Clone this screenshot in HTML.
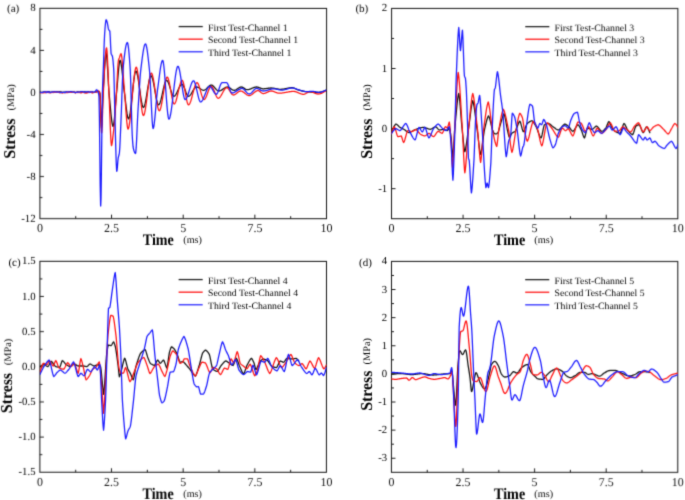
<!DOCTYPE html>
<html lang="en"><head><meta charset="utf-8"><title>Stress-time curves</title>
<style>html,body{margin:0;padding:0;background:#fff}body{width:685px;height:500px;overflow:hidden;font-family:"Liberation Serif", serif}svg text{font-family:"Liberation Serif", serif;text-rendering:geometricPrecision}</style>
</head><body>
<svg width="685" height="500" viewBox="0 0 685 500" style="display:block;font-family:'Liberation Serif', serif">
<rect width="685" height="500" fill="#fff"/>
<filter id="soft" x="0" y="0" width="685" height="500" filterUnits="userSpaceOnUse" color-interpolation-filters="sRGB"><feConvolveMatrix order="3" kernelMatrix="0.0192 0.1001 0.0192 0.1001 0.5228 0.1001 0.0192 0.1001 0.0192" edgeMode="duplicate" preserveAlpha="false"/></filter>
<g transform="rotate(0.02 342 250)" filter="url(#soft)">
<g id="panel-a">
<rect x="39.9" y="8.4" width="286.60" height="210.30" fill="none" stroke="#1c1c1c" stroke-width="1.05"/>
<path d="M39.9,50.46h4 M39.9,92.52h4 M39.9,134.58h4 M39.9,176.64h4 M39.9,29.43h2.5 M39.9,71.49h2.5 M39.9,113.55h2.5 M39.9,155.61h2.5 M39.9,197.67h2.5 M111.55,218.7v-4 M183.20,218.7v-4 M254.85,218.7v-4 M75.72,218.7v-2.5 M147.38,218.7v-2.5 M219.03,218.7v-2.5 M290.68,218.7v-2.5" stroke="#1c1c1c" stroke-width="1" fill="none"/>
<clipPath id="clipa"><rect x="39.9" y="8.4" width="286.6" height="210.29999999999998"/></clipPath>
<g clip-path="url(#clipa)" fill="none" stroke-width="1.28" stroke-linejoin="round" stroke-linecap="round">
<path d="M40.20,91.96 L40.60,92.16 L41.00,92.31 L41.40,92.38 L41.50,92.38 L41.80,92.36 L42.20,92.31 L42.60,92.25 L42.80,92.23 L43.00,92.23 L43.40,92.21 L43.80,92.20 L44.10,92.19 L44.20,92.19 L44.60,92.14 L45.00,92.10 L45.40,92.08 L45.40,92.08 L45.80,92.08 L46.20,92.09 L46.60,92.10 L46.70,92.10 L47.00,92.09 L47.40,92.05 L47.80,92.01 L48.00,91.99 L48.20,91.97 L48.60,91.93 L49.00,91.88 L49.30,91.87 L49.40,91.88 L49.80,92.04 L50.20,92.26 L50.60,92.38 L50.60,92.38 L51.00,92.32 L51.40,92.21 L51.80,92.13 L51.90,92.13 L52.20,92.14 L52.60,92.16 L53.00,92.18 L53.20,92.18 L53.40,92.17 L53.80,92.12 L54.20,92.06 L54.50,92.04 L54.60,92.05 L55.00,92.13 L55.40,92.24 L55.80,92.30 L55.80,92.30 L56.20,92.20 L56.60,92.01 L57.00,91.87 L57.10,91.87 L57.40,91.89 L57.80,91.98 L58.20,92.06 L58.40,92.07 L58.60,92.06 L59.00,91.98 L59.40,91.90 L59.70,91.87 L59.80,91.87 L60.20,91.88 L60.60,91.90 L61.00,91.92 L61.00,91.92 L61.40,92.05 L61.80,92.27 L62.20,92.42 L62.30,92.43 L62.60,92.41 L63.00,92.35 L63.40,92.27 L63.60,92.24 L63.80,92.22 L64.20,92.16 L64.60,92.12 L64.90,92.11 L65.00,92.11 L65.40,92.12 L65.80,92.14 L66.20,92.16 L66.20,92.16 L66.60,92.22 L67.00,92.31 L67.40,92.37 L67.50,92.37 L67.80,92.33 L68.20,92.20 L68.60,92.08 L68.80,92.06 L69.00,92.06 L69.40,92.11 L69.80,92.17 L70.10,92.20 L70.20,92.21 L70.60,92.23 L71.00,92.25 L71.40,92.26 L71.40,92.26 L71.80,92.22 L72.20,92.13 L72.60,92.07 L72.70,92.06 L73.00,92.07 L73.40,92.10 L73.80,92.14 L74.00,92.16 L74.20,92.18 L74.60,92.23 L75.00,92.28 L75.30,92.31 L75.40,92.32 L75.80,92.35 L76.20,92.38 L76.60,92.40 L76.60,92.40 L77.00,92.29 L77.40,92.09 L77.80,91.95 L77.90,91.94 L78.20,92.00 L78.60,92.20 L79.00,92.38 L79.20,92.41 L79.40,92.37 L79.80,92.16 L80.20,91.93 L80.50,91.85 L80.60,91.86 L81.00,92.00 L81.40,92.19 L81.80,92.30 L81.80,92.30 L82.20,92.32 L82.60,92.33 L83.00,92.34 L83.10,92.34 L83.40,92.28 L83.80,92.11 L84.20,91.96 L84.40,91.93 L84.60,91.94 L85.00,91.98 L85.40,92.05 L85.70,92.10 L85.80,92.12 L86.20,92.21 L86.60,92.30 L87.00,92.34 L87.00,92.34 L87.40,92.23 L87.80,92.02 L88.20,91.87 L88.30,91.86 L88.60,91.90 L89.00,92.04 L89.40,92.19 L89.60,92.23 L89.80,92.25 L90.20,92.29 L90.60,92.32 L90.90,92.33 L91.00,92.32 L91.40,92.27 L91.80,92.20 L92.20,92.16 L92.20,92.16 L92.60,92.19 L93.00,92.24 L93.40,92.28 L93.50,92.29 L93.80,92.28 L94.20,92.25 L94.60,92.21 L95.00,92.15 L95.40,92.09 L95.80,92.03 L96.00,92.00 L96.20,91.97 L96.60,91.89 L97.00,91.80 L97.40,91.70 L97.80,91.61 L98.20,91.55 L98.60,91.51 L98.80,91.50 L99.00,91.58 L99.40,92.19 L99.80,93.29 L100.00,94.00 L100.20,96.44 L100.60,108.12 L101.00,121.57 L101.40,128.00 L101.40,128.00 L101.80,124.09 L102.20,114.84 L102.60,103.91 L103.00,95.00 L103.00,95.00 L103.40,88.03 L103.80,80.74 L104.20,73.54 L104.60,66.84 L105.00,61.05 L105.40,56.59 L105.80,53.86 L106.10,53.20 L106.20,53.30 L106.60,55.42 L107.00,59.83 L107.40,65.86 L107.80,72.83 L108.20,80.08 L108.60,86.93 L109.00,92.72 L109.20,95.00 L109.40,97.08 L109.80,101.39 L110.20,105.79 L110.60,110.13 L111.00,114.26 L111.40,118.03 L111.80,121.28 L112.20,123.87 L112.60,125.65 L113.00,126.46 L113.10,126.50 L113.40,126.00 L113.80,123.97 L114.20,120.65 L114.60,116.38 L115.00,111.48 L115.40,106.27 L115.80,101.07 L116.20,96.21 L116.60,92.00 L116.60,92.00 L117.00,87.90 L117.40,83.31 L117.80,78.52 L118.20,73.78 L118.60,69.38 L119.00,65.57 L119.40,62.63 L119.80,60.84 L120.10,60.40 L120.20,60.44 L120.60,61.27 L121.00,63.08 L121.40,65.69 L121.80,68.91 L122.20,72.57 L122.60,76.49 L123.00,80.50 L123.40,84.42 L123.80,88.08 L124.20,91.29 L124.30,92.00 L124.60,94.18 L125.00,97.36 L125.40,100.72 L125.80,104.13 L126.20,107.48 L126.60,110.62 L127.00,113.44 L127.40,115.80 L127.80,117.58 L128.20,118.65 L128.50,118.90 L128.60,118.87 L129.00,118.28 L129.40,116.95 L129.80,115.00 L130.20,112.50 L130.60,109.56 L131.00,106.25 L131.40,102.66 L131.80,98.90 L132.20,95.05 L132.60,91.20 L133.00,87.44 L133.40,83.85 L133.80,80.54 L134.20,77.60 L134.60,75.10 L135.00,73.15 L135.40,71.82 L135.80,71.23 L135.90,71.20 L136.20,71.37 L136.60,72.09 L137.00,73.31 L137.40,74.98 L137.80,77.01 L138.20,79.35 L138.60,81.93 L139.00,84.68 L139.40,87.54 L139.80,90.44 L140.20,93.31 L140.60,96.10 L141.00,98.73 L141.40,101.13 L141.80,103.25 L142.20,105.01 L142.60,106.35 L143.00,107.20 L143.40,107.50 L143.40,107.50 L143.80,107.25 L144.20,106.52 L144.60,105.38 L145.00,103.88 L145.40,102.07 L145.80,100.01 L146.20,97.76 L146.60,95.37 L147.00,92.90 L147.40,90.40 L147.80,87.93 L148.20,85.54 L148.60,83.29 L149.00,81.23 L149.40,79.42 L149.80,77.92 L150.20,76.78 L150.60,76.05 L151.00,75.80 L151.00,75.80 L151.40,76.03 L151.80,76.70 L152.20,77.75 L152.60,79.13 L153.00,80.79 L153.40,82.67 L153.80,84.74 L154.20,86.93 L154.60,89.20 L155.00,91.50 L155.40,93.77 L155.80,95.96 L156.20,98.03 L156.60,99.91 L157.00,101.57 L157.40,102.95 L157.80,104.00 L158.20,104.67 L158.60,104.90 L158.60,104.90 L159.00,104.72 L159.40,104.20 L159.80,103.38 L160.20,102.29 L160.60,100.98 L161.00,99.49 L161.40,97.85 L161.80,96.10 L162.20,94.27 L162.60,92.42 L163.00,90.57 L163.40,88.76 L163.80,87.03 L164.20,85.42 L164.60,83.97 L165.00,82.71 L165.40,81.69 L165.80,80.94 L166.20,80.50 L166.50,80.40 L166.60,80.41 L167.00,80.61 L167.40,81.05 L167.80,81.70 L168.20,82.53 L168.60,83.51 L169.00,84.62 L169.40,85.81 L169.80,87.07 L170.20,88.35 L170.60,89.63 L171.00,90.89 L171.40,92.08 L171.80,93.19 L172.20,94.17 L172.60,95.00 L173.00,95.65 L173.40,96.09 L173.80,96.29 L173.90,96.30 L174.20,96.25 L174.60,96.04 L175.00,95.69 L175.40,95.20 L175.80,94.61 L176.20,93.91 L176.60,93.15 L177.00,92.32 L177.40,91.46 L177.80,90.57 L178.20,89.68 L178.60,88.80 L179.00,87.96 L179.40,87.16 L179.80,86.43 L180.20,85.78 L180.60,85.24 L181.00,84.82 L181.40,84.53 L181.80,84.41 L181.90,84.40 L182.20,84.47 L182.60,84.77 L183.00,85.28 L183.40,85.96 L183.80,86.79 L184.20,87.73 L184.60,88.75 L185.00,89.81 L185.40,90.89 L185.80,91.95 L186.20,92.97 L186.60,93.91 L187.00,94.74 L187.40,95.42 L187.80,95.93 L188.20,96.23 L188.50,96.30 L188.60,96.30 L189.00,96.19 L189.40,95.97 L189.80,95.63 L190.20,95.19 L190.60,94.68 L191.00,94.10 L191.40,93.46 L191.80,92.79 L192.20,92.09 L192.60,91.39 L193.00,90.69 L193.40,90.00 L193.80,89.36 L194.20,88.76 L194.60,88.23 L195.00,87.77 L195.40,87.41 L195.80,87.15 L196.20,87.02 L196.40,87.00 L196.60,87.01 L197.00,87.06 L197.40,87.17 L197.80,87.33 L198.20,87.52 L198.60,87.74 L199.00,87.98 L199.40,88.24 L199.80,88.51 L200.20,88.79 L200.60,89.06 L201.00,89.32 L201.40,89.56 L201.80,89.78 L202.20,89.97 L202.60,90.13 L203.00,90.24 L203.40,90.29 L203.60,90.30 L203.80,90.29 L204.20,90.21 L204.60,90.05 L205.00,89.84 L205.40,89.56 L205.80,89.25 L206.20,88.89 L206.60,88.51 L207.00,88.11 L207.40,87.70 L207.80,87.29 L208.20,86.89 L208.60,86.51 L209.00,86.15 L209.40,85.84 L209.80,85.56 L210.20,85.35 L210.60,85.19 L211.00,85.11 L211.20,85.10 L211.40,85.11 L211.80,85.20 L212.20,85.38 L212.60,85.63 L213.00,85.94 L213.40,86.30 L213.80,86.70 L214.20,87.13 L214.60,87.59 L215.00,88.05 L215.40,88.51 L215.80,88.97 L216.20,89.40 L216.60,89.80 L217.00,90.16 L217.40,90.47 L217.80,90.72 L218.20,90.90 L218.60,90.99 L218.80,91.00 L219.00,90.99 L219.40,90.94 L219.80,90.85 L220.20,90.72 L220.60,90.55 L221.00,90.35 L221.40,90.12 L221.80,89.88 L222.20,89.62 L222.60,89.35 L223.00,89.07 L223.40,88.79 L223.80,88.52 L224.20,88.25 L224.60,88.00 L225.00,87.76 L225.40,87.55 L225.80,87.36 L226.20,87.21 L226.60,87.10 L227.00,87.03 L227.40,87.00 L227.40,87.00 L227.80,87.03 L228.20,87.13 L228.60,87.29 L229.00,87.49 L229.40,87.73 L229.80,87.99 L230.20,88.28 L230.60,88.58 L231.00,88.87 L231.40,89.17 L231.80,89.44 L232.20,89.70 L232.60,89.92 L233.00,90.10 L233.40,90.22 L233.80,90.29 L234.00,90.30 L234.20,90.29 L234.60,90.24 L235.00,90.13 L235.40,89.97 L235.80,89.78 L236.20,89.56 L236.60,89.32 L237.00,89.06 L237.40,88.79 L237.80,88.51 L238.20,88.24 L238.60,87.98 L239.00,87.74 L239.40,87.52 L239.80,87.33 L240.20,87.17 L240.60,87.06 L241.00,87.01 L241.20,87.00 L241.40,87.01 L241.80,87.08 L242.20,87.20 L242.60,87.37 L243.00,87.58 L243.40,87.82 L243.80,88.08 L244.20,88.35 L244.60,88.62 L245.00,88.88 L245.40,89.12 L245.80,89.33 L246.20,89.50 L246.60,89.62 L247.00,89.69 L247.20,89.70 L247.40,89.70 L247.80,89.67 L248.20,89.61 L248.60,89.53 L249.00,89.44 L249.40,89.32 L249.80,89.18 L250.20,89.04 L250.60,88.88 L251.00,88.72 L251.40,88.55 L251.80,88.37 L252.20,88.20 L252.60,88.03 L253.00,87.86 L253.40,87.70 L253.80,87.55 L254.20,87.41 L254.60,87.29 L255.00,87.19 L255.40,87.10 L255.80,87.04 L256.20,87.01 L256.50,87.00 L256.60,87.00 L257.00,87.03 L257.40,87.09 L257.80,87.18 L258.20,87.29 L258.60,87.42 L259.00,87.56 L259.40,87.72 L259.80,87.88 L260.20,88.04 L260.60,88.20 L261.00,88.35 L261.40,88.48 L261.80,88.60 L262.20,88.69 L262.60,88.76 L263.00,88.80 L263.20,88.80 L263.40,88.80 L263.80,88.79 L264.20,88.76 L264.60,88.73 L265.00,88.69 L265.40,88.65 L265.80,88.60 L266.20,88.54 L266.60,88.48 L267.00,88.42 L267.40,88.36 L267.80,88.30 L268.20,88.24 L268.60,88.19 L269.00,88.14 L269.40,88.10 L269.80,88.06 L270.20,88.03 L270.60,88.01 L271.00,88.00 L271.10,88.00 L271.40,88.00 L271.80,88.02 L272.20,88.05 L272.60,88.09 L273.00,88.14 L273.40,88.20 L273.80,88.27 L274.20,88.34 L274.60,88.42 L275.00,88.50 L275.40,88.59 L275.80,88.67 L276.20,88.76 L276.60,88.84 L277.00,88.92 L277.40,88.99 L277.80,89.06 L278.20,89.13 L278.60,89.18 L279.00,89.23 L279.40,89.27 L279.80,89.29 L280.20,89.30 L280.30,89.30 L280.60,89.30 L281.00,89.28 L281.40,89.26 L281.80,89.23 L282.20,89.19 L282.60,89.14 L283.00,89.09 L283.40,89.03 L283.80,88.97 L284.20,88.90 L284.60,88.82 L285.00,88.75 L285.40,88.67 L285.80,88.59 L286.20,88.51 L286.60,88.43 L287.00,88.35 L287.40,88.27 L287.80,88.19 L288.20,88.12 L288.60,88.05 L289.00,87.98 L289.40,87.92 L289.80,87.87 L290.20,87.82 L290.60,87.78 L291.00,87.75 L291.40,87.72 L291.80,87.71 L292.20,87.70 L292.20,87.70 L292.60,87.72 L293.00,87.79 L293.40,87.90 L293.80,88.04 L294.20,88.21 L294.60,88.39 L295.00,88.59 L295.40,88.79 L295.80,88.99 L296.20,89.19 L296.60,89.37 L297.00,89.53 L297.40,89.67 L297.50,89.70 L297.80,89.78 L298.20,89.90 L298.60,90.01 L299.00,90.12 L299.40,90.23 L299.80,90.34 L300.20,90.45 L300.60,90.56 L301.00,90.66 L301.40,90.76 L301.80,90.86 L302.20,90.95 L302.60,91.04 L303.00,91.13 L303.40,91.21 L303.80,91.29 L304.20,91.37 L304.60,91.43 L305.00,91.50 L305.40,91.56 L305.80,91.61 L306.20,91.65 L306.60,91.69 L306.70,91.70 L307.00,91.73 L307.40,91.76 L307.80,91.79 L308.20,91.82 L308.60,91.85 L309.00,91.88 L309.40,91.91 L309.80,91.94 L310.20,91.97 L310.60,92.00 L311.00,92.03 L311.40,92.05 L311.80,92.08 L312.20,92.10 L312.60,92.12 L313.00,92.14 L313.40,92.16 L313.80,92.18 L314.20,92.20 L314.60,92.22 L315.00,92.23 L315.40,92.25 L315.80,92.26 L316.20,92.27 L316.60,92.28 L317.00,92.29 L317.40,92.29 L317.80,92.30 L318.20,92.30 L318.60,92.30 L318.60,92.30 L319.00,92.29 L319.40,92.26 L319.80,92.22 L320.20,92.16 L320.60,92.09 L321.00,92.00 L321.40,91.91 L321.80,91.80 L322.20,91.68 L322.60,91.55 L323.00,91.41 L323.40,91.27 L323.80,91.12 L324.20,90.97 L324.60,90.82 L325.00,90.66 L325.40,90.50 L325.80,90.34 L325.90,90.30" stroke="#151515"/>
<path d="M40.20,92.96 L40.60,92.73 L41.00,92.58 L41.40,92.51 L41.50,92.51 L41.80,92.57 L42.20,92.74 L42.60,92.89 L42.80,92.92 L43.00,92.90 L43.40,92.81 L43.80,92.70 L44.10,92.67 L44.20,92.67 L44.60,92.71 L45.00,92.76 L45.40,92.79 L45.40,92.79 L45.80,92.61 L46.20,92.27 L46.60,92.02 L46.70,92.01 L47.00,92.08 L47.40,92.31 L47.80,92.51 L48.00,92.55 L48.20,92.55 L48.60,92.53 L49.00,92.51 L49.30,92.51 L49.40,92.52 L49.80,92.65 L50.20,92.85 L50.60,92.95 L50.60,92.95 L51.00,92.81 L51.40,92.54 L51.80,92.34 L51.90,92.33 L52.20,92.37 L52.60,92.49 L53.00,92.60 L53.20,92.62 L53.40,92.58 L53.80,92.33 L54.20,92.06 L54.50,91.97 L54.60,91.98 L55.00,92.10 L55.40,92.28 L55.80,92.37 L55.80,92.37 L56.20,92.36 L56.60,92.33 L57.00,92.30 L57.10,92.29 L57.40,92.24 L57.80,92.16 L58.20,92.09 L58.40,92.08 L58.60,92.13 L59.00,92.43 L59.40,92.77 L59.70,92.88 L59.80,92.87 L60.20,92.71 L60.60,92.47 L61.00,92.36 L61.00,92.36 L61.40,92.52 L61.80,92.84 L62.20,93.06 L62.30,93.07 L62.60,93.01 L63.00,92.81 L63.40,92.64 L63.60,92.61 L63.80,92.61 L64.20,92.61 L64.60,92.62 L64.90,92.63 L65.00,92.63 L65.40,92.64 L65.80,92.65 L66.20,92.67 L66.20,92.67 L66.60,92.68 L67.00,92.70 L67.40,92.71 L67.50,92.71 L67.80,92.63 L68.20,92.36 L68.60,92.12 L68.80,92.08 L69.00,92.10 L69.40,92.23 L69.80,92.38 L70.10,92.43 L70.20,92.42 L70.60,92.35 L71.00,92.24 L71.40,92.19 L71.40,92.19 L71.80,92.23 L72.20,92.32 L72.60,92.38 L72.70,92.38 L73.00,92.33 L73.40,92.18 L73.80,92.04 L74.00,92.02 L74.20,92.08 L74.60,92.48 L75.00,92.92 L75.30,93.06 L75.40,93.05 L75.80,92.76 L76.20,92.36 L76.60,92.16 L76.60,92.16 L77.00,92.28 L77.40,92.53 L77.80,92.70 L77.90,92.71 L78.20,92.65 L78.60,92.46 L79.00,92.29 L79.20,92.26 L79.40,92.30 L79.80,92.57 L80.20,92.86 L80.50,92.95 L80.60,92.95 L81.00,92.90 L81.40,92.81 L81.80,92.69 L81.80,92.69 L82.20,92.50 L82.60,92.23 L83.00,92.07 L83.10,92.06 L83.40,92.17 L83.80,92.51 L84.20,92.84 L84.40,92.91 L84.60,92.94 L85.00,93.00 L85.40,93.03 L85.70,93.03 L85.80,93.03 L86.20,93.03 L86.60,93.01 L87.00,92.98 L87.00,92.98 L87.40,92.91 L87.80,92.77 L88.20,92.62 L88.30,92.58 L88.60,92.45 L89.00,92.25 L89.40,92.10 L89.60,92.07 L89.80,92.08 L90.20,92.09 L90.60,92.11 L90.90,92.13 L91.00,92.15 L91.40,92.44 L91.80,92.82 L92.20,93.01 L92.20,93.01 L92.60,92.93 L93.00,92.75 L93.40,92.59 L93.50,92.56 L93.80,92.51 L94.20,92.45 L94.60,92.40 L95.00,92.36 L95.40,92.31 L95.80,92.24 L96.00,92.20 L96.20,92.14 L96.60,91.96 L97.00,91.72 L97.40,91.47 L97.80,91.23 L98.20,91.07 L98.60,91.00 L98.60,91.00 L99.00,91.26 L99.40,91.96 L99.80,93.00 L99.80,93.00 L100.20,98.76 L100.60,110.40 L101.00,123.02 L101.40,131.69 L101.60,133.00 L101.80,131.77 L102.20,123.56 L102.60,111.33 L103.00,99.44 L103.20,95.00 L103.40,91.26 L103.80,83.52 L104.20,75.73 L104.60,68.24 L105.00,61.42 L105.40,55.62 L105.80,51.21 L106.20,48.54 L106.50,47.90 L106.60,48.05 L107.00,51.24 L107.40,57.77 L107.80,66.53 L108.20,76.40 L108.60,86.26 L109.00,95.00 L109.00,95.00 L109.40,103.98 L109.80,114.45 L110.20,125.12 L110.60,134.69 L111.00,141.90 L111.40,145.44 L111.50,145.60 L111.80,144.99 L112.20,142.66 L112.60,139.35 L113.00,135.82 L113.10,135.00 L113.40,132.47 L113.80,128.72 L114.20,124.55 L114.60,120.00 L114.60,120.00 L115.00,114.89 L115.40,109.16 L115.80,103.03 L116.20,96.72 L116.50,92.00 L116.60,90.37 L117.00,82.79 L117.40,74.59 L117.80,67.15 L118.20,61.88 L118.40,60.50 L118.60,59.74 L119.00,58.71 L119.30,58.00 L119.40,57.73 L119.80,56.47 L120.20,55.19 L120.60,54.20 L121.00,53.80 L121.00,53.80 L121.40,54.75 L121.80,57.36 L122.20,61.28 L122.60,66.18 L123.00,71.70 L123.40,77.49 L123.80,83.21 L124.20,88.51 L124.50,92.00 L124.60,93.10 L125.00,98.01 L125.40,103.44 L125.80,109.08 L126.20,114.59 L126.60,119.65 L127.00,123.94 L127.40,127.12 L127.80,128.87 L128.00,129.10 L128.20,128.99 L128.60,128.15 L129.00,126.56 L129.40,124.30 L129.80,121.46 L130.20,118.12 L130.60,114.38 L131.00,110.31 L131.40,106.00 L131.80,101.54 L132.20,97.02 L132.60,92.52 L133.00,88.12 L133.40,83.92 L133.80,80.00 L134.20,76.45 L134.60,73.35 L135.00,70.79 L135.40,68.85 L135.80,67.63 L136.20,67.20 L136.20,67.20 L136.60,67.63 L137.00,68.86 L137.40,70.79 L137.80,73.31 L138.20,76.33 L138.60,79.75 L139.00,83.47 L139.40,87.38 L139.80,91.40 L140.20,95.42 L140.60,99.33 L141.00,103.05 L141.40,106.47 L141.80,109.49 L142.20,112.01 L142.60,113.94 L143.00,115.17 L143.40,115.60 L143.40,115.60 L143.80,115.28 L144.20,114.38 L144.60,112.96 L145.00,111.09 L145.40,108.82 L145.80,106.24 L146.20,103.40 L146.60,100.37 L147.00,97.21 L147.40,94.00 L147.80,90.79 L148.20,87.66 L148.60,84.67 L149.00,81.89 L149.40,79.38 L149.80,77.21 L150.20,75.44 L150.60,74.14 L151.00,73.38 L151.30,73.20 L151.40,73.22 L151.80,73.62 L152.20,74.52 L152.60,75.86 L153.00,77.57 L153.40,79.61 L153.80,81.92 L154.20,84.44 L154.60,87.12 L155.00,89.89 L155.40,92.70 L155.80,95.51 L156.20,98.24 L156.60,100.84 L157.00,103.26 L157.40,105.44 L157.80,107.33 L158.20,108.86 L158.60,109.99 L159.00,110.65 L159.30,110.80 L159.40,110.78 L159.80,110.41 L160.20,109.59 L160.60,108.37 L161.00,106.80 L161.40,104.94 L161.80,102.84 L162.20,100.54 L162.60,98.11 L163.00,95.59 L163.40,93.04 L163.80,90.51 L164.20,88.06 L164.60,85.72 L165.00,83.57 L165.40,81.64 L165.80,79.99 L166.20,78.68 L166.60,77.75 L167.00,77.26 L167.20,77.20 L167.40,77.26 L167.80,77.76 L168.20,78.68 L168.60,79.99 L169.00,81.60 L169.40,83.48 L169.80,85.55 L170.20,87.75 L170.60,90.03 L171.00,92.32 L171.40,94.57 L171.80,96.71 L172.20,98.69 L172.60,100.44 L173.00,101.91 L173.40,103.03 L173.80,103.75 L174.20,104.00 L174.20,104.00 L174.60,103.82 L175.00,103.32 L175.40,102.53 L175.80,101.49 L176.20,100.23 L176.60,98.79 L177.00,97.21 L177.40,95.52 L177.80,93.76 L178.20,91.98 L178.60,90.19 L179.00,88.45 L179.40,86.79 L179.80,85.24 L180.20,83.84 L180.60,82.63 L181.00,81.65 L181.40,80.92 L181.80,80.50 L182.10,80.40 L182.20,80.42 L182.60,80.83 L183.00,81.72 L183.40,83.02 L183.80,84.67 L184.20,86.58 L184.60,88.69 L185.00,90.93 L185.40,93.22 L185.80,95.50 L186.20,97.68 L186.60,99.70 L187.00,101.49 L187.40,102.98 L187.80,104.08 L188.20,104.74 L188.50,104.90 L188.60,104.89 L189.00,104.68 L189.40,104.21 L189.80,103.50 L190.20,102.59 L190.60,101.50 L191.00,100.27 L191.40,98.91 L191.80,97.46 L192.20,95.94 L192.60,94.39 L193.00,92.82 L193.40,91.27 L193.80,89.77 L194.20,88.34 L194.60,87.01 L195.00,85.81 L195.40,84.76 L195.80,83.90 L196.20,83.25 L196.60,82.84 L197.00,82.70 L197.00,82.70 L197.40,82.86 L197.80,83.31 L198.20,84.02 L198.60,84.95 L199.00,86.05 L199.40,87.30 L199.80,88.65 L200.20,90.07 L200.60,91.51 L201.00,92.95 L201.40,94.34 L201.80,95.64 L202.20,96.82 L202.60,97.84 L203.00,98.66 L203.40,99.25 L203.80,99.56 L204.00,99.60 L204.20,99.57 L204.60,99.34 L205.00,98.91 L205.40,98.30 L205.80,97.54 L206.20,96.66 L206.60,95.68 L207.00,94.63 L207.40,93.55 L207.80,92.45 L208.20,91.37 L208.60,90.32 L209.00,89.34 L209.40,88.46 L209.80,87.70 L210.20,87.09 L210.60,86.66 L211.00,86.43 L211.20,86.40 L211.40,86.43 L211.80,86.65 L212.20,87.06 L212.60,87.64 L213.00,88.36 L213.40,89.19 L213.80,90.11 L214.20,91.08 L214.60,92.10 L215.00,93.11 L215.40,94.11 L215.80,95.06 L216.20,95.94 L216.60,96.72 L217.00,97.37 L217.40,97.87 L217.80,98.19 L218.20,98.30 L218.20,98.30 L218.60,98.23 L219.00,98.04 L219.40,97.73 L219.80,97.31 L220.20,96.82 L220.60,96.24 L221.00,95.61 L221.40,94.92 L221.80,94.21 L222.20,93.47 L222.60,92.72 L223.00,91.98 L223.40,91.25 L223.80,90.56 L224.20,89.91 L224.60,89.32 L225.00,88.80 L225.40,88.37 L225.80,88.03 L226.20,87.81 L226.60,87.70 L226.70,87.70 L227.00,87.74 L227.40,87.93 L227.80,88.24 L228.20,88.66 L228.60,89.17 L229.00,89.74 L229.40,90.37 L229.80,91.02 L230.20,91.68 L230.60,92.33 L231.00,92.96 L231.40,93.53 L231.80,94.04 L232.20,94.46 L232.60,94.77 L233.00,94.96 L233.30,95.00 L233.40,95.00 L233.80,94.95 L234.20,94.83 L234.60,94.66 L235.00,94.45 L235.40,94.20 L235.80,93.91 L236.20,93.61 L236.60,93.29 L237.00,92.96 L237.40,92.63 L237.80,92.31 L238.20,92.01 L238.60,91.74 L239.00,91.49 L239.40,91.29 L239.80,91.13 L240.20,91.03 L240.60,91.00 L240.60,91.00 L241.00,91.03 L241.40,91.11 L241.80,91.24 L242.20,91.42 L242.60,91.63 L243.00,91.87 L243.40,92.15 L243.80,92.44 L244.20,92.74 L244.60,93.06 L245.00,93.38 L245.40,93.70 L245.80,94.01 L246.20,94.31 L246.60,94.59 L247.00,94.85 L247.40,95.08 L247.80,95.27 L248.20,95.43 L248.60,95.54 L249.00,95.59 L249.20,95.60 L249.40,95.59 L249.80,95.53 L250.20,95.42 L250.60,95.25 L251.00,95.05 L251.40,94.80 L251.80,94.53 L252.20,94.23 L252.60,93.91 L253.00,93.57 L253.40,93.23 L253.80,92.88 L254.20,92.54 L254.60,92.21 L255.00,91.90 L255.40,91.60 L255.80,91.33 L256.20,91.10 L256.60,90.90 L257.00,90.75 L257.40,90.65 L257.80,90.60 L257.90,90.60 L258.20,90.63 L258.60,90.74 L259.00,90.93 L259.40,91.18 L259.80,91.48 L260.20,91.80 L260.60,92.14 L261.00,92.48 L261.40,92.80 L261.80,93.08 L262.20,93.32 L262.60,93.49 L263.00,93.59 L263.20,93.60 L263.40,93.60 L263.80,93.56 L264.20,93.49 L264.60,93.38 L265.00,93.26 L265.40,93.11 L265.80,92.94 L266.20,92.76 L266.60,92.57 L267.00,92.37 L267.40,92.18 L267.80,91.98 L268.20,91.79 L268.60,91.62 L269.00,91.45 L269.40,91.31 L269.80,91.19 L270.20,91.09 L270.60,91.03 L271.00,91.00 L271.10,91.00 L271.40,91.01 L271.80,91.05 L272.20,91.12 L272.60,91.21 L273.00,91.32 L273.40,91.45 L273.80,91.60 L274.20,91.75 L274.60,91.91 L275.00,92.08 L275.40,92.25 L275.80,92.41 L276.20,92.57 L276.60,92.71 L277.00,92.85 L277.40,92.97 L277.80,93.06 L278.20,93.14 L278.60,93.18 L279.00,93.20 L279.00,93.20 L279.40,93.20 L279.80,93.18 L280.20,93.17 L280.60,93.14 L281.00,93.11 L281.40,93.07 L281.80,93.02 L282.20,92.98 L282.60,92.92 L283.00,92.86 L283.40,92.80 L283.80,92.74 L284.20,92.67 L284.60,92.60 L285.00,92.53 L285.40,92.46 L285.80,92.38 L286.20,92.31 L286.60,92.23 L287.00,92.16 L287.40,92.09 L287.80,92.02 L288.20,91.95 L288.60,91.88 L289.00,91.81 L289.40,91.75 L289.80,91.69 L290.20,91.64 L290.60,91.59 L291.00,91.54 L291.40,91.50 L291.80,91.47 L292.20,91.44 L292.60,91.42 L293.00,91.41 L293.40,91.40 L293.50,91.40 L293.80,91.41 L294.20,91.44 L294.60,91.50 L295.00,91.58 L295.40,91.68 L295.80,91.80 L296.20,91.93 L296.60,92.07 L297.00,92.23 L297.40,92.40 L297.80,92.57 L298.20,92.74 L298.60,92.92 L299.00,93.09 L299.40,93.26 L299.80,93.43 L300.20,93.59 L300.60,93.74 L301.00,93.87 L301.40,93.99 L301.80,94.10 L302.20,94.18 L302.60,94.25 L303.00,94.29 L303.40,94.30 L303.40,94.30 L303.80,94.27 L304.20,94.19 L304.60,94.07 L305.00,93.92 L305.40,93.73 L305.80,93.52 L306.20,93.29 L306.60,93.06 L307.00,92.82 L307.40,92.59 L307.80,92.37 L308.20,92.17 L308.60,92.00 L309.00,91.86 L309.40,91.76 L309.80,91.71 L310.00,91.70 L310.20,91.70 L310.60,91.74 L311.00,91.80 L311.40,91.89 L311.80,92.00 L312.20,92.13 L312.60,92.27 L313.00,92.43 L313.40,92.59 L313.80,92.76 L314.20,92.94 L314.60,93.11 L315.00,93.27 L315.40,93.43 L315.80,93.57 L316.20,93.70 L316.60,93.81 L317.00,93.90 L317.40,93.96 L317.80,94.00 L318.00,94.00 L318.20,94.00 L318.60,93.98 L319.00,93.94 L319.40,93.88 L319.80,93.80 L320.20,93.70 L320.60,93.59 L321.00,93.46 L321.40,93.31 L321.80,93.14 L322.20,92.96 L322.60,92.76 L323.00,92.55 L323.40,92.33 L323.80,92.08 L324.20,91.83 L324.60,91.56 L325.00,91.28 L325.40,90.98 L325.80,90.68 L325.90,90.60" stroke="#ff1414"/>
<path d="M40.20,92.29 L40.60,92.43 L41.00,92.54 L41.40,92.58 L41.50,92.59 L41.80,92.58 L42.20,92.54 L42.60,92.49 L42.80,92.45 L43.00,92.39 L43.40,92.16 L43.80,91.92 L44.10,91.85 L44.20,91.85 L44.60,91.86 L45.00,91.89 L45.40,91.93 L45.40,91.93 L45.80,92.09 L46.20,92.37 L46.60,92.55 L46.70,92.56 L47.00,92.43 L47.40,92.03 L47.80,91.67 L48.00,91.61 L48.20,91.66 L48.60,92.00 L49.00,92.38 L49.30,92.50 L49.40,92.50 L49.80,92.50 L50.20,92.49 L50.60,92.48 L50.60,92.48 L51.00,92.40 L51.40,92.26 L51.80,92.14 L51.90,92.11 L52.20,92.06 L52.60,91.99 L53.00,91.95 L53.20,91.93 L53.40,91.93 L53.80,91.92 L54.20,91.91 L54.50,91.91 L54.60,91.90 L55.00,91.89 L55.40,91.88 L55.80,91.88 L55.80,91.88 L56.20,91.92 L56.60,92.01 L57.00,92.08 L57.10,92.09 L57.40,92.11 L57.80,92.13 L58.20,92.15 L58.40,92.16 L58.60,92.16 L59.00,92.18 L59.40,92.19 L59.70,92.21 L59.80,92.22 L60.20,92.38 L60.60,92.59 L61.00,92.70 L61.00,92.70 L61.40,92.66 L61.80,92.58 L62.20,92.49 L62.30,92.47 L62.60,92.42 L63.00,92.34 L63.40,92.29 L63.60,92.28 L63.80,92.31 L64.20,92.46 L64.60,92.63 L64.90,92.69 L65.00,92.67 L65.40,92.42 L65.80,92.05 L66.20,91.84 L66.20,91.84 L66.60,91.81 L67.00,91.79 L67.40,91.78 L67.50,91.78 L67.80,91.84 L68.20,92.05 L68.60,92.24 L68.80,92.27 L69.00,92.23 L69.40,92.00 L69.80,91.74 L70.10,91.65 L70.20,91.65 L70.60,91.64 L71.00,91.64 L71.40,91.64 L71.40,91.64 L71.80,91.76 L72.20,91.99 L72.60,92.16 L72.70,92.17 L73.00,92.16 L73.40,92.14 L73.80,92.12 L74.00,92.11 L74.20,92.14 L74.60,92.33 L75.00,92.54 L75.30,92.61 L75.40,92.60 L75.80,92.52 L76.20,92.39 L76.60,92.29 L76.60,92.29 L77.00,92.24 L77.40,92.20 L77.80,92.17 L77.90,92.17 L78.20,92.16 L78.60,92.16 L79.00,92.15 L79.20,92.15 L79.40,92.13 L79.80,92.05 L80.20,91.94 L80.50,91.87 L80.60,91.85 L81.00,91.75 L81.40,91.65 L81.80,91.61 L81.80,91.61 L82.20,91.64 L82.60,91.70 L83.00,91.79 L83.10,91.81 L83.40,91.93 L83.80,92.15 L84.20,92.33 L84.40,92.36 L84.60,92.33 L85.00,92.12 L85.40,91.89 L85.70,91.82 L85.80,91.82 L86.20,91.88 L86.60,91.96 L87.00,92.01 L87.00,92.01 L87.40,91.92 L87.80,91.74 L88.20,91.61 L88.30,91.60 L88.60,91.73 L89.00,92.11 L89.40,92.46 L89.60,92.51 L89.80,92.47 L90.20,92.18 L90.60,91.87 L90.90,91.77 L91.00,91.77 L91.40,91.80 L91.80,91.85 L92.20,91.89 L92.20,91.89 L92.60,91.93 L93.00,91.98 L93.40,92.02 L93.80,92.06 L94.20,92.09 L94.60,92.10 L94.60,92.10 L95.00,91.87 L95.40,91.33 L95.80,90.67 L96.20,90.13 L96.60,89.90 L96.60,89.90 L97.00,90.13 L97.40,90.72 L97.80,91.54 L98.00,92.00 L98.20,92.52 L98.60,94.11 L98.90,96.00 L99.00,97.66 L99.40,118.72 L99.80,152.70 L100.20,186.01 L100.60,205.06 L100.70,206.00 L101.00,198.30 L101.40,170.58 L101.80,134.60 L102.20,103.09 L102.40,93.00 L102.60,86.31 L103.00,75.81 L103.40,66.00 L103.40,66.00 L103.80,54.20 L104.20,42.44 L104.60,34.00 L104.60,34.00 L105.00,28.45 L105.40,23.71 L105.80,20.59 L106.10,19.80 L106.20,19.84 L106.60,20.58 L107.00,21.95 L107.40,23.50 L107.40,23.50 L107.80,25.66 L108.20,28.16 L108.50,29.40 L108.60,29.62 L109.00,30.19 L109.40,30.61 L109.80,31.40 L109.80,31.40 L110.20,36.70 L110.60,46.07 L111.00,53.14 L111.10,53.80 L111.40,54.59 L111.80,55.17 L112.20,55.91 L112.30,56.20 L112.60,57.60 L113.00,60.76 L113.40,65.32 L113.70,69.60 L113.80,71.53 L114.20,85.24 L114.60,103.59 L115.00,120.00 L115.00,120.00 L115.40,134.49 L115.80,149.57 L116.20,162.42 L116.60,170.20 L116.80,171.30 L117.00,170.70 L117.40,166.89 L117.80,161.79 L118.20,158.00 L118.20,158.00 L118.60,156.33 L119.00,155.01 L119.30,153.50 L119.40,152.71 L119.80,147.19 L120.20,138.93 L120.60,129.38 L121.00,120.00 L121.00,120.00 L121.40,109.81 L121.80,97.99 L122.20,86.23 L122.60,76.21 L123.00,69.60 L123.00,69.60 L123.40,65.37 L123.80,61.40 L124.20,57.70 L124.60,54.32 L125.00,51.30 L125.40,48.67 L125.80,46.47 L126.20,44.73 L126.60,43.48 L127.00,42.76 L127.30,42.60 L127.40,42.64 L127.80,43.66 L128.20,45.90 L128.60,49.19 L129.00,53.37 L129.40,58.27 L129.80,63.74 L130.20,69.60 L130.20,69.60 L130.60,79.16 L131.00,93.70 L131.40,109.99 L131.80,124.83 L132.20,135.00 L132.20,135.00 L132.60,141.34 L133.00,146.20 L133.30,148.30 L133.40,148.72 L133.80,150.26 L134.20,151.54 L134.60,152.53 L135.00,153.19 L135.40,153.49 L135.50,153.50 L135.80,152.27 L136.20,147.41 L136.60,139.93 L137.00,131.00 L137.40,121.79 L137.80,113.47 L138.00,110.00 L138.20,106.80 L138.60,100.22 L139.00,93.61 L139.40,87.19 L139.80,81.20 L140.20,75.87 L140.60,71.42 L140.80,69.60 L141.00,67.93 L141.40,64.61 L141.80,61.37 L142.20,58.25 L142.60,55.30 L143.00,52.58 L143.40,50.14 L143.80,48.03 L144.20,46.30 L144.60,45.00 L145.00,44.18 L145.40,43.90 L145.40,43.90 L145.80,44.29 L146.20,45.39 L146.60,47.13 L147.00,49.41 L147.40,52.15 L147.80,55.25 L148.20,58.64 L148.60,62.21 L149.00,65.90 L149.40,69.60 L149.40,69.60 L149.80,74.45 L150.20,81.19 L150.60,89.21 L151.00,97.86 L151.40,106.51 L151.80,114.52 L152.20,121.27 L152.60,126.10 L153.00,128.40 L153.10,128.50 L153.40,128.12 L153.80,126.54 L154.20,123.93 L154.60,120.49 L155.00,116.43 L155.40,111.96 L155.80,107.29 L156.20,102.62 L156.60,98.17 L157.00,94.13 L157.40,90.73 L157.50,90.00 L157.80,87.84 L158.20,84.83 L158.60,81.72 L159.00,78.58 L159.40,75.49 L159.80,72.51 L160.20,69.70 L160.60,67.14 L161.00,64.90 L161.40,63.03 L161.80,61.61 L162.20,60.71 L162.60,60.40 L162.60,60.40 L163.00,61.08 L163.40,63.00 L163.80,65.99 L164.20,69.85 L164.60,74.42 L165.00,79.50 L165.40,84.92 L165.80,90.50 L166.20,96.06 L166.60,101.41 L167.00,106.38 L167.40,110.79 L167.80,114.45 L168.20,117.18 L168.60,118.81 L168.90,119.20 L169.00,119.18 L169.40,118.73 L169.80,117.72 L170.20,116.21 L170.60,114.25 L171.00,111.90 L171.40,109.22 L171.80,106.26 L172.20,103.08 L172.60,99.73 L173.00,96.27 L173.40,92.75 L173.80,89.23 L174.20,85.77 L174.60,82.42 L175.00,79.24 L175.40,76.28 L175.80,73.60 L176.20,71.25 L176.60,69.29 L177.00,67.78 L177.40,66.77 L177.80,66.32 L177.90,66.30 L178.20,66.46 L178.60,67.16 L179.00,68.34 L179.40,69.94 L179.80,71.89 L180.20,74.13 L180.60,76.60 L181.00,79.22 L181.40,81.92 L181.80,84.66 L182.20,87.35 L182.60,89.94 L183.00,92.35 L183.40,94.52 L183.80,96.40 L184.20,97.90 L184.60,98.96 L185.00,99.53 L185.20,99.60 L185.40,99.57 L185.80,99.32 L186.20,98.85 L186.60,98.18 L187.00,97.33 L187.40,96.34 L187.80,95.22 L188.20,94.01 L188.60,92.72 L189.00,91.39 L189.40,90.03 L189.80,88.68 L190.20,87.35 L190.60,86.08 L191.00,84.89 L191.40,83.80 L191.80,82.84 L192.20,82.04 L192.60,81.42 L193.00,81.00 L193.40,80.81 L193.50,80.80 L193.80,80.91 L194.20,81.38 L194.60,82.17 L195.00,83.24 L195.40,84.54 L195.80,86.03 L196.20,87.67 L196.60,89.40 L197.00,91.18 L197.40,92.96 L197.80,94.71 L198.20,96.37 L198.60,97.90 L199.00,99.26 L199.40,100.39 L199.80,101.25 L200.20,101.81 L200.60,102.00 L200.60,102.00 L201.00,101.91 L201.40,101.65 L201.80,101.24 L202.20,100.70 L202.60,100.03 L203.00,99.26 L203.40,98.41 L203.80,97.49 L204.20,96.51 L204.60,95.49 L205.00,94.46 L205.40,93.42 L205.80,92.39 L206.20,91.40 L206.60,90.44 L207.00,89.55 L207.40,88.74 L207.80,88.02 L208.20,87.42 L208.60,86.93 L209.00,86.60 L209.40,86.42 L209.60,86.40 L209.80,86.42 L210.20,86.58 L210.60,86.89 L211.00,87.32 L211.40,87.84 L211.80,88.45 L212.20,89.11 L212.60,89.81 L213.00,90.53 L213.40,91.24 L213.80,91.93 L214.20,92.56 L214.60,93.13 L215.00,93.61 L215.40,93.98 L215.80,94.22 L216.20,94.30 L216.20,94.30 L216.60,94.15 L217.00,93.72 L217.40,93.06 L217.80,92.20 L218.20,91.20 L218.60,90.10 L219.00,88.94 L219.40,87.76 L219.80,86.61 L220.20,85.53 L220.60,84.57 L221.00,83.76 L221.40,83.15 L221.80,82.79 L222.10,82.70 L222.20,82.70 L222.60,82.70 L223.00,82.70 L223.40,82.70 L223.80,82.70 L224.20,82.70 L224.60,82.70 L225.00,82.70 L225.40,82.70 L225.80,82.70 L226.20,82.70 L226.50,82.70 L226.60,82.71 L227.00,82.94 L227.40,83.44 L227.80,84.15 L228.20,85.04 L228.60,86.06 L229.00,87.15 L229.40,88.27 L229.80,89.37 L230.20,90.41 L230.60,91.34 L231.00,92.10 L231.40,92.66 L231.80,92.96 L232.00,93.00 L232.20,92.99 L232.60,92.94 L233.00,92.85 L233.40,92.72 L233.80,92.55 L234.20,92.36 L234.60,92.14 L235.00,91.90 L235.40,91.64 L235.80,91.38 L236.20,91.11 L236.60,90.85 L237.00,90.59 L237.40,90.34 L237.80,90.10 L238.20,89.89 L238.60,89.70 L238.60,89.70 L239.00,89.51 L239.40,89.31 L239.80,89.10 L240.20,88.89 L240.60,88.71 L241.00,88.56 L241.40,88.45 L241.80,88.40 L241.90,88.40 L242.20,88.43 L242.60,88.54 L243.00,88.74 L243.40,89.01 L243.80,89.34 L244.20,89.72 L244.60,90.13 L245.00,90.57 L245.40,91.03 L245.80,91.49 L246.20,91.94 L246.60,92.37 L247.00,92.78 L247.40,93.15 L247.80,93.46 L248.20,93.71 L248.60,93.89 L249.00,93.99 L249.20,94.00 L249.40,93.99 L249.80,93.90 L250.20,93.72 L250.60,93.47 L251.00,93.17 L251.40,92.81 L251.80,92.41 L252.20,91.99 L252.60,91.54 L253.00,91.09 L253.40,90.64 L253.80,90.20 L254.20,89.79 L254.60,89.41 L255.00,89.07 L255.40,88.79 L255.80,88.58 L256.20,88.45 L256.60,88.40 L256.60,88.40 L257.00,88.43 L257.40,88.51 L257.80,88.63 L258.20,88.78 L258.60,88.97 L259.00,89.18 L259.40,89.41 L259.80,89.64 L260.20,89.88 L260.60,90.11 L261.00,90.33 L261.40,90.53 L261.80,90.70 L262.20,90.84 L262.60,90.94 L263.00,90.99 L263.20,91.00 L263.40,91.00 L263.80,90.98 L264.20,90.94 L264.60,90.89 L265.00,90.83 L265.40,90.75 L265.80,90.66 L266.20,90.56 L266.60,90.46 L267.00,90.34 L267.40,90.23 L267.80,90.10 L268.20,89.98 L268.60,89.85 L269.00,89.73 L269.40,89.60 L269.80,89.49 L270.20,89.37 L270.60,89.26 L271.00,89.16 L271.40,89.07 L271.80,88.99 L272.20,88.92 L272.60,88.87 L273.00,88.83 L273.40,88.81 L273.70,88.80 L273.80,88.80 L274.20,88.81 L274.60,88.85 L275.00,88.89 L275.40,88.95 L275.80,89.02 L276.20,89.10 L276.60,89.19 L277.00,89.28 L277.40,89.38 L277.80,89.47 L278.20,89.57 L278.60,89.67 L279.00,89.76 L279.40,89.84 L279.80,89.91 L280.20,89.98 L280.60,90.03 L281.00,90.07 L281.40,90.09 L281.70,90.10 L281.80,90.10 L282.20,90.09 L282.60,90.06 L283.00,90.01 L283.40,89.95 L283.80,89.88 L284.20,89.80 L284.60,89.71 L285.00,89.61 L285.40,89.50 L285.80,89.39 L286.20,89.27 L286.60,89.15 L287.00,89.04 L287.40,88.92 L287.80,88.80 L288.20,88.68 L288.60,88.57 L289.00,88.47 L289.40,88.37 L289.80,88.28 L290.20,88.20 L290.60,88.13 L291.00,88.08 L291.40,88.03 L291.80,88.01 L292.20,88.00 L292.20,88.00 L292.60,88.01 L293.00,88.05 L293.40,88.11 L293.80,88.18 L294.20,88.28 L294.60,88.38 L295.00,88.51 L295.40,88.64 L295.80,88.78 L296.20,88.93 L296.60,89.08 L297.00,89.24 L297.40,89.39 L297.80,89.55 L298.20,89.70 L298.60,89.84 L299.00,89.98 L299.40,90.11 L299.80,90.22 L300.10,90.30 L300.20,90.32 L300.60,90.43 L301.00,90.53 L301.40,90.65 L301.80,90.76 L302.20,90.87 L302.60,90.99 L303.00,91.10 L303.40,91.20 L303.80,91.30 L304.20,91.39 L304.60,91.48 L305.00,91.55 L305.40,91.61 L305.80,91.65 L306.20,91.69 L306.60,91.70 L306.70,91.70 L307.00,91.70 L307.40,91.68 L307.80,91.66 L308.20,91.62 L308.60,91.58 L309.00,91.54 L309.40,91.49 L309.80,91.45 L310.20,91.41 L310.60,91.37 L311.00,91.34 L311.40,91.31 L311.80,91.30 L312.00,91.30 L312.20,91.30 L312.60,91.32 L313.00,91.36 L313.40,91.42 L313.80,91.48 L314.20,91.56 L314.60,91.64 L315.00,91.73 L315.40,91.82 L315.80,91.91 L316.20,92.00 L316.60,92.08 L317.00,92.15 L317.40,92.21 L317.80,92.26 L318.20,92.29 L318.60,92.30 L318.60,92.30 L319.00,92.29 L319.40,92.27 L319.80,92.23 L320.20,92.18 L320.60,92.11 L321.00,92.03 L321.40,91.93 L321.80,91.83 L322.20,91.71 L322.60,91.58 L323.00,91.43 L323.40,91.28 L323.80,91.12 L324.20,90.94 L324.60,90.76 L325.00,90.57 L325.40,90.36 L325.80,90.15 L325.90,90.10" stroke="#1a1aff"/>
</g>
<g font-size="10.8" fill="#000" text-anchor="end">
<text x="35.6" y="11.4">8</text>
<text x="35.6" y="53.5">4</text>
<text x="35.6" y="95.5">0</text>
<text x="35.6" y="137.6">-4</text>
<text x="35.6" y="179.6">-8</text>
<text x="35.6" y="221.7">-12</text>
</g>
<g font-size="12" fill="#111" text-anchor="middle">
<text x="39.9" y="231.9">0</text>
<text x="111.6" y="231.9">2.5</text>
<text x="183.2" y="231.9">5</text>
<text x="254.9" y="231.9">7.5</text>
<text x="326.5" y="231.9">10</text>
</g>
<text x="7.0" y="12.4" font-size="11" fill="#000">(a)</text>
<text transform="translate(15.4,158.8) rotate(-90)" font-size="16.5" font-weight="bold" fill="#000" textLength="40.2" lengthAdjust="spacingAndGlyphs">Stress</text>
<text transform="translate(13.8,110.6) rotate(-90)" font-size="10" fill="#000" textLength="26.4" lengthAdjust="spacingAndGlyphs">(MPa)</text>
<text x="142.8" y="244.9" font-size="16.2" font-weight="bold" fill="#000" textLength="31.0" lengthAdjust="spacingAndGlyphs">Time</text>
<text x="183.3" y="243.1" font-size="10" fill="#000" textLength="18.7" lengthAdjust="spacingAndGlyphs">(ms)</text>
<path d="M178.6,26.6h24.1" stroke="#222" stroke-width="1.3"/>
<text x="208.0" y="30.7" font-size="9.7" fill="#000" textLength="79.6" lengthAdjust="spacingAndGlyphs">First Test-Channel 1</text>
<path d="M178.6,39.2h24.1" stroke="#ff1414" stroke-width="1.3"/>
<text x="208.0" y="43.3" font-size="9.7" fill="#000" textLength="90.0" lengthAdjust="spacingAndGlyphs">Second Test-Channel 1</text>
<path d="M178.6,51.8h24.1" stroke="#2a2aff" stroke-width="1.3"/>
<text x="208.0" y="55.9" font-size="9.7" fill="#000" textLength="83.3" lengthAdjust="spacingAndGlyphs">Third Test-Channel 1</text>
</g>
<g id="panel-b">
<rect x="391.5" y="8.4" width="286.30" height="210.30" fill="none" stroke="#1c1c1c" stroke-width="1.05"/>
<path d="M391.5,68.49h4 M391.5,128.57h4 M391.5,188.66h4 M391.5,38.44h2.5 M391.5,98.53h2.5 M391.5,158.61h2.5 M463.07,218.7v-4 M534.65,218.7v-4 M606.22,218.7v-4 M427.29,218.7v-2.5 M498.86,218.7v-2.5 M570.44,218.7v-2.5 M642.01,218.7v-2.5" stroke="#1c1c1c" stroke-width="1" fill="none"/>
<clipPath id="clipb"><rect x="391.5" y="8.4" width="286.29999999999995" height="210.29999999999998"/></clipPath>
<g clip-path="url(#clipb)" fill="none" stroke-width="1.28" stroke-linejoin="round" stroke-linecap="round">
<path d="M391.30,133.30 L391.70,132.12 L392.10,130.99 L392.50,129.92 L392.90,128.91 L393.30,127.98 L393.70,127.12 L394.10,126.34 L394.50,125.65 L394.90,125.05 L395.30,124.55 L395.70,124.16 L395.90,124.00 L396.10,124.07 L396.50,124.27 L396.90,124.55 L397.30,124.88 L397.70,125.25 L398.10,125.64 L398.50,126.05 L398.90,126.45 L399.30,126.82 L399.70,127.15 L399.90,127.30 L400.10,127.42 L400.50,127.64 L400.90,127.85 L401.30,128.05 L401.70,128.25 L402.10,128.44 L402.50,128.64 L402.90,128.83 L403.30,129.04 L403.70,129.25 L403.80,129.30 L404.10,129.48 L404.50,129.75 L404.90,130.03 L405.30,130.33 L405.70,130.63 L406.10,130.93 L406.50,131.23 L406.90,131.51 L407.30,131.78 L407.70,132.02 L408.10,132.24 L408.50,132.41 L408.90,132.55 L409.10,132.60 L409.30,132.56 L409.70,132.45 L410.10,132.31 L410.50,132.14 L410.90,131.95 L411.30,131.74 L411.70,131.51 L412.10,131.28 L412.50,131.04 L412.90,130.80 L413.30,130.57 L413.70,130.35 L414.10,130.14 L414.40,130.00 L414.50,129.96 L414.90,129.79 L415.30,129.63 L415.70,129.46 L416.10,129.30 L416.50,129.14 L416.90,128.98 L417.30,128.82 L417.70,128.67 L418.10,128.52 L418.50,128.38 L418.90,128.25 L419.30,128.12 L419.70,128.00 L419.70,128.00 L420.10,127.91 L420.50,127.82 L420.90,127.73 L421.30,127.65 L421.70,127.56 L422.10,127.49 L422.50,127.42 L422.90,127.37 L423.30,127.32 L423.60,127.30 L423.70,127.31 L424.10,127.37 L424.50,127.46 L424.90,127.57 L425.30,127.69 L425.70,127.83 L426.10,127.98 L426.50,128.14 L426.90,128.30 L427.30,128.46 L427.70,128.62 L428.10,128.77 L428.50,128.91 L428.90,129.03 L429.30,129.14 L429.70,129.23 L430.10,129.29 L430.20,129.30 L430.50,129.23 L430.90,129.10 L431.30,128.92 L431.70,128.71 L432.10,128.48 L432.50,128.23 L432.90,127.97 L433.30,127.71 L433.70,127.46 L434.10,127.23 L434.50,127.03 L434.90,126.86 L435.30,126.74 L435.50,126.70 L435.70,126.77 L436.10,127.00 L436.50,127.32 L436.90,127.71 L437.30,128.13 L437.70,128.57 L438.10,128.99 L438.50,129.38 L438.90,129.70 L439.30,129.93 L439.50,130.00 L439.70,129.98 L440.10,129.93 L440.50,129.86 L440.90,129.78 L441.30,129.69 L441.70,129.59 L442.10,129.50 L442.50,129.42 L442.90,129.35 L443.30,129.31 L443.40,129.30 L443.70,129.35 L444.10,129.45 L444.50,129.58 L444.90,129.74 L445.30,129.91 L445.70,130.08 L446.10,130.24 L446.50,130.39 L446.90,130.51 L447.30,130.59 L447.40,130.60 L447.70,130.34 L448.10,129.75 L448.50,129.03 L448.90,128.38 L449.30,128.00 L449.30,128.00 L449.70,129.16 L450.10,131.01 L450.50,133.35 L450.90,135.98 L451.20,138.00 L451.30,139.01 L451.70,144.35 L452.10,150.49 L452.50,155.71 L452.80,158.00 L452.90,157.37 L453.30,153.03 L453.70,146.64 L454.10,139.37 L454.50,132.37 L454.80,128.00 L454.90,126.94 L455.30,122.60 L455.70,118.20 L456.10,113.83 L456.50,109.60 L456.90,105.61 L457.30,101.96 L457.70,98.76 L458.10,96.11 L458.50,94.12 L458.70,93.40 L458.90,94.30 L459.30,97.02 L459.70,100.73 L460.10,105.17 L460.50,110.07 L460.90,115.16 L461.30,120.19 L461.70,124.87 L462.00,128.00 L462.10,128.92 L462.50,132.83 L462.90,136.93 L463.30,140.99 L463.70,144.77 L464.10,148.02 L464.50,150.49 L464.80,151.70 L464.90,151.46 L465.30,150.12 L465.70,148.23 L466.10,145.91 L466.50,143.26 L466.90,140.38 L467.30,137.37 L467.70,134.35 L468.10,131.40 L468.50,128.65 L468.60,128.00 L468.90,125.95 L469.30,122.96 L469.70,119.80 L470.10,116.56 L470.50,113.33 L470.90,110.24 L471.30,107.37 L471.70,104.83 L472.10,102.72 L472.50,101.15 L472.70,100.60 L472.90,101.13 L473.30,102.59 L473.70,104.53 L474.10,106.87 L474.50,109.52 L474.90,112.42 L475.30,115.49 L475.70,118.65 L476.10,121.83 L476.50,124.94 L476.90,127.91 L477.20,130.00 L477.30,130.71 L477.70,133.79 L478.10,137.15 L478.50,140.62 L478.90,144.04 L479.30,147.25 L479.70,150.09 L480.10,152.40 L480.50,154.02 L480.60,154.30 L480.90,153.41 L481.30,151.63 L481.70,149.30 L482.10,146.55 L482.50,143.54 L482.90,140.41 L483.30,137.29 L483.70,134.34 L484.10,131.70 L484.40,130.00 L484.50,129.58 L484.90,127.89 L485.30,126.16 L485.70,124.45 L486.10,122.79 L486.50,121.21 L486.90,119.74 L487.30,118.44 L487.70,117.32 L488.10,116.43 L488.50,115.80 L488.50,115.80 L488.90,116.48 L489.30,117.49 L489.70,118.77 L490.10,120.25 L490.50,121.87 L490.90,123.57 L491.30,125.26 L491.70,126.90 L492.10,128.40 L492.50,129.71 L492.60,130.00 L492.90,130.71 L493.30,131.66 L493.70,132.53 L494.10,133.24 L494.40,133.60 L494.50,133.63 L494.90,133.72 L495.30,133.80 L495.70,133.86 L496.10,133.90 L496.10,133.90 L496.50,133.71 L496.90,133.42 L497.30,133.05 L497.70,132.61 L498.10,132.12 L498.20,132.00 L498.50,131.23 L498.90,129.92 L499.30,128.40 L499.70,126.83 L500.10,125.34 L500.20,125.00 L500.50,124.03 L500.90,122.65 L501.30,121.22 L501.70,119.79 L502.10,118.40 L502.50,117.10 L502.90,115.94 L503.30,114.95 L503.70,114.19 L504.00,113.80 L504.10,113.99 L504.50,115.08 L504.90,116.65 L505.30,118.58 L505.70,120.75 L506.10,123.04 L506.50,125.36 L506.90,127.56 L507.30,129.55 L507.40,130.00 L507.70,131.29 L508.10,133.12 L508.50,134.88 L508.90,136.32 L509.30,137.20 L509.30,137.20 L509.70,136.85 L510.10,136.28 L510.50,135.58 L510.90,134.81 L511.30,134.08 L511.70,133.45 L511.90,133.20 L512.10,133.05 L512.50,132.78 L512.90,132.55 L513.30,132.34 L513.70,132.13 L514.10,131.92 L514.50,131.69 L514.90,131.43 L515.20,131.20 L515.30,131.06 L515.70,130.36 L516.10,129.50 L516.50,128.52 L516.90,127.46 L517.30,126.36 L517.70,125.26 L518.10,124.20 L518.50,123.22 L518.90,122.36 L519.30,121.67 L519.70,121.18 L519.80,121.10 L520.10,121.56 L520.50,122.54 L520.90,123.85 L521.30,125.36 L521.70,126.95 L522.10,128.48 L522.50,129.85 L522.90,130.93 L523.30,131.60 L523.30,131.60 L523.70,131.19 L524.10,130.55 L524.50,129.74 L524.90,128.81 L525.30,127.80 L525.70,126.77 L526.10,125.77 L526.50,124.84 L526.90,124.03 L527.30,123.40 L527.30,123.40 L527.70,123.08 L528.10,122.77 L528.50,122.46 L528.90,122.17 L529.30,121.90 L529.70,121.64 L530.10,121.41 L530.50,121.20 L530.90,121.02 L531.30,120.86 L531.70,120.75 L531.90,120.70 L532.10,120.81 L532.50,121.12 L532.90,121.53 L533.30,122.03 L533.70,122.59 L534.10,123.21 L534.50,123.86 L534.90,124.53 L535.30,125.19 L535.70,125.84 L535.80,126.00 L536.10,126.60 L536.50,127.49 L536.90,128.48 L537.30,129.52 L537.70,130.61 L538.10,131.71 L538.50,132.81 L538.90,133.86 L539.30,134.85 L539.70,135.76 L540.10,136.56 L540.50,137.22 L540.90,137.72 L541.10,137.90 L541.30,137.53 L541.70,136.35 L542.10,134.70 L542.50,132.75 L542.90,130.69 L543.30,128.66 L543.70,126.85 L544.10,125.42 L544.40,124.70 L544.50,124.65 L544.90,124.45 L545.30,124.27 L545.70,124.10 L546.10,123.95 L546.50,123.82 L546.90,123.70 L547.30,123.59 L547.70,123.51 L548.10,123.44 L548.40,123.40 L548.50,123.43 L548.90,123.58 L549.30,123.78 L549.70,124.03 L550.10,124.32 L550.50,124.63 L550.90,124.97 L551.30,125.32 L551.70,125.67 L552.10,126.01 L552.50,126.33 L552.90,126.63 L553.00,126.70 L553.30,126.90 L553.70,127.18 L554.10,127.48 L554.50,127.78 L554.90,128.08 L555.30,128.38 L555.70,128.67 L556.10,128.95 L556.50,129.21 L556.90,129.44 L557.30,129.65 L557.70,129.82 L558.10,129.95 L558.30,130.00 L558.50,129.93 L558.90,129.72 L559.30,129.44 L559.70,129.10 L560.10,128.72 L560.50,128.29 L560.90,127.83 L561.30,127.36 L561.70,126.88 L562.10,126.40 L562.50,125.94 L562.90,125.49 L563.30,125.09 L563.70,124.72 L564.10,124.41 L564.50,124.17 L564.90,124.00 L564.90,124.00 L565.30,124.13 L565.70,124.31 L566.10,124.54 L566.50,124.81 L566.90,125.12 L567.30,125.44 L567.70,125.78 L568.10,126.12 L568.50,126.45 L568.80,126.70 L568.90,126.80 L569.30,127.24 L569.70,127.75 L570.10,128.30 L570.50,128.86 L570.90,129.42 L571.30,129.95 L571.70,130.43 L572.10,130.83 L572.50,131.14 L572.80,131.30 L572.90,131.25 L573.30,130.97 L573.70,130.56 L574.10,130.05 L574.50,129.47 L574.90,128.83 L575.30,128.17 L575.70,127.50 L576.10,126.84 L576.50,126.23 L576.90,125.68 L577.30,125.22 L577.70,124.87 L578.00,124.70 L578.10,124.76 L578.50,125.11 L578.90,125.61 L579.30,126.21 L579.70,126.91 L580.10,127.67 L580.50,128.45 L580.90,129.24 L581.30,130.00 L581.30,130.00 L581.70,130.98 L582.10,132.13 L582.50,133.36 L582.90,134.60 L583.30,135.76 L583.70,136.77 L584.10,137.53 L584.40,137.90 L584.50,137.76 L584.90,136.79 L585.30,135.35 L585.70,133.63 L586.10,131.83 L586.50,130.15 L586.90,128.81 L587.30,128.00 L587.30,128.00 L587.70,128.06 L588.10,128.15 L588.50,128.26 L588.90,128.39 L589.30,128.54 L589.70,128.69 L590.10,128.84 L590.50,128.97 L590.90,129.10 L591.30,129.20 L591.70,129.28 L591.90,129.30 L592.10,129.24 L592.50,129.05 L592.90,128.79 L593.30,128.47 L593.70,128.12 L594.10,127.75 L594.50,127.37 L594.90,127.00 L595.30,126.66 L595.70,126.37 L596.10,126.15 L596.50,126.00 L596.50,126.00 L596.90,126.20 L597.30,126.49 L597.70,126.87 L598.10,127.31 L598.50,127.80 L598.90,128.32 L599.30,128.85 L599.70,129.37 L600.10,129.87 L600.50,130.32 L600.90,130.72 L601.30,131.04 L601.70,131.26 L601.80,131.30 L602.10,131.20 L602.50,131.00 L602.90,130.76 L603.30,130.47 L603.70,130.13 L604.10,129.77 L604.50,129.37 L604.90,128.96 L605.30,128.54 L605.70,128.11 L605.80,128.00 L606.10,127.47 L606.50,126.59 L606.90,125.58 L607.30,124.53 L607.70,123.50 L608.10,122.59 L608.50,121.86 L608.90,121.40 L608.90,121.40 L609.30,121.82 L609.70,122.47 L610.10,123.29 L610.50,124.22 L610.90,125.20 L611.30,126.17 L611.70,127.07 L612.10,127.84 L612.20,128.00 L612.50,128.36 L612.90,128.84 L613.30,129.30 L613.70,129.74 L614.10,130.16 L614.50,130.56 L614.90,130.94 L615.30,131.29 L615.70,131.61 L616.10,131.90 L616.10,131.90 L616.50,132.08 L616.90,132.27 L617.30,132.44 L617.70,132.61 L618.10,132.77 L618.50,132.91 L618.90,133.04 L619.30,133.15 L619.70,133.24 L620.10,133.30 L620.10,133.30 L620.50,132.76 L620.90,131.89 L621.30,130.78 L621.70,129.52 L622.10,128.18 L622.50,126.86 L622.90,125.62 L623.30,124.57 L623.70,123.77 L624.00,123.40 L624.10,123.47 L624.50,123.87 L624.90,124.45 L625.30,125.16 L625.70,125.97 L626.10,126.84 L626.50,127.72 L626.90,128.60 L627.30,129.41 L627.70,130.14 L628.00,130.60 L628.10,130.71 L628.50,131.14 L628.90,131.58 L629.30,132.02 L629.70,132.44 L630.10,132.85 L630.50,133.23 L630.90,133.58 L631.30,133.90 L631.70,134.18 L632.10,134.40 L632.50,134.57 L632.60,134.60 L632.90,134.21 L633.30,133.37 L633.70,132.26 L634.10,130.98 L634.50,129.65 L634.90,128.36 L635.30,127.21 L635.70,126.32 L635.90,126.00 L636.10,125.88 L636.50,125.66 L636.90,125.46 L637.30,125.27 L637.70,125.11 L638.10,124.96 L638.50,124.84 L638.90,124.75 L639.20,124.70 L639.30,124.78 L639.70,125.27 L640.10,125.99 L640.50,126.87 L640.90,127.87 L641.30,128.91 L641.70,129.94 L642.10,130.89 L642.50,131.70 L642.90,132.31 L643.20,132.60 L643.30,132.53 L643.70,132.05 L644.10,131.34 L644.50,130.47 L644.90,129.53 L645.30,128.60 L645.70,127.77 L646.10,127.11 L646.50,126.70 L646.50,126.70 L646.90,127.01 L647.30,127.43 L647.70,127.96 L648.10,128.60 L648.50,129.36 L648.90,130.23 L649.30,131.21 L649.70,132.31 L649.80,132.60" stroke="#151515"/>
<path d="M391.30,133.90 L391.70,132.41 L392.10,131.08 L392.50,129.91 L392.90,128.91 L393.30,128.07 L393.70,127.39 L394.10,126.89 L394.30,126.70 L394.50,126.95 L394.90,127.75 L395.30,128.88 L395.70,130.21 L396.10,131.65 L396.50,133.09 L396.90,134.42 L397.30,135.55 L397.70,136.35 L397.90,136.60 L398.10,136.58 L398.50,136.53 L398.90,136.45 L399.30,136.36 L399.70,136.26 L400.10,136.17 L400.50,136.09 L400.90,136.03 L401.20,136.00 L401.30,136.12 L401.70,136.95 L402.10,138.19 L402.50,139.61 L402.90,140.97 L403.30,142.03 L403.60,142.50 L403.70,142.39 L404.10,141.70 L404.50,140.69 L404.90,139.45 L405.30,138.04 L405.70,136.55 L406.10,135.06 L406.50,133.65 L406.90,132.41 L407.30,131.40 L407.70,130.71 L407.80,130.60 L408.10,130.64 L408.50,130.72 L408.90,130.82 L409.30,130.95 L409.70,131.08 L410.10,131.22 L410.50,131.35 L410.90,131.46 L411.30,131.54 L411.70,131.60 L411.70,131.60 L412.10,131.49 L412.50,131.32 L412.90,131.11 L413.30,130.86 L413.70,130.60 L414.10,130.34 L414.50,130.09 L414.90,129.88 L415.30,129.71 L415.70,129.60 L415.70,129.60 L416.10,129.78 L416.50,130.03 L416.90,130.35 L417.30,130.73 L417.70,131.15 L418.10,131.60 L418.50,132.07 L418.90,132.54 L419.30,133.00 L419.70,133.45 L420.10,133.86 L420.50,134.23 L420.90,134.53 L421.00,134.60 L421.30,134.73 L421.70,134.90 L422.10,135.07 L422.50,135.23 L422.90,135.38 L423.30,135.52 L423.70,135.65 L424.10,135.76 L424.50,135.84 L424.90,135.90 L424.90,135.90 L425.30,135.76 L425.70,135.54 L426.10,135.26 L426.50,134.94 L426.90,134.60 L427.30,134.26 L427.70,133.94 L428.10,133.66 L428.50,133.44 L428.90,133.30 L428.90,133.30 L429.30,133.45 L429.70,133.67 L430.10,133.96 L430.50,134.30 L430.90,134.67 L431.30,135.05 L431.70,135.42 L432.10,135.77 L432.50,136.09 L432.90,136.35 L433.30,136.54 L433.50,136.60 L433.70,136.50 L434.10,136.20 L434.50,135.78 L434.90,135.27 L435.30,134.70 L435.70,134.10 L436.10,133.49 L436.50,132.91 L436.90,132.36 L437.30,131.90 L437.70,131.53 L438.10,131.30 L438.10,131.30 L438.50,131.41 L438.90,131.58 L439.30,131.79 L439.70,132.04 L440.10,132.30 L440.50,132.56 L440.90,132.81 L441.30,133.02 L441.70,133.19 L442.10,133.30 L442.10,133.30 L442.50,132.85 L442.90,132.11 L443.30,131.17 L443.70,130.13 L444.10,129.08 L444.50,128.11 L444.90,127.32 L445.30,126.78 L445.40,126.70 L445.70,126.82 L446.10,127.10 L446.50,127.44 L446.90,127.75 L447.30,127.97 L447.40,128.00 L447.70,127.41 L448.10,126.03 L448.50,124.38 L448.90,122.89 L449.30,122.00 L449.30,122.00 L449.70,124.50 L450.10,128.59 L450.50,133.56 L450.90,138.75 L451.00,140.00 L451.30,145.22 L451.70,153.59 L452.10,161.64 L452.50,167.23 L452.60,168.00 L452.90,164.94 L453.30,158.20 L453.70,149.59 L454.10,140.39 L454.50,131.87 L454.60,130.00 L454.90,124.71 L455.30,117.19 L455.70,109.42 L456.10,101.66 L456.50,94.20 L456.90,87.32 L457.30,81.29 L457.70,76.39 L458.10,72.92 L458.20,72.30 L458.50,74.10 L458.90,77.48 L459.30,81.85 L459.70,87.03 L460.10,92.85 L460.50,99.14 L460.90,105.73 L461.30,112.47 L461.70,119.17 L462.10,125.66 L462.40,130.30 L462.50,132.00 L462.90,139.69 L463.30,148.21 L463.70,156.68 L464.10,164.26 L464.50,170.09 L464.80,172.80 L464.90,172.34 L465.30,169.67 L465.70,165.86 L466.10,161.17 L466.50,155.86 L466.90,150.20 L467.30,144.45 L467.70,138.87 L468.10,133.72 L468.40,130.30 L468.50,129.34 L468.90,125.37 L469.30,121.23 L469.70,117.04 L470.10,112.88 L470.50,108.85 L470.90,105.05 L471.30,101.58 L471.70,98.53 L472.10,96.01 L472.50,94.09 L472.70,93.40 L472.90,94.00 L473.30,95.60 L473.70,97.68 L474.10,100.18 L474.50,103.04 L474.90,106.19 L475.30,109.58 L475.70,113.13 L476.10,116.78 L476.50,120.47 L476.90,124.13 L477.30,127.71 L477.60,130.30 L477.70,131.28 L478.10,135.73 L478.50,140.72 L478.90,145.91 L479.30,150.97 L479.70,155.55 L480.10,159.30 L480.50,161.88 L480.60,162.30 L480.90,160.66 L481.30,157.21 L481.70,152.69 L482.10,147.52 L482.50,142.11 L482.90,136.88 L483.30,132.26 L483.50,130.30 L483.70,128.83 L484.10,125.83 L484.50,122.81 L484.90,119.82 L485.30,116.88 L485.70,114.07 L486.10,111.41 L486.50,108.95 L486.90,106.75 L487.30,104.85 L487.70,103.29 L488.10,102.13 L488.20,101.90 L488.50,102.79 L488.90,104.53 L489.30,106.79 L489.70,109.47 L490.10,112.44 L490.50,115.61 L490.90,118.85 L491.30,122.05 L491.70,125.10 L492.10,127.89 L492.50,130.30 L492.50,130.30 L492.90,132.13 L493.30,134.02 L493.70,135.91 L494.10,137.78 L494.50,139.57 L494.90,141.25 L495.30,142.79 L495.70,144.13 L496.10,145.25 L496.50,146.09 L496.70,146.40 L496.90,145.61 L497.30,142.95 L497.70,139.34 L498.10,135.41 L498.50,131.79 L498.70,130.30 L498.90,129.18 L499.30,126.91 L499.70,124.62 L500.10,122.34 L500.50,120.13 L500.90,118.00 L501.30,116.00 L501.70,114.16 L502.10,112.53 L502.50,111.13 L502.90,110.01 L503.30,109.20 L503.30,109.20 L503.70,109.89 L504.10,110.82 L504.50,111.97 L504.90,113.31 L505.30,114.82 L505.70,116.47 L506.10,118.23 L506.50,120.09 L506.90,122.01 L507.30,123.97 L507.70,125.94 L508.10,127.90 L508.50,129.83 L508.60,130.30 L508.90,132.15 L509.30,135.03 L509.70,138.19 L510.10,141.45 L510.50,144.63 L510.90,147.52 L511.30,149.95 L511.70,151.72 L511.90,152.30 L512.10,151.84 L512.50,150.52 L512.90,148.74 L513.30,146.59 L513.70,144.17 L514.10,141.57 L514.50,138.90 L514.90,136.24 L515.30,133.70 L515.70,131.36 L515.90,130.30 L516.10,129.34 L516.50,127.31 L516.90,125.20 L517.30,123.06 L517.70,120.97 L518.10,118.98 L518.50,117.16 L518.90,115.58 L519.30,114.29 L519.70,113.37 L519.80,113.20 L520.10,113.44 L520.50,113.90 L520.90,114.52 L521.30,115.26 L521.70,116.10 L522.10,117.02 L522.50,118.00 L522.50,118.00 L522.90,120.08 L523.30,122.76 L523.70,125.68 L524.10,128.49 L524.40,130.30 L524.50,130.75 L524.90,132.60 L525.30,134.46 L525.70,136.25 L526.10,137.90 L526.50,139.33 L526.90,140.46 L527.30,141.20 L527.30,141.20 L527.70,140.56 L528.10,139.61 L528.50,138.41 L528.90,136.99 L529.30,135.42 L529.70,133.72 L530.10,131.97 L530.50,130.19 L530.90,128.44 L531.30,126.78 L531.70,125.23 L532.10,123.87 L532.50,122.72 L532.90,121.85 L533.20,121.40 L533.30,121.46 L533.70,121.79 L534.10,122.24 L534.50,122.79 L534.90,123.43 L535.30,124.14 L535.70,124.90 L536.10,125.71 L536.50,126.54 L536.90,127.38 L537.20,128.00 L537.30,128.29 L537.70,129.65 L538.10,131.24 L538.50,133.01 L538.90,134.88 L539.30,136.80 L539.70,138.70 L540.10,140.52 L540.50,142.18 L540.90,143.64 L541.30,144.81 L541.70,145.65 L541.80,145.80 L542.10,145.19 L542.50,143.97 L542.90,142.36 L543.30,140.44 L543.70,138.30 L544.10,136.01 L544.50,133.66 L544.90,131.33 L545.30,129.11 L545.70,127.07 L546.10,125.29 L546.50,123.87 L546.90,122.87 L547.00,122.70 L547.30,122.84 L547.70,123.11 L548.10,123.45 L548.50,123.86 L548.90,124.32 L549.30,124.81 L549.70,125.34 L550.10,125.88 L550.50,126.43 L550.90,126.98 L551.30,127.50 L551.70,128.00 L551.70,128.00 L552.10,128.54 L552.50,129.13 L552.90,129.75 L553.30,130.40 L553.70,131.07 L554.10,131.75 L554.50,132.43 L554.90,133.10 L555.30,133.75 L555.70,134.38 L556.10,134.97 L556.50,135.52 L556.90,136.01 L557.30,136.45 L557.70,136.81 L558.10,137.09 L558.30,137.20 L558.50,136.99 L558.90,136.32 L559.30,135.40 L559.70,134.29 L560.10,133.07 L560.50,131.82 L560.90,130.62 L561.30,129.55 L561.70,128.68 L562.10,128.09 L562.20,128.00 L562.50,128.12 L562.90,128.39 L563.30,128.74 L563.70,129.14 L564.10,129.56 L564.50,129.95 L564.90,130.29 L565.30,130.53 L565.50,130.60 L565.70,130.53 L566.10,130.28 L566.50,129.94 L566.90,129.55 L567.30,129.17 L567.70,128.85 L568.10,128.63 L568.20,128.60 L568.50,128.82 L568.90,129.29 L569.30,129.90 L569.70,130.62 L570.10,131.42 L570.50,132.25 L570.90,133.08 L571.30,133.88 L571.70,134.60 L572.10,135.21 L572.50,135.68 L572.80,135.90 L572.90,135.80 L573.30,135.20 L573.70,134.34 L574.10,133.27 L574.50,132.04 L574.90,130.70 L575.30,129.30 L575.70,127.89 L576.10,126.51 L576.50,125.23 L576.90,124.07 L577.30,123.10 L577.70,122.37 L578.00,122.00 L578.10,122.02 L578.50,122.10 L578.90,122.22 L579.30,122.37 L579.70,122.54 L580.10,122.73 L580.50,122.94 L580.90,123.17 L581.30,123.40 L581.30,123.40 L581.70,123.96 L582.10,124.71 L582.50,125.60 L582.90,126.57 L583.30,127.57 L583.70,128.56 L584.10,129.47 L584.50,130.27 L584.90,130.90 L585.30,131.30 L585.30,131.30 L585.70,130.98 L586.10,130.47 L586.50,129.82 L586.90,129.09 L587.30,128.36 L587.70,127.68 L588.10,127.13 L588.50,126.76 L588.60,126.70 L588.90,126.98 L589.30,127.56 L589.70,128.33 L590.10,129.24 L590.50,130.25 L590.90,131.30 L591.30,132.35 L591.70,133.36 L592.10,134.27 L592.50,135.04 L592.90,135.62 L593.20,135.90 L593.30,135.82 L593.70,135.33 L594.10,134.61 L594.50,133.73 L594.90,132.73 L595.30,131.69 L595.70,130.66 L596.10,129.71 L596.50,128.90 L596.90,128.29 L597.20,128.00 L597.30,128.05 L597.70,128.33 L598.10,128.75 L598.50,129.27 L598.90,129.86 L599.30,130.49 L599.70,131.13 L600.10,131.74 L600.50,132.30 L600.90,132.77 L601.30,133.13 L601.60,133.30 L601.70,133.27 L602.10,133.10 L602.50,132.87 L602.90,132.60 L603.30,132.28 L603.70,131.92 L604.10,131.53 L604.50,131.12 L604.90,130.70 L605.30,130.27 L605.70,129.83 L606.10,129.41 L606.20,129.30 L606.50,128.87 L606.90,128.19 L607.30,127.44 L607.70,126.64 L608.10,125.83 L608.50,125.04 L608.90,124.30 L609.30,123.66 L609.70,123.13 L610.10,122.76 L610.20,122.70 L610.50,122.96 L610.90,123.51 L611.30,124.23 L611.70,125.08 L612.10,126.02 L612.50,127.00 L612.90,127.98 L613.30,128.92 L613.70,129.77 L614.10,130.49 L614.50,131.04 L614.80,131.30 L614.90,131.29 L615.30,131.27 L615.70,131.23 L616.10,131.19 L616.50,131.14 L616.90,131.09 L617.30,131.02 L617.70,130.95 L618.10,130.88 L618.50,130.80 L618.90,130.71 L619.30,130.62 L619.40,130.60 L619.70,130.37 L620.10,129.94 L620.50,129.40 L620.90,128.80 L621.30,128.20 L621.70,127.63 L622.10,127.15 L622.50,126.81 L622.70,126.70 L622.90,126.75 L623.30,126.91 L623.70,127.11 L624.10,127.36 L624.50,127.64 L624.90,127.94 L625.30,128.25 L625.70,128.57 L626.10,128.88 L626.50,129.17 L626.70,129.30 L626.90,129.44 L627.30,129.73 L627.70,130.05 L628.10,130.37 L628.50,130.69 L628.90,131.00 L629.30,131.28 L629.70,131.53 L630.10,131.73 L630.50,131.87 L630.60,131.90 L630.90,131.70 L631.30,131.30 L631.70,130.77 L632.10,130.16 L632.50,129.48 L632.90,128.76 L633.30,128.04 L633.70,127.34 L634.10,126.69 L634.50,126.13 L634.60,126.00 L634.90,125.70 L635.30,125.28 L635.70,124.86 L636.10,124.45 L636.50,124.06 L636.90,123.69 L637.30,123.36 L637.70,123.08 L638.10,122.86 L638.50,122.70 L638.50,122.70 L638.90,123.10 L639.30,123.71 L639.70,124.49 L640.10,125.40 L640.50,126.40 L640.90,127.43 L641.30,128.46 L641.70,129.43 L642.10,130.32 L642.50,131.06 L642.90,131.62 L643.20,131.90 L643.30,131.85 L643.70,131.51 L644.10,131.02 L644.50,130.42 L644.90,129.74 L645.30,129.04 L645.70,128.35 L646.10,127.72 L646.50,127.20 L646.90,126.82 L647.10,126.70 L647.30,126.84 L647.70,127.32 L648.10,127.99 L648.50,128.75 L648.90,129.49 L649.30,130.12 L649.70,130.54 L649.80,130.60 L650.10,130.46 L650.50,130.18 L650.90,129.81 L651.30,129.38 L651.70,128.91 L652.10,128.41 L652.50,127.92 L652.90,127.46 L653.30,127.04 L653.70,126.70 L653.70,126.70 L654.10,126.48 L654.50,126.26 L654.90,126.04 L655.30,125.82 L655.70,125.62 L656.10,125.42 L656.50,125.24 L656.90,125.08 L657.30,124.94 L657.70,124.82 L658.10,124.73 L658.30,124.70 L658.50,124.77 L658.90,124.95 L659.30,125.19 L659.70,125.48 L660.10,125.80 L660.50,126.16 L660.90,126.55 L661.30,126.95 L661.70,127.37 L662.10,127.79 L662.50,128.21 L662.90,128.63 L663.30,129.02 L663.60,129.30 L663.70,129.40 L664.10,129.81 L664.50,130.27 L664.90,130.74 L665.30,131.23 L665.70,131.71 L666.10,132.18 L666.50,132.62 L666.90,133.02 L667.30,133.37 L667.70,133.66 L668.10,133.86 L668.20,133.90 L668.50,133.68 L668.90,133.23 L669.30,132.64 L669.70,131.95 L670.10,131.20 L670.50,130.42 L670.90,129.65 L671.30,128.93 L671.50,128.60 L671.70,128.27 L672.10,127.56 L672.50,126.80 L672.90,126.04 L673.30,125.30 L673.70,124.63 L674.10,124.06 L674.50,123.62 L674.80,123.40 L674.90,123.45 L675.30,123.68 L675.70,124.00 L676.10,124.39 L676.50,124.88 L676.90,125.45 L677.30,126.12 L677.70,126.88 L677.90,127.30" stroke="#ff1414"/>
<path d="M391.30,133.90 L391.70,133.22 L392.10,132.58 L392.50,131.97 L392.90,131.39 L393.30,130.86 L393.70,130.37 L394.10,129.93 L394.50,129.54 L394.90,129.20 L395.30,128.91 L395.70,128.69 L395.90,128.60 L396.10,128.64 L396.50,128.78 L396.90,128.98 L397.30,129.21 L397.70,129.47 L398.10,129.73 L398.50,129.99 L398.90,130.22 L399.30,130.42 L399.70,130.56 L399.90,130.60 L400.10,130.50 L400.50,130.21 L400.90,129.82 L401.30,129.34 L401.70,128.79 L402.10,128.19 L402.50,127.56 L402.90,126.92 L403.30,126.28 L403.70,125.65 L404.10,125.07 L404.50,124.54 L404.90,124.08 L405.30,123.71 L405.70,123.45 L405.80,123.40 L406.10,123.69 L406.50,124.25 L406.90,124.99 L407.30,125.85 L407.70,126.82 L408.10,127.83 L408.50,128.87 L408.90,129.89 L409.30,130.84 L409.70,131.70 L409.80,131.90 L410.10,132.42 L410.50,133.15 L410.90,133.89 L411.30,134.64 L411.70,135.39 L412.10,136.13 L412.50,136.83 L412.90,137.50 L413.30,138.12 L413.70,138.67 L414.10,139.15 L414.50,139.55 L414.90,139.84 L415.00,139.90 L415.30,139.44 L415.70,138.46 L416.10,137.17 L416.50,135.65 L416.90,134.02 L417.30,132.35 L417.70,130.77 L418.10,129.35 L418.50,128.20 L418.90,127.43 L419.00,127.30 L419.30,127.52 L419.70,127.99 L420.10,128.61 L420.50,129.32 L420.90,130.06 L421.30,130.75 L421.70,131.35 L422.10,131.77 L422.30,131.90 L422.50,131.73 L422.90,131.12 L423.30,130.29 L423.70,129.37 L424.10,128.47 L424.50,127.74 L424.90,127.30 L424.90,127.30 L425.30,127.86 L425.70,128.76 L426.10,129.90 L426.50,131.21 L426.90,132.60 L427.30,133.99 L427.70,135.30 L428.10,136.44 L428.50,137.34 L428.90,137.90 L428.90,137.90 L429.30,137.52 L429.70,136.95 L430.10,136.23 L430.50,135.40 L430.90,134.48 L431.30,133.50 L431.70,132.51 L432.10,131.52 L432.50,130.57 L432.90,129.70 L433.30,128.93 L433.50,128.60 L433.70,128.35 L434.10,127.86 L434.50,127.35 L434.90,126.86 L435.30,126.37 L435.70,125.91 L436.10,125.48 L436.50,125.08 L436.90,124.72 L437.30,124.42 L437.70,124.18 L438.10,124.00 L438.10,124.00 L438.50,124.19 L438.90,124.48 L439.30,124.85 L439.70,125.28 L440.10,125.74 L440.50,126.23 L440.90,126.71 L441.30,127.18 L441.70,127.62 L442.10,128.00 L442.10,128.00 L442.50,128.31 L442.90,128.63 L443.30,128.96 L443.70,129.28 L444.10,129.59 L444.50,129.88 L444.90,130.13 L445.30,130.35 L445.70,130.51 L446.00,130.60 L446.10,130.55 L446.50,130.24 L446.90,129.76 L447.30,129.19 L447.70,128.57 L448.10,127.96 L448.50,127.41 L448.90,126.97 L449.30,126.70 L449.30,126.70 L449.70,129.02 L450.10,132.73 L450.50,137.39 L450.90,142.56 L451.30,147.80 L451.30,147.80 L451.70,155.96 L452.10,165.77 L452.50,174.68 L452.90,180.10 L452.90,180.10 L453.30,174.54 L453.70,165.47 L454.10,154.39 L454.50,142.80 L454.60,140.00 L454.90,128.93 L455.30,112.07 L455.70,95.04 L456.10,80.30 L456.10,80.30 L456.50,70.11 L456.90,59.96 L457.30,50.32 L457.70,41.67 L458.10,34.49 L458.50,29.24 L458.70,27.50 L458.90,29.03 L459.30,34.64 L459.70,41.73 L460.10,47.94 L460.40,50.60 L460.50,50.15 L460.90,46.74 L461.30,41.75 L461.70,36.44 L462.10,32.08 L462.40,30.20 L462.50,31.21 L462.90,38.62 L463.30,49.50 L463.70,61.24 L464.10,71.23 L464.40,76.00 L464.50,76.31 L464.90,77.19 L465.30,78.08 L465.40,78.40 L465.70,81.31 L466.10,86.88 L466.30,90.00 L466.50,94.58 L466.90,105.32 L467.30,117.50 L467.70,130.30 L467.70,130.30 L468.10,148.00 L468.40,158.00 L468.50,158.44 L468.90,159.57 L469.20,160.50 L469.30,161.42 L469.70,166.75 L470.10,173.79 L470.50,181.23 L470.90,187.82 L471.30,192.27 L471.40,192.90 L471.70,191.08 L472.10,187.40 L472.50,182.56 L472.90,176.85 L473.30,170.59 L473.70,164.07 L474.00,159.20 L474.10,157.04 L474.50,146.78 L474.90,135.31 L475.30,124.52 L475.60,118.00 L475.70,116.70 L476.10,111.73 L476.50,107.52 L476.90,104.60 L476.90,104.60 L477.30,103.95 L477.70,103.47 L478.00,103.00 L478.10,102.65 L478.50,100.66 L478.90,98.27 L479.30,96.20 L479.60,95.30 L479.70,95.84 L480.10,99.13 L480.50,103.93 L480.90,109.77 L481.30,116.18 L481.70,122.70 L482.10,128.87 L482.20,130.30 L482.50,134.98 L482.90,141.88 L483.30,149.25 L483.70,156.78 L484.10,164.17 L484.50,171.12 L484.90,177.33 L485.30,182.49 L485.70,186.30 L485.90,187.60 L486.10,187.11 L486.50,185.30 L486.90,183.49 L487.10,183.00 L487.30,183.40 L487.70,184.87 L488.10,186.55 L488.50,187.60 L488.50,187.60 L488.90,185.42 L489.30,182.04 L489.70,177.72 L490.10,172.73 L490.50,167.34 L490.80,163.20 L490.90,161.19 L491.30,151.43 L491.70,140.46 L492.10,130.30 L492.10,130.30 L492.50,122.02 L492.90,113.55 L493.30,105.43 L493.70,98.22 L494.10,92.45 L494.40,89.40 L494.50,89.18 L494.90,88.54 L495.20,88.00 L495.30,87.52 L495.70,84.79 L496.10,81.23 L496.50,77.47 L496.90,74.16 L497.30,71.92 L497.40,71.60 L497.70,72.66 L498.10,74.79 L498.50,77.58 L498.90,80.85 L499.30,84.42 L499.70,88.11 L500.10,91.75 L500.50,95.15 L500.70,96.70 L500.90,98.15 L501.30,100.93 L501.70,103.68 L502.10,106.51 L502.50,109.56 L502.70,111.20 L502.90,113.44 L503.30,118.67 L503.70,124.62 L504.10,130.95 L504.50,137.32 L504.90,143.37 L505.30,148.76 L505.70,153.15 L506.10,156.19 L506.20,156.70 L506.50,155.66 L506.90,153.36 L507.30,150.40 L507.70,147.18 L508.10,144.11 L508.50,141.59 L508.60,141.10 L508.90,140.23 L509.30,139.30 L509.70,138.46 L510.10,137.54 L510.50,136.36 L510.60,136.00 L510.90,132.79 L511.30,126.56 L511.70,119.86 L512.10,114.65 L512.30,113.20 L512.50,113.33 L512.90,113.73 L513.30,114.28 L513.70,114.96 L514.10,115.71 L514.50,116.50 L514.50,116.50 L514.90,117.98 L515.30,119.76 L515.70,121.77 L516.10,123.95 L516.50,126.24 L516.90,128.57 L517.20,130.30 L517.30,130.98 L517.70,134.03 L518.10,137.49 L518.50,141.15 L518.90,144.82 L519.30,148.31 L519.70,151.42 L520.10,153.95 L520.50,155.70 L520.60,156.00 L520.90,155.33 L521.30,153.84 L521.70,151.94 L522.10,149.93 L522.50,148.09 L522.80,147.00 L522.90,146.78 L523.30,146.08 L523.70,145.34 L523.80,145.10 L524.10,143.51 L524.50,140.75 L524.90,137.53 L525.30,134.19 L525.70,131.02 L525.80,130.30 L526.10,128.22 L526.50,125.27 L526.90,122.20 L527.30,119.10 L527.70,116.06 L528.10,113.16 L528.50,110.49 L528.90,108.14 L529.30,106.18 L529.70,104.72 L529.90,104.20 L530.10,104.26 L530.50,104.44 L530.90,104.68 L531.30,104.97 L531.70,105.33 L532.10,105.74 L532.50,106.20 L532.50,106.20 L532.90,108.39 L533.30,111.66 L533.70,115.35 L534.10,118.82 L534.50,121.40 L534.50,121.40 L534.90,122.52 L535.30,123.59 L535.70,124.58 L536.10,125.49 L536.50,126.29 L536.90,126.97 L537.30,127.52 L537.70,127.92 L537.80,128.00 L538.10,127.58 L538.50,126.59 L538.90,125.40 L539.30,124.27 L539.70,123.50 L539.80,123.40 L540.10,123.54 L540.50,123.86 L540.90,124.24 L541.30,124.56 L541.60,124.70 L541.70,124.59 L542.10,123.77 L542.50,122.55 L542.90,121.23 L543.30,120.08 L543.70,119.40 L543.70,119.40 L544.10,119.79 L544.50,120.39 L544.90,121.15 L545.30,122.03 L545.70,122.99 L546.10,123.97 L546.40,124.70 L546.50,125.03 L546.90,126.46 L547.30,128.08 L547.70,129.82 L548.10,131.63 L548.50,133.46 L548.90,135.25 L549.30,136.95 L549.70,138.50 L549.70,138.50 L550.10,139.82 L550.50,141.19 L550.90,142.56 L551.30,143.89 L551.70,145.12 L552.10,146.20 L552.50,147.07 L552.90,147.69 L553.00,147.80 L553.30,147.61 L553.70,147.21 L554.10,146.69 L554.50,146.07 L554.90,145.39 L555.30,144.68 L555.40,144.50 L555.70,143.61 L556.10,142.16 L556.50,140.52 L556.90,138.77 L557.30,137.03 L557.70,135.38 L558.10,133.92 L558.30,133.30 L558.50,132.87 L558.90,132.03 L559.30,131.22 L559.70,130.44 L560.10,129.71 L560.50,129.01 L560.90,128.37 L561.30,127.78 L561.70,127.26 L562.10,126.80 L562.20,126.70 L562.50,126.54 L562.90,126.32 L563.30,126.12 L563.70,125.95 L564.10,125.80 L564.50,125.68 L564.90,125.60 L564.90,125.60 L565.30,125.77 L565.70,126.03 L566.10,126.37 L566.50,126.75 L566.90,127.13 L567.30,127.49 L567.70,127.78 L568.10,127.97 L568.20,128.00 L568.50,127.54 L568.90,126.56 L569.30,125.27 L569.70,123.83 L570.10,122.35 L570.50,120.98 L570.80,120.10 L570.90,119.87 L571.30,118.94 L571.70,118.01 L572.10,117.10 L572.50,116.22 L572.90,115.40 L573.30,114.66 L573.70,114.02 L574.10,113.50 L574.10,113.50 L574.50,113.28 L574.90,113.07 L575.30,112.87 L575.70,112.69 L576.10,112.54 L576.50,112.40 L576.90,112.29 L577.30,112.21 L577.40,112.20 L577.70,112.95 L578.10,114.63 L578.50,116.75 L578.90,118.99 L579.30,120.98 L579.40,121.40 L579.70,122.44 L580.10,123.82 L580.50,125.16 L580.90,126.43 L581.30,127.60 L581.70,128.63 L582.00,129.30 L582.10,129.43 L582.50,129.97 L582.90,130.48 L583.30,130.97 L583.70,131.42 L584.10,131.81 L584.50,132.15 L584.90,132.42 L585.30,132.60 L585.30,132.60 L585.70,132.07 L586.10,131.24 L586.50,130.17 L586.90,128.95 L587.30,127.65 L587.70,126.35 L588.10,125.13 L588.50,124.06 L588.90,123.23 L589.30,122.70 L589.30,122.70 L589.70,123.20 L590.10,124.00 L590.50,124.99 L590.90,126.09 L591.30,127.18 L591.70,128.17 L591.90,128.60 L592.10,128.95 L592.50,129.70 L592.90,130.45 L593.30,131.16 L593.70,131.79 L594.10,132.28 L594.50,132.60 L594.50,132.60 L594.90,132.46 L595.30,132.24 L595.70,131.95 L596.10,131.64 L596.50,131.32 L596.90,131.03 L597.30,130.79 L597.70,130.62 L597.80,130.60 L598.10,130.71 L598.50,130.93 L598.90,131.23 L599.30,131.58 L599.70,131.95 L600.10,132.32 L600.50,132.67 L600.90,132.97 L601.30,133.19 L601.60,133.30 L601.70,133.26 L602.10,133.05 L602.50,132.74 L602.90,132.37 L603.30,131.94 L603.70,131.48 L604.10,131.00 L604.50,130.51 L604.90,130.04 L605.30,129.60 L605.60,129.30 L605.70,129.21 L606.10,128.83 L606.50,128.43 L606.90,128.01 L607.30,127.61 L607.70,127.22 L608.10,126.85 L608.50,126.53 L608.90,126.27 L609.30,126.07 L609.50,126.00 L609.70,126.14 L610.10,126.64 L610.50,127.32 L610.90,128.10 L611.30,128.86 L611.70,129.51 L612.10,129.94 L612.20,130.00 L612.50,129.88 L612.90,129.61 L613.30,129.26 L613.70,128.85 L614.10,128.41 L614.50,127.96 L614.90,127.54 L615.30,127.17 L615.70,126.88 L616.10,126.70 L616.10,126.70 L616.50,127.12 L616.90,127.79 L617.30,128.64 L617.70,129.61 L618.10,130.65 L618.50,131.69 L618.90,132.66 L619.30,133.51 L619.70,134.18 L620.10,134.60 L620.10,134.60 L620.50,134.15 L620.90,133.41 L621.30,132.47 L621.70,131.43 L622.10,130.38 L622.50,129.41 L622.90,128.62 L623.30,128.08 L623.40,128.00 L623.70,128.17 L624.10,128.50 L624.50,128.94 L624.90,129.45 L625.30,130.01 L625.70,130.58 L626.10,131.14 L626.50,131.66 L626.70,131.90 L626.90,132.11 L627.30,132.53 L627.70,132.94 L628.10,133.35 L628.50,133.75 L628.90,134.15 L629.30,134.55 L629.70,134.96 L630.10,135.37 L630.50,135.79 L630.60,135.90 L630.90,136.26 L631.30,136.77 L631.70,137.32 L632.10,137.89 L632.50,138.47 L632.90,139.07 L633.30,139.65 L633.70,140.23 L634.10,140.79 L634.50,141.31 L634.90,141.80 L635.30,142.23 L635.70,142.61 L636.10,142.92 L636.50,143.15 L636.60,143.20 L636.90,142.35 L637.30,140.37 L637.70,138.01 L638.10,135.87 L638.50,134.60 L638.50,134.60 L638.90,134.83 L639.30,135.18 L639.70,135.63 L640.10,136.16 L640.50,136.73 L640.90,137.32 L641.30,137.92 L641.70,138.48 L642.10,138.99 L642.50,139.42 L642.90,139.74 L643.20,139.90 L643.30,139.84 L643.70,139.35 L644.10,138.64 L644.50,137.91 L644.90,137.35 L645.10,137.20 L645.30,137.34 L645.70,137.86 L646.10,138.55 L646.50,139.24 L646.90,139.76 L647.10,139.90 L647.30,139.83 L647.70,139.58 L648.10,139.24 L648.50,138.85 L648.90,138.47 L649.30,138.15 L649.70,137.93 L649.80,137.90 L650.10,138.20 L650.50,138.87 L650.90,139.73 L651.30,140.67 L651.70,141.53 L652.10,142.20 L652.40,142.50 L652.50,142.48 L652.90,142.33 L653.30,142.11 L653.70,141.85 L654.10,141.59 L654.50,141.37 L654.90,141.22 L655.00,141.20 L655.30,141.36 L655.70,141.68 L656.10,142.10 L656.50,142.59 L656.90,143.13 L657.30,143.70 L657.70,144.26 L658.10,144.81 L658.50,145.30 L658.90,145.71 L659.00,145.80 L659.30,145.99 L659.70,146.24 L660.10,146.49 L660.50,146.74 L660.90,146.98 L661.30,147.21 L661.70,147.43 L662.10,147.63 L662.50,147.82 L662.90,147.99 L663.30,148.14 L663.70,148.26 L664.10,148.36 L664.30,148.40 L664.50,148.28 L664.90,147.92 L665.30,147.41 L665.70,146.82 L666.10,146.20 L666.50,145.61 L666.90,145.10 L666.90,145.10 L667.30,144.70 L667.70,144.29 L668.10,143.88 L668.50,143.46 L668.90,143.06 L669.30,142.67 L669.70,142.31 L670.10,141.98 L670.50,141.69 L670.90,141.45 L671.30,141.27 L671.50,141.20 L671.70,141.34 L672.10,141.75 L672.50,142.32 L672.90,143.00 L673.30,143.78 L673.70,144.59 L674.10,145.42 L674.50,146.22 L674.90,146.95 L675.30,147.59 L675.70,148.08 L676.10,148.40 L676.10,148.40 L676.50,147.92 L676.90,147.15 L677.30,146.17 L677.70,145.07 L677.90,144.50" stroke="#1a1aff"/>
</g>
<g font-size="10.8" fill="#000" text-anchor="end">
<text x="387.2" y="11.4">2</text>
<text x="387.2" y="71.5">1</text>
<text x="387.2" y="131.6">0</text>
<text x="387.2" y="191.7">-1</text>
</g>
<g font-size="12" fill="#111" text-anchor="middle">
<text x="391.5" y="231.9">0</text>
<text x="463.1" y="231.9">2.5</text>
<text x="534.6" y="231.9">5</text>
<text x="606.2" y="231.9">7.5</text>
<text x="677.8" y="231.9">10</text>
</g>
<text x="355.4" y="12.4" font-size="11" fill="#000">(b)</text>
<text transform="translate(371.8,158.8) rotate(-90)" font-size="16.5" font-weight="bold" fill="#000" textLength="40.2" lengthAdjust="spacingAndGlyphs">Stress</text>
<text transform="translate(370.0,110.6) rotate(-90)" font-size="10" fill="#000" textLength="26.4" lengthAdjust="spacingAndGlyphs">(MPa)</text>
<text x="493.9" y="244.9" font-size="16.2" font-weight="bold" fill="#000" textLength="31.4" lengthAdjust="spacingAndGlyphs">Time</text>
<text x="534.3" y="243.1" font-size="10" fill="#000" textLength="19.0" lengthAdjust="spacingAndGlyphs">(ms)</text>
<path d="M525.2,26.6h24.1" stroke="#222" stroke-width="1.3"/>
<text x="554.6" y="30.7" font-size="9.7" fill="#000" textLength="79.6" lengthAdjust="spacingAndGlyphs">First Test-Channel 3</text>
<path d="M525.2,39.2h24.1" stroke="#ff1414" stroke-width="1.3"/>
<text x="554.6" y="43.3" font-size="9.7" fill="#000" textLength="90.0" lengthAdjust="spacingAndGlyphs">Second Test-Channel 3</text>
<path d="M525.2,51.8h24.1" stroke="#2a2aff" stroke-width="1.3"/>
<text x="554.6" y="55.9" font-size="9.7" fill="#000" textLength="83.3" lengthAdjust="spacingAndGlyphs">Third Test-Channel 3</text>
</g>
<g id="panel-c">
<rect x="39.9" y="261.4" width="286.60" height="210.90" fill="none" stroke="#1c1c1c" stroke-width="1.05"/>
<path d="M39.9,296.55h4 M39.9,331.70h4 M39.9,366.85h4 M39.9,402.00h4 M39.9,437.15h4 M39.9,278.97h2.5 M39.9,314.12h2.5 M39.9,349.27h2.5 M39.9,384.43h2.5 M39.9,419.57h2.5 M39.9,454.73h2.5 M111.55,472.3v-4 M183.20,472.3v-4 M254.85,472.3v-4 M75.72,472.3v-2.5 M147.38,472.3v-2.5 M219.03,472.3v-2.5 M290.68,472.3v-2.5" stroke="#1c1c1c" stroke-width="1" fill="none"/>
<clipPath id="clipc"><rect x="39.9" y="261.4" width="286.6" height="210.90000000000003"/></clipPath>
<g clip-path="url(#clipc)" fill="none" stroke-width="1.28" stroke-linejoin="round" stroke-linecap="round">
<path d="M40.00,366.70 L40.40,366.40 L40.80,366.11 L41.20,365.85 L41.60,365.62 L42.00,365.40 L42.40,365.21 L42.80,365.04 L43.20,364.90 L43.60,364.78 L43.90,364.70 L44.00,364.72 L44.40,364.86 L44.80,365.04 L45.20,365.27 L45.60,365.51 L46.00,365.76 L46.40,366.01 L46.80,366.25 L47.20,366.45 L47.60,366.61 L47.90,366.70 L48.00,366.62 L48.40,366.16 L48.80,365.52 L49.20,364.76 L49.60,363.95 L50.00,363.14 L50.40,362.41 L50.80,361.81 L51.20,361.40 L51.20,361.40 L51.60,361.67 L52.00,362.03 L52.40,362.48 L52.80,362.99 L53.20,363.54 L53.60,364.11 L54.00,364.68 L54.40,365.23 L54.80,365.74 L55.20,366.19 L55.60,366.55 L55.80,366.70 L56.00,366.74 L56.40,366.83 L56.80,366.90 L57.20,366.98 L57.60,367.05 L58.00,367.11 L58.40,367.17 L58.80,367.22 L59.20,367.26 L59.60,367.29 L59.70,367.30 L60.00,366.85 L60.40,365.92 L60.80,364.77 L61.20,363.53 L61.60,362.35 L62.00,361.36 L62.40,360.70 L62.40,360.70 L62.80,360.94 L63.20,361.26 L63.60,361.66 L64.00,362.10 L64.40,362.58 L64.80,363.07 L65.20,363.56 L65.60,364.02 L66.00,364.43 L66.30,364.70 L66.40,364.76 L66.80,365.00 L67.20,365.24 L67.60,365.48 L68.00,365.72 L68.40,365.94 L68.80,366.14 L69.20,366.33 L69.60,366.49 L70.00,366.62 L70.30,366.70 L70.40,366.67 L70.80,366.48 L71.20,366.23 L71.60,365.94 L72.00,365.61 L72.40,365.26 L72.80,364.93 L73.20,364.61 L73.60,364.33 L74.00,364.11 L74.30,364.00 L74.40,364.03 L74.80,364.16 L75.20,364.36 L75.60,364.59 L76.00,364.84 L76.40,365.10 L76.80,365.35 L77.20,365.59 L77.60,365.79 L78.00,365.95 L78.20,366.00 L78.40,366.00 L78.80,366.00 L79.20,366.00 L79.60,366.00 L80.00,366.00 L80.40,366.00 L80.80,366.00 L81.20,366.00 L81.60,366.00 L82.00,366.00 L82.40,366.00 L82.80,366.00 L83.20,366.00 L83.50,366.00 L83.60,366.01 L84.00,366.07 L84.40,366.16 L84.80,366.26 L85.20,366.36 L85.60,366.47 L86.00,366.57 L86.40,366.65 L86.80,366.70 L86.80,366.70 L87.20,366.49 L87.60,366.19 L88.00,365.81 L88.40,365.40 L88.80,364.99 L89.20,364.60 L89.60,364.28 L90.00,364.04 L90.10,364.00 L90.40,364.09 L90.80,364.26 L91.20,364.47 L91.60,364.71 L92.00,364.97 L92.40,365.23 L92.80,365.47 L93.20,365.70 L93.60,365.88 L94.00,366.00 L94.00,366.00 L94.40,365.92 L94.80,365.81 L95.20,365.67 L95.60,365.51 L96.00,365.35 L96.40,365.19 L96.80,365.03 L97.20,364.89 L97.60,364.78 L98.00,364.70 L98.00,364.70 L98.40,364.87 L98.80,365.10 L99.20,365.38 L99.60,365.70 L100.00,366.07 L100.40,366.48 L100.60,366.70 L100.80,367.82 L101.20,370.89 L101.60,374.78 L102.00,379.12 L102.40,383.56 L102.80,387.74 L103.20,391.29 L103.60,393.86 L103.70,394.30 L104.00,391.93 L104.40,387.37 L104.80,381.65 L105.20,375.27 L105.60,368.72 L106.00,362.48 L106.40,357.06 L106.60,354.80 L106.80,353.43 L107.20,350.70 L107.60,348.21 L108.00,346.21 L108.30,345.20 L108.40,345.21 L108.80,345.25 L109.20,345.31 L109.60,345.37 L110.00,345.44 L110.40,345.51 L110.80,345.56 L111.20,345.60 L111.20,345.60 L111.60,345.17 L112.00,344.52 L112.40,343.75 L112.80,342.98 L113.20,342.33 L113.60,341.90 L113.60,341.90 L114.00,342.60 L114.40,343.63 L114.80,344.87 L115.20,346.22 L115.40,346.90 L115.60,347.98 L116.00,350.36 L116.40,352.97 L116.80,355.77 L117.20,358.69 L117.60,361.68 L118.00,364.66 L118.10,365.40 L118.40,368.19 L118.80,372.30 L119.20,375.72 L119.40,376.80 L119.60,376.45 L120.00,375.42 L120.40,374.08 L120.80,372.58 L121.20,371.06 L121.50,370.00 L121.60,369.64 L122.00,368.07 L122.40,366.38 L122.80,364.63 L123.20,362.92 L123.60,361.33 L124.00,359.93 L124.40,358.81 L124.70,358.20 L124.80,358.37 L125.20,359.27 L125.60,360.48 L126.00,361.91 L126.40,363.49 L126.80,365.11 L127.20,366.70 L127.60,368.16 L128.00,369.40 L128.00,369.40 L128.40,370.17 L128.80,370.87 L129.20,371.54 L129.60,372.19 L130.00,372.87 L130.30,373.40 L130.40,373.61 L130.80,374.51 L131.20,375.49 L131.60,376.50 L132.00,377.48 L132.40,378.37 L132.80,379.13 L133.20,379.70 L133.30,379.80 L133.60,378.92 L134.00,377.21 L134.40,375.08 L134.80,372.73 L135.20,370.34 L135.60,368.13 L135.90,366.70 L136.00,366.36 L136.40,365.03 L136.80,363.71 L137.20,362.42 L137.60,361.15 L138.00,359.93 L138.40,358.74 L138.80,357.61 L139.20,356.53 L139.60,355.51 L140.00,354.57 L140.40,353.70 L140.50,353.50 L140.80,353.17 L141.20,352.74 L141.60,352.31 L142.00,351.90 L142.40,351.51 L142.80,351.14 L143.20,350.79 L143.60,350.47 L144.00,350.18 L144.40,349.94 L144.80,349.73 L145.10,349.60 L145.20,349.74 L145.60,350.54 L146.00,351.63 L146.40,352.91 L146.80,354.28 L147.20,355.65 L147.60,356.93 L147.80,357.50 L148.00,357.99 L148.40,359.00 L148.80,360.01 L149.20,360.99 L149.60,361.91 L150.00,362.72 L150.40,363.40 L150.40,363.40 L150.80,363.67 L151.20,363.94 L151.60,364.19 L152.00,364.42 L152.40,364.64 L152.80,364.83 L153.20,365.01 L153.60,365.17 L154.00,365.30 L154.40,365.40 L154.40,365.40 L154.80,364.99 L155.20,364.39 L155.60,363.66 L156.00,362.85 L156.40,362.04 L156.80,361.28 L157.20,360.64 L157.60,360.18 L157.70,360.10 L158.00,360.34 L158.40,360.82 L158.80,361.43 L159.20,362.07 L159.60,362.68 L160.00,363.16 L160.30,363.40 L160.40,363.35 L160.80,363.06 L161.20,362.66 L161.60,362.19 L162.00,361.69 L162.40,361.19 L162.80,360.73 L163.20,360.35 L163.60,360.10 L163.60,360.10 L164.00,360.71 L164.40,361.60 L164.80,362.70 L165.20,363.90 L165.60,365.11 L166.00,366.24 L166.40,367.19 L166.80,367.88 L166.90,368.00 L167.20,366.92 L167.60,364.81 L168.00,362.18 L168.40,359.29 L168.80,356.41 L169.20,353.81 L169.50,352.20 L169.60,351.88 L170.00,350.59 L170.40,349.34 L170.80,348.24 L171.20,347.36 L171.50,346.90 L171.60,346.94 L172.00,347.12 L172.40,347.37 L172.80,347.67 L173.20,348.00 L173.60,348.35 L174.00,348.72 L174.20,348.90 L174.40,349.19 L174.80,349.83 L175.20,350.52 L175.60,351.26 L176.00,352.03 L176.40,352.84 L176.80,353.66 L177.20,354.49 L177.40,354.90 L177.60,355.42 L178.00,356.58 L178.40,357.85 L178.80,359.12 L179.20,360.31 L179.60,361.32 L180.00,362.07 L180.10,362.20 L180.40,362.16 L180.80,362.08 L181.20,361.98 L181.60,361.87 L182.00,361.77 L182.40,361.68 L182.80,361.61 L182.90,361.60 L183.20,361.76 L183.60,362.06 L184.00,362.42 L184.40,362.84 L184.80,363.29 L185.20,363.76 L185.60,364.23 L186.00,364.69 L186.20,364.90 L186.40,365.13 L186.80,365.59 L187.20,366.05 L187.60,366.52 L188.00,367.00 L188.40,367.48 L188.80,367.96 L189.20,368.44 L189.50,368.80 L189.60,368.92 L190.00,369.44 L190.40,369.98 L190.80,370.55 L191.20,371.13 L191.60,371.71 L192.00,372.29 L192.40,372.87 L192.80,373.43 L193.20,373.96 L193.60,374.46 L194.00,374.92 L194.40,375.33 L194.80,375.69 L195.20,375.98 L195.40,376.10 L195.60,375.82 L196.00,375.10 L196.40,374.20 L196.80,373.15 L197.20,371.99 L197.60,370.74 L198.00,369.43 L198.40,368.10 L198.80,366.78 L199.20,365.51 L199.40,364.90 L199.60,364.21 L200.00,362.73 L200.40,361.17 L200.80,359.58 L201.20,357.99 L201.60,356.47 L202.00,355.06 L202.40,353.81 L202.70,353.00 L202.80,352.87 L203.20,352.36 L203.60,351.87 L204.00,351.40 L204.40,350.99 L204.80,350.62 L205.20,350.32 L205.60,350.10 L205.60,350.10 L206.00,350.34 L206.40,350.65 L206.80,351.02 L207.20,351.45 L207.60,351.92 L208.00,352.43 L208.40,352.98 L208.80,353.55 L209.20,354.15 L209.30,354.30 L209.60,355.31 L210.00,356.97 L210.40,358.89 L210.80,360.94 L211.20,363.01 L211.60,364.99 L212.00,366.77 L212.40,368.23 L212.60,368.80 L212.80,368.97 L213.20,369.30 L213.60,369.61 L214.00,369.90 L214.40,370.18 L214.80,370.43 L215.20,370.67 L215.60,370.88 L216.00,371.07 L216.40,371.24 L216.80,371.38 L217.20,371.50 L217.20,371.50 L217.60,371.16 L218.00,370.70 L218.40,370.14 L218.80,369.51 L219.20,368.83 L219.60,368.12 L220.00,367.41 L220.40,366.72 L220.80,366.08 L221.20,365.50 L221.20,365.50 L221.60,365.04 L222.00,364.58 L222.40,364.10 L222.80,363.62 L223.20,363.16 L223.60,362.71 L224.00,362.28 L224.40,361.89 L224.80,361.54 L225.20,361.24 L225.60,361.00 L225.80,360.90 L226.00,360.97 L226.40,361.14 L226.80,361.37 L227.20,361.63 L227.60,361.92 L228.00,362.22 L228.40,362.54 L228.80,362.85 L229.20,363.15 L229.60,363.43 L229.70,363.50 L230.00,363.69 L230.40,363.97 L230.80,364.26 L231.20,364.54 L231.60,364.81 L232.00,365.06 L232.40,365.27 L232.80,365.44 L233.00,365.50 L233.20,365.26 L233.60,364.57 L234.00,363.65 L234.40,362.59 L234.80,361.48 L235.20,360.41 L235.60,359.45 L236.00,358.69 L236.30,358.30 L236.40,358.42 L236.80,359.03 L237.20,359.85 L237.60,360.82 L238.00,361.90 L238.40,363.02 L238.80,364.15 L239.20,365.22 L239.60,366.20 L239.60,366.20 L240.00,367.06 L240.40,367.97 L240.80,368.91 L241.20,369.84 L241.60,370.75 L242.00,371.61 L242.40,372.40 L242.80,373.09 L243.20,373.67 L243.60,374.10 L243.60,374.10 L244.00,373.49 L244.40,372.62 L244.80,371.57 L245.20,370.40 L245.60,369.17 L246.00,367.94 L246.40,366.77 L246.80,365.73 L246.90,365.50 L247.20,364.95 L247.60,364.21 L248.00,363.46 L248.40,362.71 L248.80,361.98 L249.20,361.27 L249.60,360.60 L250.00,359.99 L250.40,359.43 L250.80,358.94 L251.20,358.54 L251.50,358.30 L251.60,358.39 L252.00,358.88 L252.40,359.54 L252.80,360.32 L253.20,361.19 L253.60,362.11 L254.00,363.04 L254.20,363.50 L254.40,364.17 L254.80,365.78 L255.20,367.47 L255.60,368.90 L255.90,369.60 L256.00,369.50 L256.40,369.00 L256.80,368.34 L257.20,367.55 L257.60,366.66 L258.00,365.73 L258.40,364.78 L258.80,363.85 L259.20,362.97 L259.60,362.20 L259.90,361.70 L260.00,361.60 L260.40,361.20 L260.80,360.80 L261.20,360.41 L261.60,360.05 L262.00,359.71 L262.40,359.42 L262.80,359.18 L263.20,359.00 L263.20,359.00 L263.60,359.07 L264.00,359.16 L264.40,359.26 L264.80,359.38 L265.20,359.51 L265.60,359.65 L266.00,359.80 L266.40,359.96 L266.80,360.13 L267.20,360.30 L267.20,360.30 L267.60,360.69 L268.00,361.16 L268.40,361.69 L268.80,362.26 L269.20,362.86 L269.60,363.47 L270.00,364.07 L270.40,364.66 L270.80,365.20 L271.20,365.70 L271.60,366.12 L271.80,366.30 L272.00,366.38 L272.40,366.53 L272.80,366.67 L273.20,366.81 L273.60,366.94 L274.00,367.07 L274.40,367.18 L274.80,367.29 L275.20,367.39 L275.60,367.47 L276.00,367.54 L276.40,367.60 L276.40,367.60 L276.80,367.19 L277.20,366.60 L277.60,365.87 L278.00,365.05 L278.40,364.19 L278.80,363.34 L279.20,362.54 L279.60,361.84 L280.00,361.29 L280.30,361.00 L280.40,361.02 L280.80,361.13 L281.20,361.29 L281.60,361.48 L282.00,361.68 L282.40,361.87 L282.80,362.05 L283.20,362.20 L283.60,362.30 L283.60,362.30 L284.00,362.00 L284.40,361.56 L284.80,361.02 L285.20,360.43 L285.60,359.83 L286.00,359.27 L286.40,358.80 L286.80,358.46 L286.90,358.40 L287.20,358.42 L287.60,358.45 L288.00,358.49 L288.40,358.54 L288.80,358.59 L289.20,358.65 L289.60,358.71 L290.00,358.76 L290.40,358.82 L290.80,358.87 L291.20,358.92 L291.60,358.96 L292.00,358.99 L292.20,359.00 L292.40,358.98 L292.80,358.94 L293.20,358.88 L293.60,358.81 L294.00,358.74 L294.40,358.66 L294.80,358.59 L295.20,358.52 L295.60,358.46 L296.00,358.42 L296.20,358.40 L296.40,358.50 L296.80,358.78 L297.20,359.13 L297.60,359.55 L298.00,360.01 L298.40,360.50 L298.80,361.00 L298.80,361.00" stroke="#151515"/>
<path d="M40.00,372.60 L40.40,371.18 L40.80,369.78 L41.20,368.45 L41.60,367.19 L42.00,366.05 L42.40,365.04 L42.80,364.19 L43.20,363.53 L43.30,363.40 L43.60,363.46 L44.00,363.57 L44.40,363.70 L44.80,363.86 L45.20,364.03 L45.60,364.20 L46.00,364.36 L46.40,364.50 L46.80,364.62 L47.20,364.70 L47.20,364.70 L47.60,364.11 L48.00,363.21 L48.40,362.19 L48.80,361.29 L49.20,360.70 L49.20,360.70 L49.60,361.02 L50.00,361.48 L50.40,362.05 L50.80,362.68 L51.20,363.35 L51.60,364.02 L52.00,364.65 L52.40,365.22 L52.80,365.68 L53.20,366.00 L53.20,366.00 L53.60,365.45 L54.00,364.61 L54.40,363.61 L54.80,362.58 L55.20,361.64 L55.60,360.93 L55.80,360.70 L56.00,360.94 L56.40,361.62 L56.80,362.52 L57.20,363.55 L57.60,364.64 L58.00,365.72 L58.40,366.71 L58.80,367.54 L59.10,368.00 L59.20,368.04 L59.60,368.20 L60.00,368.35 L60.40,368.50 L60.80,368.63 L61.20,368.76 L61.60,368.87 L62.00,368.98 L62.40,369.07 L62.80,369.15 L63.20,369.23 L63.60,369.29 L63.70,369.30 L64.00,369.02 L64.40,368.49 L64.80,367.81 L65.20,367.04 L65.60,366.21 L66.00,365.37 L66.40,364.57 L66.80,363.84 L67.20,363.23 L67.60,362.78 L67.70,362.70 L68.00,362.91 L68.40,363.34 L68.80,363.87 L69.20,364.47 L69.60,365.08 L70.00,365.67 L70.40,366.18 L70.80,366.57 L71.00,366.70 L71.20,366.59 L71.60,366.27 L72.00,365.85 L72.40,365.37 L72.80,364.86 L73.20,364.37 L73.60,363.93 L74.00,363.58 L74.30,363.40 L74.40,363.52 L74.80,364.22 L75.20,365.16 L75.60,366.30 L76.00,367.54 L76.40,368.83 L76.80,370.10 L77.20,371.27 L77.60,372.27 L78.00,373.03 L78.20,373.30 L78.40,372.69 L78.80,370.83 L79.20,368.38 L79.60,365.66 L80.00,362.97 L80.40,360.64 L80.80,358.98 L80.90,358.70 L81.20,359.30 L81.60,360.44 L82.00,361.85 L82.40,363.45 L82.80,365.14 L83.20,366.81 L83.50,368.00 L83.60,368.44 L84.00,370.38 L84.40,372.51 L84.80,374.67 L85.20,376.69 L85.60,378.41 L86.00,379.67 L86.10,379.90 L86.40,379.71 L86.80,379.36 L87.20,378.93 L87.60,378.44 L88.00,377.90 L88.40,377.33 L88.80,376.75 L89.20,376.18 L89.40,375.90 L89.60,375.54 L90.00,374.76 L90.40,373.91 L90.80,373.02 L91.20,372.14 L91.60,371.28 L92.00,370.48 L92.40,369.76 L92.70,369.30 L92.80,369.22 L93.20,368.94 L93.60,368.70 L94.00,368.47 L94.40,368.26 L94.80,368.05 L95.20,367.83 L95.60,367.58 L96.00,367.30 L96.00,367.30 L96.40,366.74 L96.80,366.07 L97.20,365.32 L97.60,364.55 L98.00,363.79 L98.40,363.10 L98.80,362.51 L99.20,362.08 L99.30,362.00 L99.60,363.72 L100.00,367.01 L100.40,371.13 L100.80,375.72 L101.20,380.46 L101.60,385.00 L101.60,385.00 L102.00,390.56 L102.40,396.85 L102.80,403.11 L103.20,408.61 L103.60,412.62 L103.70,413.30 L104.00,410.04 L104.40,403.65 L104.80,395.74 L105.20,387.17 L105.60,378.82 L105.80,375.00 L106.00,371.29 L106.40,363.57 L106.80,355.74 L107.20,348.14 L107.60,341.12 L108.00,335.00 L108.00,335.00 L108.40,331.46 L108.80,328.00 L109.20,324.71 L109.60,321.69 L110.00,319.05 L110.40,316.89 L110.80,315.30 L110.80,315.30 L111.20,315.40 L111.60,315.54 L112.00,315.71 L112.40,315.91 L112.80,316.14 L113.20,316.40 L113.20,316.40 L113.60,318.12 L114.00,320.36 L114.40,323.01 L114.80,325.97 L115.20,329.13 L115.60,332.37 L116.00,335.61 L116.10,336.40 L116.40,339.63 L116.80,344.45 L117.20,349.60 L117.60,354.78 L118.00,359.68 L118.40,364.01 L118.70,366.70 L118.80,367.12 L119.20,368.79 L119.60,370.33 L120.00,371.68 L120.40,372.74 L120.70,373.30 L120.80,373.30 L121.20,373.29 L121.60,373.28 L122.00,373.27 L122.40,373.25 L122.80,373.23 L123.20,373.21 L123.40,373.20 L123.60,372.89 L124.00,371.94 L124.40,370.71 L124.80,369.43 L125.20,368.32 L125.60,367.60 L125.60,367.60 L126.00,368.36 L126.40,369.44 L126.80,370.77 L127.20,372.27 L127.60,373.88 L128.00,375.52 L128.40,377.13 L128.80,378.63 L129.20,379.96 L129.60,381.04 L130.00,381.80 L130.00,381.80 L130.40,381.29 L130.80,380.63 L131.20,379.84 L131.60,378.94 L132.00,377.95 L132.40,376.90 L132.80,375.81 L133.20,374.70 L133.60,373.59 L134.00,372.51 L134.40,371.49 L134.60,371.00 L134.80,370.50 L135.20,369.47 L135.60,368.40 L136.00,367.33 L136.40,366.27 L136.80,365.25 L137.20,364.28 L137.60,363.40 L137.90,362.80 L138.00,362.68 L138.40,362.22 L138.80,361.76 L139.20,361.31 L139.60,360.87 L140.00,360.44 L140.40,360.03 L140.80,359.64 L141.20,359.26 L141.60,358.91 L142.00,358.59 L142.40,358.29 L142.80,358.02 L143.20,357.79 L143.60,357.59 L143.80,357.50 L144.00,357.75 L144.40,358.40 L144.80,359.23 L145.20,360.20 L145.60,361.27 L146.00,362.39 L146.40,363.52 L146.80,364.62 L147.10,365.40 L147.20,365.68 L147.60,366.88 L148.00,368.19 L148.40,369.53 L148.80,370.81 L149.20,371.97 L149.60,372.93 L150.00,373.60 L150.00,373.60 L150.40,373.25 L150.80,372.77 L151.20,372.18 L151.60,371.52 L152.00,370.80 L152.40,370.05 L152.80,369.30 L153.20,368.56 L153.60,367.87 L154.00,367.24 L154.40,366.70 L154.40,366.70 L154.80,366.37 L155.20,366.05 L155.60,365.72 L156.00,365.41 L156.40,365.12 L156.80,364.84 L157.20,364.59 L157.60,364.38 L158.00,364.20 L158.30,364.10 L158.40,364.19 L158.80,364.68 L159.20,365.30 L159.60,366.05 L160.00,366.88 L160.40,367.77 L160.80,368.70 L161.20,369.63 L161.60,370.54 L162.00,371.40 L162.30,372.00 L162.40,372.18 L162.80,372.96 L163.20,373.77 L163.60,374.58 L164.00,375.32 L164.40,375.95 L164.80,376.42 L164.90,376.50 L165.20,375.99 L165.60,374.99 L166.00,373.75 L166.40,372.38 L166.80,371.02 L166.90,370.70 L167.20,369.49 L167.60,367.75 L168.00,365.90 L168.40,364.01 L168.80,362.11 L169.20,360.26 L169.60,358.52 L170.00,356.92 L170.20,356.20 L170.40,355.71 L170.80,354.72 L171.20,353.75 L171.60,352.84 L172.00,352.03 L172.40,351.37 L172.80,350.90 L172.80,350.90 L173.20,351.11 L173.60,351.39 L174.00,351.71 L174.40,352.09 L174.80,352.50 L175.20,352.94 L175.60,353.41 L176.00,353.90 L176.40,354.40 L176.80,354.90 L176.80,354.90 L177.20,355.80 L177.60,356.89 L178.00,358.09 L178.40,359.33 L178.80,360.54 L179.20,361.65 L179.60,362.58 L180.00,363.27 L180.10,363.40 L180.40,363.32 L180.80,363.18 L181.20,363.00 L181.60,362.79 L182.00,362.56 L182.40,362.30 L182.70,362.10 L182.80,361.95 L183.20,361.13 L183.60,360.17 L184.00,359.31 L184.30,358.90 L184.40,358.90 L184.80,358.90 L185.20,358.90 L185.60,358.90 L186.00,358.90 L186.40,358.90 L186.80,358.90 L187.20,358.90 L187.50,358.90 L187.60,359.05 L188.00,359.97 L188.40,361.22 L188.80,362.63 L189.20,364.01 L189.50,364.90 L189.60,365.12 L190.00,366.01 L190.40,366.91 L190.80,367.83 L191.20,368.74 L191.60,369.64 L192.00,370.52 L192.40,371.37 L192.80,372.20 L193.20,372.97 L193.60,373.70 L194.00,374.36 L194.40,374.96 L194.80,375.48 L195.20,375.92 L195.40,376.10 L195.60,375.87 L196.00,375.26 L196.40,374.47 L196.80,373.55 L197.20,372.54 L197.60,371.50 L198.00,370.46 L198.40,369.48 L198.70,368.80 L198.80,368.59 L199.20,367.71 L199.60,366.78 L200.00,365.83 L200.40,364.91 L200.80,364.05 L201.20,363.29 L201.60,362.66 L202.00,362.20 L202.00,362.20 L202.40,362.25 L202.80,362.30 L203.20,362.37 L203.60,362.46 L204.00,362.55 L204.40,362.65 L204.80,362.76 L205.20,362.87 L205.30,362.90 L205.60,363.30 L206.00,363.99 L206.40,364.83 L206.80,365.77 L207.20,366.79 L207.60,367.84 L208.00,368.88 L208.40,369.89 L208.80,370.83 L209.20,371.65 L209.60,372.32 L210.00,372.80 L210.00,372.80 L210.40,372.39 L210.80,371.79 L211.20,371.06 L211.60,370.25 L212.00,369.44 L212.40,368.68 L212.80,368.04 L213.20,367.58 L213.30,367.50 L213.60,367.56 L214.00,367.67 L214.40,367.80 L214.80,367.95 L215.20,368.12 L215.60,368.30 L216.00,368.50 L216.40,368.70 L216.60,368.80 L216.80,369.02 L217.20,369.56 L217.60,370.20 L218.00,370.90 L218.40,371.64 L218.80,372.37 L219.20,373.07 L219.60,373.70 L220.00,374.23 L220.40,374.63 L220.50,374.70 L220.80,374.42 L221.20,373.89 L221.60,373.21 L222.00,372.44 L222.40,371.61 L222.80,370.77 L223.20,369.97 L223.60,369.24 L224.00,368.63 L224.40,368.18 L224.50,368.10 L224.80,368.17 L225.20,368.31 L225.60,368.48 L226.00,368.67 L226.40,368.87 L226.80,369.07 L227.20,369.23 L227.60,369.36 L227.80,369.40 L228.00,369.05 L228.40,368.04 L228.80,366.70 L229.20,365.16 L229.60,363.54 L230.00,361.97 L230.40,360.57 L230.80,359.46 L231.10,358.90 L231.20,358.98 L231.60,359.46 L232.00,360.13 L232.40,360.90 L232.80,361.67 L233.20,362.34 L233.60,362.82 L233.70,362.90 L234.00,362.36 L234.40,361.31 L234.80,359.99 L235.20,358.48 L235.60,356.90 L236.00,355.35 L236.40,353.92 L236.80,352.72 L237.20,351.85 L237.30,351.70 L237.60,352.39 L238.00,353.74 L238.40,355.43 L238.80,357.32 L239.20,359.24 L239.60,361.06 L240.00,362.60 L240.30,363.50 L240.40,363.61 L240.80,364.02 L241.20,364.38 L241.60,364.71 L242.00,365.02 L242.40,365.31 L242.80,365.59 L243.20,365.89 L243.60,366.20 L243.60,366.20 L244.00,366.54 L244.40,366.90 L244.80,367.27 L245.20,367.64 L245.60,367.99 L246.00,368.30 L246.40,368.56 L246.80,368.76 L246.90,368.80 L247.20,368.55 L247.60,368.07 L248.00,367.45 L248.40,366.77 L248.80,366.06 L249.20,365.38 L249.60,364.80 L250.00,364.35 L250.20,364.20 L250.40,364.46 L250.80,365.18 L251.20,366.11 L251.60,367.20 L252.00,368.41 L252.40,369.68 L252.80,370.96 L253.20,372.21 L253.60,373.36 L254.00,374.38 L254.40,375.21 L254.80,375.80 L254.80,375.80 L255.20,375.31 L255.60,374.64 L256.00,373.82 L256.40,372.89 L256.80,371.89 L257.20,370.86 L257.50,370.10 L257.60,369.73 L258.00,368.01 L258.40,366.02 L258.80,363.89 L259.20,361.74 L259.60,359.70 L260.00,357.90 L260.40,356.46 L260.70,355.70 L260.80,355.78 L261.20,356.15 L261.60,356.64 L262.00,357.22 L262.40,357.88 L262.80,358.58 L263.20,359.32 L263.60,360.07 L264.00,360.81 L264.40,361.53 L264.50,361.70 L264.80,362.33 L265.20,363.24 L265.60,364.22 L266.00,365.24 L266.40,366.29 L266.80,367.35 L267.20,368.40 L267.60,369.41 L268.00,370.37 L268.40,371.25 L268.80,372.05 L269.20,372.73 L269.60,373.28 L269.80,373.50 L270.00,373.26 L270.40,372.65 L270.80,371.88 L271.20,370.98 L271.60,369.97 L272.00,368.88 L272.40,367.72 L272.80,366.51 L273.20,365.29 L273.60,364.08 L274.00,362.90 L274.40,361.76 L274.80,360.71 L275.20,359.75 L275.60,358.91 L276.00,358.22 L276.40,357.70 L276.40,357.70 L276.80,358.12 L277.20,358.71 L277.60,359.42 L278.00,360.23 L278.40,361.12 L278.80,362.06 L279.20,363.01 L279.60,363.95 L280.00,364.85 L280.40,365.69 L280.80,366.43 L281.20,367.04 L281.60,367.51 L281.70,367.60 L282.00,367.41 L282.40,367.09 L282.80,366.69 L283.20,366.23 L283.60,365.73 L284.00,365.19 L284.40,364.64 L284.80,364.08 L285.20,363.53 L285.60,363.00 L285.60,363.00 L286.00,362.38 L286.40,361.70 L286.80,360.97 L287.20,360.22 L287.60,359.45 L288.00,358.68 L288.40,357.93 L288.80,357.20 L289.20,356.51 L289.60,355.88 L290.00,355.33 L290.40,354.85 L290.80,354.48 L290.90,354.40 L291.20,354.75 L291.60,355.40 L292.00,356.22 L292.40,357.15 L292.80,358.16 L293.20,359.20 L293.60,360.24 L294.00,361.22 L294.40,362.10 L294.80,362.84 L294.90,363.00 L295.20,363.26 L295.60,363.59 L296.00,363.92 L296.40,364.24 L296.80,364.54 L297.20,364.81 L297.60,365.06 L298.00,365.28 L298.40,365.46 L298.80,365.60 L298.80,365.60 L299.20,365.45 L299.60,365.22 L300.00,364.94 L300.40,364.64 L300.80,364.33 L301.20,364.05 L301.60,363.80 L302.00,363.63 L302.10,363.60 L302.40,363.83 L302.80,364.25 L303.20,364.80 L303.60,365.42 L304.00,366.08 L304.40,366.75 L304.80,367.40 L305.20,367.99 L305.60,368.48 L306.00,368.84 L306.10,368.90 L306.40,368.55 L306.80,367.89 L307.20,367.06 L307.60,366.10 L308.00,365.08 L308.40,364.05 L308.80,363.07 L309.20,362.20 L309.60,361.49 L310.00,361.00 L310.00,361.00 L310.40,361.37 L310.80,361.89 L311.20,362.53 L311.60,363.26 L312.00,364.05 L312.40,364.85 L312.80,365.65 L313.20,366.41 L313.60,367.10 L314.00,367.68 L314.40,368.14 L314.60,368.30 L314.80,368.02 L315.20,367.23 L315.60,366.20 L316.00,364.99 L316.40,363.67 L316.80,362.33 L317.20,361.01 L317.60,359.80 L318.00,358.77 L318.40,357.98 L318.60,357.70 L318.80,357.92 L319.20,358.49 L319.60,359.23 L320.00,360.09 L320.40,361.06 L320.80,362.10 L321.20,363.17 L321.60,364.24 L322.00,365.29 L322.40,366.27 L322.80,367.17 L323.20,367.94 L323.60,368.56 L323.90,368.90 L324.00,368.82 L324.40,368.42 L324.80,367.89 L325.20,367.24 L325.60,366.49 L326.00,365.66 L326.30,365.00" stroke="#ff1414"/>
<path d="M40.00,374.60 L40.40,373.72 L40.80,372.85 L41.20,372.00 L41.60,371.16 L42.00,370.33 L42.40,369.53 L42.80,368.74 L43.20,367.98 L43.60,367.24 L43.90,366.70 L44.00,366.56 L44.40,365.98 L44.80,365.38 L45.20,364.79 L45.60,364.19 L46.00,363.61 L46.40,363.04 L46.80,362.49 L47.20,361.98 L47.60,361.50 L48.00,361.07 L48.40,360.68 L48.80,360.36 L49.20,360.10 L49.20,360.10 L49.60,360.94 L50.00,362.12 L50.40,363.57 L50.80,365.21 L51.20,366.98 L51.60,368.81 L52.00,370.61 L52.40,372.33 L52.80,373.89 L53.20,375.21 L53.60,376.23 L53.80,376.60 L54.00,376.47 L54.40,376.13 L54.80,375.68 L55.20,375.16 L55.60,374.60 L56.00,374.03 L56.40,373.47 L56.80,372.95 L57.10,372.60 L57.20,372.51 L57.60,372.15 L58.00,371.77 L58.40,371.40 L58.80,371.04 L59.20,370.71 L59.60,370.42 L60.00,370.18 L60.40,370.00 L60.40,370.00 L60.80,370.17 L61.20,370.40 L61.60,370.69 L62.00,371.02 L62.40,371.38 L62.80,371.74 L63.20,372.10 L63.60,372.45 L64.00,372.76 L64.40,373.02 L64.80,373.23 L65.00,373.30 L65.20,373.20 L65.60,372.95 L66.00,372.63 L66.40,372.26 L66.80,371.85 L67.20,371.41 L67.60,370.95 L68.00,370.47 L68.40,369.99 L68.80,369.53 L69.00,369.30 L69.20,369.01 L69.60,368.38 L70.00,367.69 L70.40,366.96 L70.80,366.20 L71.20,365.45 L71.60,364.72 L72.00,364.02 L72.40,363.38 L72.80,362.82 L73.20,362.35 L73.60,362.00 L73.60,362.00 L74.00,362.74 L74.40,363.79 L74.80,365.07 L75.20,366.52 L75.60,368.09 L76.00,369.70 L76.40,371.30 L76.80,372.82 L77.20,374.20 L77.60,375.37 L78.00,376.27 L78.20,376.60 L78.40,376.46 L78.80,376.04 L79.20,375.49 L79.60,374.87 L80.00,374.27 L80.40,373.74 L80.80,373.36 L80.90,373.30 L81.20,373.44 L81.60,373.71 L82.00,374.06 L82.40,374.45 L82.80,374.85 L83.20,375.23 L83.60,375.56 L84.00,375.81 L84.20,375.90 L84.40,375.68 L84.80,375.04 L85.20,374.20 L85.60,373.23 L86.00,372.22 L86.40,371.23 L86.80,370.35 L87.20,369.65 L87.50,369.30 L87.60,369.34 L88.00,369.58 L88.40,369.90 L88.80,370.29 L89.20,370.70 L89.60,371.11 L90.00,371.47 L90.40,371.75 L90.70,371.90 L90.80,371.84 L91.20,371.48 L91.60,371.00 L92.00,370.43 L92.40,369.79 L92.80,369.13 L93.20,368.48 L93.60,367.87 L94.00,367.34 L94.40,366.92 L94.70,366.70 L94.80,366.76 L95.20,367.16 L95.60,367.72 L96.00,368.35 L96.40,368.98 L96.80,369.54 L97.20,369.94 L97.30,370.00 L97.60,369.64 L98.00,368.90 L98.40,367.97 L98.80,366.98 L99.20,366.02 L99.60,365.23 L100.00,364.70 L100.00,364.70 L100.40,370.96 L100.80,380.36 L101.20,390.76 L101.60,400.00 L101.60,400.00 L102.00,407.01 L102.40,414.19 L102.80,420.89 L103.20,426.48 L103.60,430.30 L103.60,430.30 L104.00,426.58 L104.40,421.19 L104.80,414.63 L105.20,407.41 L105.60,400.00 L105.60,400.00 L106.00,388.21 L106.40,374.72 L106.80,360.46 L107.20,346.34 L107.50,336.40 L107.60,333.37 L108.00,320.42 L108.40,310.00 L108.50,308.40 L108.80,308.14 L109.20,307.90 L109.60,307.67 L109.80,307.50 L110.00,306.65 L110.40,304.41 L110.80,301.64 L111.20,298.57 L111.60,295.41 L112.00,292.39 L112.20,291.00 L112.40,289.70 L112.80,286.92 L113.20,284.03 L113.60,281.16 L114.00,278.45 L114.40,276.02 L114.80,274.03 L115.20,272.60 L115.20,272.60 L115.60,275.94 L116.00,280.81 L116.40,286.65 L116.80,292.86 L117.20,298.86 L117.40,301.60 L117.60,304.16 L118.00,309.15 L118.40,314.10 L118.80,319.17 L119.20,324.49 L119.40,327.30 L119.60,330.78 L120.00,338.08 L120.40,345.86 L120.70,352.00 L120.80,354.57 L121.20,365.87 L121.60,377.95 L122.00,389.70 L122.40,400.00 L122.40,400.00 L122.80,406.33 L123.20,412.06 L123.60,417.40 L123.80,420.00 L124.00,422.26 L124.40,426.97 L124.80,431.54 L125.20,435.51 L125.60,438.40 L125.70,438.90 L126.00,438.28 L126.40,437.06 L126.80,435.54 L127.20,433.91 L127.60,432.34 L128.00,431.00 L128.00,431.00 L128.40,430.18 L128.80,429.47 L129.20,428.79 L129.60,428.10 L130.00,427.32 L130.40,426.40 L130.40,426.40 L130.80,424.00 L131.20,421.17 L131.60,417.99 L132.00,414.55 L132.40,410.94 L132.80,407.26 L133.20,403.58 L133.60,400.00 L133.60,400.00 L134.00,395.93 L134.40,391.56 L134.80,387.13 L135.20,382.89 L135.60,379.06 L135.90,376.60 L136.00,376.17 L136.40,374.53 L136.80,373.04 L137.20,371.67 L137.60,370.38 L138.00,369.15 L138.40,367.94 L138.80,366.72 L139.20,365.48 L139.50,364.50 L139.60,364.17 L140.00,362.88 L140.40,361.61 L140.80,360.35 L141.20,359.10 L141.60,357.85 L142.00,356.59 L142.40,355.33 L142.80,354.05 L143.20,352.75 L143.60,351.42 L144.00,350.06 L144.40,348.66 L144.50,348.30 L144.80,346.97 L145.20,345.04 L145.60,343.02 L146.00,341.01 L146.40,339.11 L146.80,337.44 L147.10,336.40 L147.20,336.24 L147.60,335.66 L148.00,335.14 L148.40,334.67 L148.80,334.23 L149.20,333.79 L149.60,333.34 L149.80,333.10 L150.00,332.85 L150.40,332.31 L150.80,331.75 L151.20,331.20 L151.60,330.70 L152.00,330.29 L152.40,330.00 L152.40,330.00 L152.80,332.46 L153.20,336.00 L153.60,340.28 L154.00,344.96 L154.40,349.70 L154.80,354.17 L155.00,356.20 L155.20,358.01 L155.60,361.58 L156.00,365.11 L156.40,368.59 L156.80,372.05 L157.20,375.50 L157.60,378.94 L157.70,379.80 L158.00,382.40 L158.40,385.99 L158.80,389.53 L159.20,392.80 L159.60,395.60 L159.60,395.60 L160.00,397.14 L160.40,398.62 L160.80,400.00 L161.20,401.21 L161.60,402.19 L162.00,402.90 L162.00,402.90 L162.40,402.70 L162.80,402.42 L163.20,402.07 L163.60,401.68 L164.00,401.24 L164.30,400.90 L164.40,400.62 L164.80,399.31 L165.20,397.78 L165.60,396.06 L166.00,394.21 L166.40,392.26 L166.80,390.28 L167.20,388.31 L167.60,386.40 L167.60,386.40 L168.00,384.16 L168.40,381.67 L168.80,379.11 L169.20,376.66 L169.60,374.50 L170.00,372.81 L170.20,372.20 L170.40,372.16 L170.80,372.08 L171.20,372.02 L171.60,371.98 L172.00,371.93 L172.40,371.89 L172.80,371.83 L173.20,371.76 L173.50,371.70 L173.60,371.54 L174.00,370.75 L174.40,369.73 L174.80,368.54 L175.20,367.22 L175.60,365.81 L176.00,364.36 L176.10,364.00 L176.40,362.25 L176.80,359.54 L177.20,356.62 L177.60,353.74 L178.00,351.13 L178.20,350.00 L178.40,349.30 L178.80,348.00 L179.20,346.79 L179.60,345.65 L180.00,344.57 L180.40,343.52 L180.60,343.00 L180.80,342.56 L181.20,341.67 L181.60,340.75 L182.00,339.85 L182.40,338.99 L182.80,338.20 L183.20,337.50 L183.60,336.93 L184.00,336.50 L184.00,336.50 L184.40,337.13 L184.80,337.95 L185.20,338.92 L185.60,340.03 L186.00,341.25 L186.40,342.57 L186.80,343.95 L187.20,345.38 L187.60,346.83 L188.00,348.28 L188.20,349.00 L188.40,350.03 L188.80,352.25 L189.20,354.63 L189.60,357.14 L190.00,359.72 L190.40,362.34 L190.80,364.93 L191.20,367.47 L191.50,369.30 L191.60,369.88 L192.00,372.29 L192.40,374.79 L192.80,377.25 L193.20,379.59 L193.60,381.68 L194.00,383.43 L194.10,383.80 L194.40,384.26 L194.80,384.85 L195.20,385.39 L195.60,385.88 L196.00,386.30 L196.40,386.65 L196.80,386.90 L196.80,386.90 L197.20,386.84 L197.60,386.75 L198.00,386.66 L198.40,386.60 L198.40,386.60 L198.80,387.53 L199.20,388.95 L199.60,390.61 L200.00,392.23 L200.40,393.56 L200.70,394.20 L200.80,394.20 L201.20,394.20 L201.60,394.20 L202.00,394.20 L202.40,394.20 L202.80,394.20 L203.20,394.20 L203.40,394.20 L203.60,393.94 L204.00,393.26 L204.40,392.39 L204.80,391.38 L205.20,390.26 L205.60,389.05 L206.00,387.80 L206.40,386.54 L206.70,385.60 L206.80,385.18 L207.20,383.34 L207.60,381.33 L208.00,379.28 L208.40,377.31 L208.60,376.40 L208.80,375.62 L209.20,374.08 L209.60,372.80 L209.60,372.80 L210.00,372.23 L210.40,371.72 L210.80,371.26 L211.20,370.84 L211.60,370.45 L212.00,370.07 L212.40,369.69 L212.80,369.31 L213.20,368.90 L213.30,368.80 L213.60,368.50 L214.00,368.13 L214.40,367.78 L214.80,367.43 L215.20,367.06 L215.60,366.67 L216.00,366.24 L216.40,365.76 L216.60,365.50 L216.80,364.88 L217.20,363.42 L217.60,361.71 L218.00,359.85 L218.40,357.94 L218.80,356.06 L219.20,354.30 L219.20,354.30 L219.60,352.65 L220.00,350.90 L220.40,349.11 L220.80,347.35 L221.20,345.69 L221.60,344.19 L222.00,342.94 L222.40,341.98 L222.50,341.80 L222.80,342.23 L223.20,343.01 L223.60,343.98 L224.00,345.09 L224.40,346.29 L224.80,347.51 L225.20,348.70 L225.60,349.80 L225.80,350.30 L226.00,350.73 L226.40,351.55 L226.80,352.35 L227.20,353.13 L227.60,353.92 L228.00,354.74 L228.40,355.60 L228.40,355.60 L228.80,356.71 L229.20,357.96 L229.60,359.29 L230.00,360.62 L230.40,361.90 L230.80,363.06 L231.20,364.03 L231.60,364.76 L231.70,364.90 L232.00,364.67 L232.40,364.25 L232.80,363.70 L233.20,363.08 L233.60,362.42 L234.00,361.75 L234.40,361.10 L234.80,360.51 L235.20,360.02 L235.60,359.66 L235.70,359.60 L236.00,360.14 L236.40,361.17 L236.80,362.46 L237.20,363.92 L237.60,365.46 L238.00,366.98 L238.40,368.39 L238.80,369.60 L239.00,370.10 L239.20,370.36 L239.60,370.88 L240.00,371.38 L240.40,371.87 L240.80,372.34 L241.20,372.79 L241.60,373.20 L242.00,373.59 L242.40,373.93 L242.80,374.24 L243.20,374.49 L243.60,374.70 L243.60,374.70 L244.00,374.51 L244.40,374.23 L244.80,373.89 L245.20,373.50 L245.60,373.10 L246.00,372.70 L246.40,372.31 L246.80,371.97 L247.20,371.69 L247.60,371.50 L247.60,371.50 L248.00,371.56 L248.40,371.65 L248.80,371.76 L249.20,371.88 L249.60,372.00 L250.00,372.10 L250.40,372.17 L250.60,372.20 L250.80,371.86 L251.20,370.81 L251.60,369.44 L252.00,367.96 L252.40,366.59 L252.80,365.54 L253.00,365.20 L253.20,365.49 L253.60,366.32 L254.00,367.42 L254.40,368.69 L254.80,370.05 L255.20,371.41 L255.60,372.68 L256.00,373.78 L256.40,374.61 L256.60,374.90 L256.80,374.59 L257.20,373.73 L257.60,372.61 L258.00,371.30 L258.40,369.86 L258.80,368.34 L259.20,366.80 L259.60,365.31 L260.00,363.92 L260.40,362.70 L260.80,361.71 L261.20,361.00 L261.20,361.00 L261.60,361.10 L262.00,361.25 L262.40,361.43 L262.80,361.62 L263.20,361.82 L263.60,362.01 L264.00,362.17 L264.40,362.28 L264.50,362.30 L264.80,362.09 L265.20,361.68 L265.60,361.16 L266.00,360.58 L266.40,359.98 L266.80,359.40 L267.20,358.91 L267.60,358.53 L267.80,358.40 L268.00,358.62 L268.40,359.21 L268.80,359.97 L269.20,360.85 L269.60,361.83 L270.00,362.85 L270.40,363.87 L270.80,364.86 L271.20,365.77 L271.60,366.56 L271.80,366.90 L272.00,367.10 L272.40,367.49 L272.80,367.87 L273.20,368.25 L273.60,368.62 L274.00,368.97 L274.40,369.31 L274.80,369.63 L275.20,369.93 L275.60,370.20 L276.00,370.44 L276.40,370.65 L276.80,370.83 L277.00,370.90 L277.20,370.72 L277.60,370.21 L278.00,369.54 L278.40,368.76 L278.80,367.94 L279.20,367.15 L279.60,366.44 L280.00,365.88 L280.30,365.60 L280.40,365.67 L280.80,366.08 L281.20,366.63 L281.60,367.30 L282.00,368.03 L282.40,368.79 L282.80,369.54 L283.20,370.25 L283.60,370.86 L284.00,371.34 L284.30,371.60 L284.40,371.40 L284.80,370.31 L285.20,368.82 L285.60,367.05 L286.00,365.07 L286.40,363.00 L286.80,360.93 L287.20,358.95 L287.60,357.18 L288.00,355.69 L288.40,354.60 L288.50,354.40 L288.80,354.92 L289.20,355.93 L289.60,357.21 L290.00,358.66 L290.40,360.19 L290.80,361.71 L291.20,363.13 L291.60,364.35 L292.00,365.28 L292.20,365.60 L292.40,365.49 L292.80,365.18 L293.20,364.80 L293.60,364.34 L294.00,363.83 L294.40,363.28 L294.80,362.72 L295.20,362.16 L295.60,361.60 L296.00,361.08 L296.40,360.61 L296.80,360.21 L297.20,359.88 L297.50,359.70 L297.60,359.79 L298.00,360.24 L298.40,360.83 L298.80,361.53 L299.20,362.31 L299.60,363.15 L300.00,364.02 L300.40,364.88 L300.80,365.71 L301.20,366.48 L301.50,367.00 L301.60,367.14 L302.00,367.71 L302.40,368.30 L302.80,368.89 L303.20,369.49 L303.60,370.07 L304.00,370.65 L304.40,371.19 L304.80,371.71 L305.20,372.19 L305.60,372.62 L306.00,373.00 L306.40,373.31 L306.70,373.50 L306.80,373.46 L307.20,373.23 L307.60,372.91 L308.00,372.55 L308.40,372.17 L308.80,371.84 L309.20,371.58 L309.40,371.50 L309.60,371.65 L310.00,372.11 L310.40,372.71 L310.80,373.37 L311.20,374.01 L311.60,374.55 L312.00,374.90 L312.00,374.90 L312.40,374.39 L312.80,373.64 L313.20,372.73 L313.60,371.73 L314.00,370.72 L314.40,369.77 L314.80,368.97 L315.20,368.40 L315.30,368.30 L315.60,368.58 L316.00,369.11 L316.40,369.79 L316.80,370.56 L317.20,371.39 L317.60,372.23 L318.00,373.03 L318.40,373.76 L318.80,374.37 L319.20,374.82 L319.30,374.90 L319.60,374.71 L320.00,374.31 L320.40,373.83 L320.80,373.38 L321.20,373.05 L321.30,373.00 L321.60,373.21 L322.00,373.65 L322.40,374.18 L322.80,374.73 L323.20,375.19 L323.60,375.50 L323.60,375.50 L324.00,374.86 L324.40,374.00 L324.80,372.94 L325.20,371.71 L325.60,370.32 L326.00,368.81 L326.30,367.60" stroke="#1a1aff"/>
</g>
<g font-size="10.8" fill="#000" text-anchor="end">
<text x="35.6" y="264.4">1.5</text>
<text x="35.6" y="299.5">1.0</text>
<text x="35.6" y="334.7">0.5</text>
<text x="35.6" y="369.9">0.0</text>
<text x="35.6" y="405.0">-0.5</text>
<text x="35.6" y="440.1">-1.0</text>
<text x="35.6" y="475.3">-1.5</text>
</g>
<g font-size="12" fill="#111" text-anchor="middle">
<text x="39.9" y="485.5">0</text>
<text x="111.6" y="485.5">2.5</text>
<text x="183.2" y="485.5">5</text>
<text x="254.9" y="485.5">7.5</text>
<text x="326.5" y="485.5">10</text>
</g>
<text x="8.4" y="266.1" font-size="11" fill="#000">(c)</text>
<text transform="translate(12.4,413.2) rotate(-90)" font-size="16.5" font-weight="bold" fill="#000" textLength="40.2" lengthAdjust="spacingAndGlyphs">Stress</text>
<text transform="translate(10.9,365.2) rotate(-90)" font-size="10" fill="#000" textLength="26.4" lengthAdjust="spacingAndGlyphs">(MPa)</text>
<text x="142.4" y="498.5" font-size="16.2" font-weight="bold" fill="#000" textLength="31.4" lengthAdjust="spacingAndGlyphs">Time</text>
<text x="183.3" y="496.7" font-size="10" fill="#000" textLength="18.7" lengthAdjust="spacingAndGlyphs">(ms)</text>
<path d="M178.6,279.6h24.1" stroke="#222" stroke-width="1.3"/>
<text x="208.0" y="283.7" font-size="9.7" fill="#000" textLength="79.6" lengthAdjust="spacingAndGlyphs">First Test-Channel 4</text>
<path d="M178.6,292.2h24.1" stroke="#ff1414" stroke-width="1.3"/>
<text x="208.0" y="296.3" font-size="9.7" fill="#000" textLength="90.0" lengthAdjust="spacingAndGlyphs">Second Test-Channel 4</text>
<path d="M178.6,304.8h24.1" stroke="#2a2aff" stroke-width="1.3"/>
<text x="208.0" y="308.9" font-size="9.7" fill="#000" textLength="83.3" lengthAdjust="spacingAndGlyphs">Third Test-Channel 4</text>
</g>
<g id="panel-d">
<rect x="391.5" y="261.4" width="286.30" height="210.90" fill="none" stroke="#1c1c1c" stroke-width="1.05"/>
<path d="M391.5,289.52h4 M391.5,317.64h4 M391.5,345.76h4 M391.5,373.88h4 M391.5,402.00h4 M391.5,430.12h4 M391.5,458.24h4 M391.5,275.46h2.5 M391.5,303.58h2.5 M391.5,331.70h2.5 M391.5,359.82h2.5 M391.5,387.94h2.5 M391.5,416.06h2.5 M391.5,444.18h2.5 M463.07,472.3v-4 M534.65,472.3v-4 M606.22,472.3v-4 M427.29,472.3v-2.5 M498.86,472.3v-2.5 M570.44,472.3v-2.5 M642.01,472.3v-2.5" stroke="#1c1c1c" stroke-width="1" fill="none"/>
<clipPath id="clipd"><rect x="391.5" y="261.4" width="286.29999999999995" height="210.90000000000003"/></clipPath>
<g clip-path="url(#clipd)" fill="none" stroke-width="1.28" stroke-linejoin="round" stroke-linecap="round">
<path d="M391.30,374.30 L391.70,374.24 L392.10,374.18 L392.50,374.13 L392.90,374.08 L393.30,374.03 L393.70,373.99 L394.10,373.95 L394.50,373.91 L394.90,373.87 L395.30,373.83 L395.70,373.80 L396.10,373.77 L396.50,373.75 L396.90,373.72 L397.30,373.70 L397.70,373.68 L398.10,373.66 L398.50,373.65 L398.90,373.63 L399.30,373.62 L399.70,373.61 L400.10,373.61 L400.50,373.60 L400.90,373.60 L401.20,373.60 L401.30,373.60 L401.70,373.61 L402.10,373.62 L402.50,373.64 L402.90,373.67 L403.30,373.70 L403.70,373.74 L404.10,373.79 L404.50,373.83 L404.90,373.89 L405.30,373.94 L405.70,373.99 L406.10,374.05 L406.50,374.11 L406.90,374.16 L407.30,374.22 L407.70,374.28 L408.10,374.33 L408.50,374.38 L408.90,374.42 L409.30,374.47 L409.70,374.50 L410.10,374.54 L410.50,374.56 L410.90,374.58 L411.30,374.60 L411.70,374.60 L411.70,374.60 L412.10,374.60 L412.50,374.58 L412.90,374.56 L413.30,374.54 L413.70,374.51 L414.10,374.47 L414.50,374.43 L414.90,374.38 L415.30,374.33 L415.70,374.28 L416.10,374.23 L416.50,374.17 L416.90,374.11 L417.30,374.06 L417.70,374.00 L418.10,373.95 L418.50,373.89 L418.90,373.84 L419.30,373.79 L419.70,373.75 L420.10,373.71 L420.50,373.68 L420.90,373.65 L421.30,373.63 L421.70,373.61 L422.10,373.60 L422.30,373.60 L422.50,373.60 L422.90,373.61 L423.30,373.64 L423.70,373.67 L424.10,373.71 L424.50,373.76 L424.90,373.81 L425.30,373.87 L425.70,373.94 L426.10,374.01 L426.50,374.09 L426.90,374.16 L427.30,374.24 L427.70,374.32 L428.10,374.40 L428.50,374.48 L428.90,374.55 L429.30,374.63 L429.70,374.69 L430.10,374.76 L430.50,374.82 L430.90,374.87 L431.30,374.91 L431.70,374.95 L432.10,374.98 L432.50,374.99 L432.90,375.00 L432.90,375.00 L433.30,375.00 L433.70,374.99 L434.10,374.97 L434.50,374.95 L434.90,374.93 L435.30,374.90 L435.70,374.86 L436.10,374.83 L436.50,374.79 L436.90,374.74 L437.30,374.70 L437.70,374.65 L438.10,374.60 L438.50,374.55 L438.90,374.50 L439.30,374.45 L439.70,374.40 L440.10,374.35 L440.50,374.30 L440.90,374.25 L441.30,374.20 L441.70,374.16 L442.10,374.11 L442.50,374.08 L442.90,374.04 L443.30,374.01 L443.40,374.00 L443.70,373.98 L444.10,373.96 L444.50,373.94 L444.90,373.92 L445.30,373.90 L445.70,373.89 L446.10,373.88 L446.50,373.86 L446.90,373.85 L447.30,373.83 L447.70,373.81 L448.10,373.79 L448.50,373.76 L448.90,373.73 L449.30,373.69 L449.70,373.64 L450.00,373.60 L450.10,373.56 L450.50,373.07 L450.90,372.27 L451.30,371.48 L451.70,371.02 L451.80,371.00 L452.10,371.88 L452.50,375.15 L452.90,379.64 L453.30,384.06 L453.40,385.00 L453.70,388.03 L454.10,392.75 L454.50,397.56 L454.90,401.73 L455.30,404.49 L455.60,405.20 L455.70,405.03 L456.10,401.47 L456.50,394.47 L456.90,385.67 L457.30,376.68 L457.70,369.13 L457.90,366.40 L458.10,364.06 L458.50,359.26 L458.90,354.94 L459.30,351.81 L459.70,350.60 L459.70,350.60 L460.10,350.80 L460.50,351.33 L460.90,352.05 L461.30,352.85 L461.70,353.61 L462.10,354.19 L462.50,354.49 L462.60,354.50 L462.90,354.37 L463.30,353.87 L463.70,353.10 L464.10,352.20 L464.50,351.30 L464.90,350.53 L465.30,350.03 L465.60,349.90 L465.70,349.94 L466.10,350.91 L466.50,352.90 L466.90,355.63 L467.30,358.76 L467.70,362.01 L468.10,365.05 L468.30,366.40 L468.50,367.66 L468.90,370.17 L469.30,372.72 L469.70,375.40 L470.10,378.30 L470.10,378.30 L470.50,382.25 L470.90,386.88 L471.30,390.49 L471.60,391.50 L471.70,391.46 L472.10,390.65 L472.50,389.04 L472.90,386.95 L473.30,384.70 L473.70,382.65 L473.80,382.20 L474.10,380.75 L474.50,378.51 L474.90,376.22 L475.30,374.25 L475.70,372.94 L476.00,372.60 L476.10,372.62 L476.50,372.96 L476.90,373.67 L477.30,374.64 L477.70,375.77 L478.10,376.94 L478.50,378.05 L478.60,378.30 L478.90,379.12 L479.30,380.34 L479.70,381.50 L480.00,382.20 L480.10,382.40 L480.50,383.20 L480.90,384.01 L481.30,384.80 L481.70,385.55 L482.10,386.26 L482.50,386.91 L482.90,387.48 L483.30,387.96 L483.70,388.33 L484.10,388.58 L484.50,388.70 L484.60,388.70 L484.90,388.61 L485.30,388.21 L485.70,387.54 L486.10,386.61 L486.50,385.47 L486.90,384.15 L487.30,382.67 L487.70,381.08 L488.10,379.40 L488.50,377.66 L488.90,375.90 L489.30,374.14 L489.70,372.43 L489.90,371.60 L490.10,370.65 L490.50,368.29 L490.90,366.09 L491.20,365.10 L491.30,364.92 L491.70,364.22 L492.10,363.59 L492.50,363.03 L492.90,362.55 L493.30,362.14 L493.70,361.82 L494.10,361.59 L494.50,361.45 L494.90,361.40 L494.90,361.40 L495.30,361.49 L495.70,361.74 L496.10,362.14 L496.50,362.64 L496.90,363.23 L497.30,363.89 L497.70,364.58 L498.10,365.28 L498.40,365.80 L498.50,365.98 L498.90,366.87 L499.30,367.96 L499.70,369.19 L500.10,370.46 L500.50,371.70 L500.90,372.82 L501.30,373.75 L501.70,374.40 L501.70,374.40 L502.10,374.88 L502.50,375.34 L502.90,375.77 L503.30,376.15 L503.70,376.48 L504.10,376.74 L504.50,376.92 L504.90,377.00 L505.00,377.00 L505.30,376.99 L505.70,376.96 L506.10,376.90 L506.50,376.82 L506.90,376.72 L507.30,376.61 L507.70,376.47 L508.10,376.33 L508.50,376.17 L508.90,376.01 L509.30,375.83 L509.60,375.70 L509.70,375.65 L510.10,375.36 L510.50,374.94 L510.90,374.44 L511.30,373.90 L511.70,373.34 L512.10,372.81 L512.50,372.34 L512.90,371.98 L513.30,371.75 L513.60,371.70 L513.70,371.70 L514.10,371.78 L514.50,371.94 L514.90,372.15 L515.30,372.38 L515.70,372.61 L516.10,372.81 L516.50,372.95 L516.90,373.00 L516.90,373.00 L517.30,372.91 L517.70,372.67 L518.10,372.30 L518.50,371.82 L518.90,371.28 L519.30,370.68 L519.70,370.07 L520.10,369.46 L520.50,368.89 L520.90,368.38 L521.30,367.97 L521.50,367.80 L521.70,367.65 L522.10,367.34 L522.50,367.03 L522.90,366.73 L523.30,366.42 L523.70,366.13 L524.10,365.85 L524.50,365.59 L524.90,365.34 L525.30,365.12 L525.70,364.93 L526.10,364.77 L526.50,364.64 L526.90,364.55 L527.30,364.51 L527.50,364.50 L527.70,364.56 L528.10,365.00 L528.50,365.77 L528.90,366.78 L529.30,367.93 L529.70,369.11 L530.10,370.22 L530.50,371.17 L530.80,371.70 L530.90,371.85 L531.30,372.40 L531.70,372.92 L532.10,373.41 L532.50,373.86 L532.90,374.29 L533.30,374.70 L533.70,375.09 L534.10,375.47 L534.50,375.84 L534.90,376.21 L535.00,376.30 L535.30,376.59 L535.70,377.00 L536.10,377.41 L536.50,377.81 L536.90,378.18 L537.30,378.49 L537.70,378.73 L538.10,378.88 L538.20,378.90 L538.50,378.95 L538.90,379.01 L539.30,379.06 L539.70,379.11 L540.10,379.16 L540.50,379.19 L540.90,379.23 L541.30,379.25 L541.70,379.28 L542.10,379.29 L542.50,379.30 L542.80,379.30 L542.90,379.29 L543.30,379.17 L543.70,378.90 L544.10,378.51 L544.50,378.03 L544.90,377.49 L545.30,376.93 L545.70,376.35 L546.10,375.81 L546.50,375.32 L546.80,375.00 L546.90,374.90 L547.30,374.51 L547.70,374.12 L548.10,373.73 L548.50,373.34 L548.90,372.96 L549.30,372.59 L549.70,372.24 L550.10,371.90 L550.50,371.59 L550.90,371.31 L551.30,371.06 L551.40,371.00 L551.70,370.83 L552.10,370.60 L552.50,370.36 L552.90,370.13 L553.30,369.91 L553.70,369.70 L554.10,369.50 L554.50,369.32 L554.90,369.16 L555.30,369.03 L555.70,368.92 L556.10,368.84 L556.50,368.81 L556.70,368.80 L556.90,368.81 L557.30,368.84 L557.70,368.92 L558.10,369.03 L558.50,369.17 L558.90,369.33 L559.30,369.51 L559.70,369.72 L560.10,369.93 L560.50,370.16 L560.90,370.40 L561.30,370.64 L561.70,370.88 L561.90,371.00 L562.10,371.13 L562.50,371.44 L562.90,371.80 L563.30,372.22 L563.70,372.66 L564.10,373.14 L564.50,373.62 L564.90,374.10 L565.30,374.58 L565.70,375.03 L566.10,375.44 L566.50,375.81 L566.90,376.11 L567.20,376.30 L567.30,376.35 L567.70,376.58 L568.10,376.80 L568.50,377.01 L568.90,377.20 L569.30,377.36 L569.70,377.49 L570.10,377.57 L570.50,377.60 L570.50,377.60 L570.90,377.57 L571.30,377.50 L571.70,377.38 L572.10,377.23 L572.50,377.05 L572.90,376.84 L573.30,376.62 L573.70,376.39 L574.10,376.15 L574.50,375.92 L574.90,375.70 L575.10,375.60 L575.30,375.49 L575.70,375.24 L576.10,374.96 L576.50,374.64 L576.90,374.32 L577.30,373.98 L577.70,373.65 L578.10,373.34 L578.50,373.05 L578.90,372.79 L579.30,372.58 L579.70,372.42 L580.10,372.32 L580.40,372.30 L580.50,372.30 L580.90,372.30 L581.30,372.30 L581.70,372.30 L582.10,372.30 L582.50,372.30 L582.90,372.30 L583.30,372.30 L583.70,372.30 L584.10,372.30 L584.40,372.30 L584.50,372.30 L584.90,372.39 L585.30,372.57 L585.70,372.82 L586.10,373.11 L586.50,373.42 L586.90,373.71 L587.30,373.97 L587.70,374.17 L588.10,374.28 L588.30,374.30 L588.50,374.29 L588.90,374.26 L589.30,374.19 L589.70,374.10 L590.10,374.00 L590.50,373.90 L590.90,373.80 L591.30,373.71 L591.70,373.64 L592.10,373.61 L592.30,373.60 L592.50,373.61 L592.90,373.66 L593.30,373.76 L593.70,373.90 L594.10,374.06 L594.50,374.25 L594.90,374.44 L595.30,374.63 L595.70,374.81 L596.10,374.96 L596.20,375.00 L596.50,375.11 L596.90,375.28 L597.30,375.45 L597.70,375.63 L598.10,375.79 L598.50,375.93 L598.90,376.03 L599.30,376.09 L599.50,376.10 L599.70,376.09 L600.10,376.00 L600.50,375.83 L600.90,375.60 L601.30,375.32 L601.70,375.00 L602.10,374.66 L602.50,374.31 L602.90,373.96 L603.30,373.62 L603.70,373.32 L604.10,373.06 L604.20,373.00 L604.50,372.83 L604.90,372.60 L605.30,372.35 L605.70,372.11 L606.10,371.87 L606.50,371.63 L606.90,371.40 L607.30,371.19 L607.70,371.00 L608.10,370.83 L608.50,370.69 L608.90,370.59 L609.30,370.52 L609.50,370.50 L609.70,370.49 L610.10,370.46 L610.50,370.44 L610.90,370.41 L611.30,370.39 L611.70,370.37 L612.10,370.36 L612.50,370.34 L612.90,370.33 L613.30,370.32 L613.70,370.31 L614.10,370.30 L614.50,370.30 L614.80,370.30 L614.90,370.30 L615.30,370.33 L615.70,370.40 L616.10,370.49 L616.50,370.62 L616.90,370.77 L617.30,370.94 L617.70,371.13 L618.10,371.33 L618.50,371.54 L618.90,371.76 L619.30,371.98 L619.70,372.19 L620.10,372.40 L620.50,372.60 L620.90,372.79 L621.30,372.96 L621.40,373.00 L621.70,373.12 L622.10,373.29 L622.50,373.47 L622.90,373.66 L623.30,373.85 L623.70,374.04 L624.10,374.24 L624.50,374.43 L624.90,374.62 L625.30,374.81 L625.70,374.99 L626.10,375.16 L626.50,375.31 L626.90,375.46 L627.30,375.58 L627.70,375.69 L628.10,375.78 L628.50,375.85 L628.90,375.89 L629.30,375.90 L629.30,375.90 L629.70,375.89 L630.10,375.85 L630.50,375.80 L630.90,375.73 L631.30,375.64 L631.70,375.54 L632.10,375.43 L632.50,375.31 L632.90,375.18 L633.30,375.05 L633.70,374.91 L634.10,374.77 L634.50,374.63 L634.60,374.60 L634.90,374.48 L635.30,374.28 L635.70,374.04 L636.10,373.77 L636.50,373.48 L636.90,373.19 L637.30,372.89 L637.70,372.60 L638.10,372.34 L638.50,372.11 L638.90,371.92 L639.30,371.78 L639.70,371.71 L639.90,371.70 L640.10,371.70 L640.50,371.70 L640.90,371.70 L641.30,371.70 L641.70,371.70 L642.10,371.70 L642.50,371.70 L642.90,371.70 L643.30,371.70 L643.70,371.70 L644.10,371.70 L644.50,371.70 L644.90,371.70 L645.10,371.70 L645.30,371.70 L645.70,371.71 L646.10,371.74 L646.50,371.77 L646.90,371.82 L647.30,371.87 L647.70,371.93 L648.10,371.99 L648.50,372.06 L648.90,372.13 L649.30,372.21 L649.70,372.28 L649.80,372.30" stroke="#151515"/>
<path d="M391.30,378.90 L391.70,378.97 L392.10,379.04 L392.50,379.10 L392.90,379.15 L393.30,379.19 L393.70,379.22 L394.10,379.25 L394.50,379.27 L394.90,379.29 L395.30,379.29 L395.70,379.30 L395.90,379.30 L396.10,379.30 L396.50,379.28 L396.90,379.24 L397.30,379.19 L397.70,379.13 L398.10,379.06 L398.50,378.99 L398.90,378.91 L399.30,378.83 L399.70,378.75 L400.10,378.67 L400.50,378.60 L400.90,378.54 L401.20,378.50 L401.30,378.49 L401.70,378.44 L402.10,378.39 L402.50,378.34 L402.90,378.29 L403.30,378.24 L403.70,378.19 L404.10,378.15 L404.50,378.11 L404.90,378.07 L405.30,378.04 L405.70,378.02 L406.10,378.00 L406.50,378.00 L406.50,378.00 L406.90,378.14 L407.30,378.50 L407.70,378.97 L408.10,379.47 L408.50,379.90 L408.90,380.16 L409.10,380.20 L409.30,380.17 L409.70,379.97 L410.10,379.63 L410.50,379.19 L410.90,378.72 L411.30,378.27 L411.70,377.90 L412.10,377.66 L412.40,377.60 L412.50,377.61 L412.90,377.72 L413.30,377.97 L413.70,378.29 L414.10,378.65 L414.50,379.00 L414.90,379.30 L415.30,379.52 L415.70,379.60 L415.70,379.60 L416.10,379.57 L416.50,379.50 L416.90,379.39 L417.30,379.26 L417.70,379.10 L418.10,378.93 L418.50,378.75 L418.90,378.59 L419.30,378.43 L419.70,378.30 L419.70,378.30 L420.10,378.18 L420.50,378.04 L420.90,377.90 L421.30,377.76 L421.70,377.61 L422.10,377.47 L422.50,377.34 L422.90,377.22 L423.30,377.12 L423.70,377.03 L424.10,376.96 L424.50,376.92 L424.90,376.90 L424.90,376.90 L425.30,376.93 L425.70,377.01 L426.10,377.14 L426.50,377.30 L426.90,377.48 L427.30,377.66 L427.70,377.85 L428.10,378.03 L428.50,378.18 L428.90,378.30 L428.90,378.30 L429.30,378.40 L429.70,378.50 L430.10,378.61 L430.50,378.71 L430.90,378.81 L431.30,378.91 L431.70,379.00 L432.10,379.08 L432.50,379.15 L432.90,379.21 L433.30,379.25 L433.70,379.29 L434.10,379.30 L434.20,379.30 L434.50,379.30 L434.90,379.28 L435.30,379.25 L435.70,379.21 L436.10,379.16 L436.50,379.11 L436.90,379.04 L437.30,378.97 L437.70,378.90 L438.10,378.82 L438.50,378.74 L438.90,378.66 L439.30,378.58 L439.70,378.50 L440.10,378.42 L440.50,378.35 L440.80,378.30 L440.90,378.28 L441.30,378.21 L441.70,378.12 L442.10,378.02 L442.50,377.93 L442.90,377.84 L443.30,377.75 L443.70,377.68 L444.10,377.63 L444.50,377.60 L444.70,377.60 L444.90,377.61 L445.30,377.71 L445.70,377.89 L446.10,378.10 L446.50,378.34 L446.90,378.56 L447.30,378.75 L447.70,378.87 L448.00,378.90 L448.10,378.89 L448.50,378.69 L448.90,378.27 L449.30,377.68 L449.70,376.96 L450.10,376.18 L450.50,375.39 L450.70,375.00 L450.90,374.52 L451.30,373.21 L451.70,372.04 L452.00,371.70 L452.10,371.88 L452.50,375.55 L452.90,382.33 L453.30,389.99 L453.60,395.00 L453.70,396.50 L454.10,403.43 L454.50,411.00 L454.90,418.07 L455.30,423.54 L455.70,426.27 L455.80,426.40 L456.10,424.47 L456.50,416.93 L456.90,405.62 L457.30,392.61 L457.70,379.96 L458.10,369.73 L458.20,367.80 L458.50,362.30 L458.90,354.75 L459.30,347.45 L459.70,340.95 L460.10,335.77 L460.50,332.45 L460.80,331.50 L460.90,331.44 L461.30,331.26 L461.70,331.15 L462.10,331.07 L462.50,330.95 L462.80,330.80 L462.90,330.72 L463.30,329.98 L463.70,328.71 L464.10,327.12 L464.50,325.39 L464.90,323.71 L465.30,322.28 L465.70,321.28 L466.10,320.90 L466.10,320.90 L466.50,321.59 L466.90,323.51 L467.30,326.40 L467.70,330.03 L468.10,334.15 L468.50,338.52 L468.90,342.90 L469.30,347.03 L469.40,348.00 L469.70,351.18 L470.10,356.17 L470.50,361.56 L470.90,366.87 L471.30,371.60 L471.70,375.26 L472.00,377.00 L472.10,377.41 L472.50,378.91 L472.90,380.07 L473.30,380.73 L473.40,380.80 L473.70,380.93 L474.10,381.07 L474.50,381.20 L474.90,381.30 L475.30,381.38 L475.70,381.44 L476.10,381.48 L476.50,381.50 L476.70,381.50 L476.90,381.46 L477.30,381.15 L477.70,380.62 L478.10,379.95 L478.50,379.23 L478.90,378.54 L479.30,377.96 L479.70,377.59 L480.00,377.50 L480.10,377.51 L480.50,377.78 L480.90,378.37 L481.30,379.23 L481.70,380.30 L482.10,381.53 L482.50,382.87 L482.90,384.27 L483.30,385.68 L483.70,387.04 L484.10,388.31 L484.50,389.42 L484.90,390.34 L485.30,391.00 L485.70,391.35 L485.90,391.40 L486.10,391.34 L486.50,390.86 L486.90,389.97 L487.30,388.74 L487.70,387.26 L488.10,385.58 L488.50,383.78 L488.90,381.94 L489.30,380.13 L489.70,378.42 L490.10,376.89 L490.50,375.60 L490.50,375.60 L490.90,374.40 L491.30,373.12 L491.70,371.81 L492.10,370.51 L492.50,369.28 L492.90,368.16 L493.30,367.20 L493.70,366.45 L494.10,365.97 L494.50,365.80 L494.50,365.80 L494.90,366.03 L495.30,366.67 L495.70,367.63 L496.10,368.86 L496.50,370.26 L496.90,371.76 L497.30,373.29 L497.70,374.77 L498.10,376.12 L498.40,377.00 L498.50,377.27 L498.90,378.34 L499.30,379.39 L499.70,380.42 L500.10,381.44 L500.40,382.20 L500.50,382.46 L500.90,383.57 L501.30,384.79 L501.70,386.07 L502.10,387.36 L502.50,388.64 L502.90,389.84 L503.30,390.94 L503.70,391.89 L504.10,392.64 L504.50,393.15 L504.90,393.39 L505.00,393.40 L505.30,393.34 L505.70,393.09 L506.10,392.67 L506.50,392.09 L506.90,391.38 L507.30,390.57 L507.70,389.68 L508.10,388.73 L508.50,387.74 L508.90,386.74 L509.30,385.75 L509.70,384.79 L510.10,383.89 L510.50,383.08 L510.90,382.36 L511.00,382.20 L511.30,381.73 L511.70,381.12 L512.10,380.51 L512.50,379.90 L512.90,379.31 L513.30,378.73 L513.70,378.16 L514.10,377.61 L514.50,377.07 L514.90,376.56 L515.30,376.06 L515.70,375.58 L516.10,375.13 L516.50,374.70 L516.90,374.30 L516.90,374.30 L517.30,373.95 L517.70,373.66 L518.10,373.41 L518.50,373.16 L518.90,372.91 L519.30,372.62 L519.70,372.26 L520.10,371.83 L520.20,371.70 L520.50,371.16 L520.90,370.04 L521.30,368.57 L521.70,366.88 L522.10,365.10 L522.50,363.34 L522.90,361.74 L523.30,360.42 L523.50,359.90 L523.70,359.43 L524.10,358.49 L524.50,357.55 L524.90,356.66 L525.30,355.86 L525.70,355.19 L526.10,354.68 L526.50,354.37 L526.80,354.30 L526.90,354.31 L527.30,354.62 L527.70,355.27 L528.10,356.23 L528.50,357.42 L528.90,358.80 L529.30,360.30 L529.70,361.86 L530.10,363.42 L530.50,364.94 L530.80,366.00 L530.90,366.36 L531.30,368.15 L531.70,370.19 L532.10,372.13 L532.50,373.62 L532.90,374.30 L532.90,374.30 L533.30,374.44 L533.70,374.56 L534.10,374.67 L534.50,374.76 L534.90,374.84 L535.30,374.90 L535.70,374.94 L536.10,374.97 L536.50,374.99 L536.90,375.00 L536.90,375.00 L537.30,374.94 L537.70,374.78 L538.10,374.54 L538.50,374.25 L538.90,373.91 L539.30,373.56 L539.70,373.22 L540.10,372.90 L540.50,372.63 L540.90,372.43 L541.30,372.31 L541.50,372.30 L541.70,372.32 L542.10,372.48 L542.50,372.77 L542.90,373.17 L543.30,373.64 L543.70,374.16 L544.10,374.69 L544.50,375.22 L544.80,375.60 L544.90,375.73 L545.30,376.33 L545.70,377.05 L546.10,377.85 L546.50,378.68 L546.90,379.48 L547.30,380.22 L547.70,380.85 L548.10,381.31 L548.50,381.57 L548.70,381.60 L548.90,381.56 L549.30,381.23 L549.70,380.64 L550.10,379.86 L550.50,378.96 L550.90,378.00 L551.30,377.04 L551.70,376.17 L552.00,375.60 L552.10,375.43 L552.50,374.67 L552.90,373.86 L553.30,373.01 L553.70,372.15 L554.10,371.30 L554.50,370.50 L554.90,369.76 L555.30,369.12 L555.70,368.60 L556.10,368.23 L556.50,368.03 L556.70,368.00 L556.90,368.04 L557.30,368.33 L557.70,368.87 L558.10,369.60 L558.50,370.49 L558.90,371.47 L559.30,372.50 L559.70,373.53 L560.10,374.51 L560.50,375.40 L560.60,375.60 L560.90,376.22 L561.30,377.11 L561.70,378.03 L562.10,378.92 L562.50,379.73 L562.90,380.41 L563.30,380.90 L563.30,380.90 L563.70,381.27 L564.10,381.63 L564.50,381.96 L564.90,382.25 L565.30,382.51 L565.70,382.70 L566.10,382.84 L566.50,382.90 L566.60,382.90 L566.90,382.88 L567.30,382.79 L567.70,382.64 L568.10,382.44 L568.50,382.19 L568.90,381.91 L569.30,381.60 L569.70,381.28 L570.10,380.94 L570.50,380.60 L570.90,380.27 L571.30,379.96 L571.70,379.67 L571.80,379.60 L572.10,379.40 L572.50,379.13 L572.90,378.87 L573.30,378.60 L573.70,378.33 L574.10,378.05 L574.50,377.77 L574.90,377.49 L575.30,377.20 L575.70,376.91 L576.10,376.61 L576.50,376.30 L576.50,376.30 L576.90,375.99 L577.30,375.67 L577.70,375.35 L578.10,375.02 L578.50,374.69 L578.90,374.35 L579.30,374.01 L579.70,373.65 L580.10,373.28 L580.50,372.91 L580.90,372.52 L581.30,372.12 L581.70,371.70 L581.70,371.70 L582.10,371.22 L582.50,370.64 L582.90,369.99 L583.30,369.31 L583.70,368.61 L584.10,367.92 L584.50,367.28 L584.90,366.72 L585.30,366.25 L585.70,365.91 L586.10,365.72 L586.30,365.70 L586.50,365.71 L586.90,365.76 L587.30,365.85 L587.70,365.99 L588.10,366.16 L588.50,366.35 L588.90,366.57 L589.30,366.81 L589.60,367.00 L589.70,367.07 L590.10,367.50 L590.50,368.11 L590.90,368.87 L591.30,369.72 L591.70,370.63 L592.10,371.55 L592.50,372.44 L592.90,373.24 L593.30,373.91 L593.60,374.30 L593.70,374.41 L594.10,374.86 L594.50,375.30 L594.90,375.73 L595.30,376.15 L595.70,376.55 L596.10,376.92 L596.50,377.27 L596.90,377.58 L597.30,377.85 L597.70,378.09 L598.10,378.28 L598.50,378.42 L598.90,378.50 L598.90,378.50 L599.30,378.55 L599.70,378.59 L600.10,378.62 L600.50,378.65 L600.90,378.67 L601.30,378.69 L601.70,378.70 L602.10,378.72 L602.50,378.74 L602.90,378.77 L603.30,378.80 L603.70,378.84 L604.10,378.89 L604.20,378.90 L604.50,378.98 L604.90,379.19 L605.30,379.49 L605.70,379.83 L606.10,380.17 L606.50,380.49 L606.90,380.74 L607.30,380.88 L607.50,380.90 L607.70,380.89 L608.10,380.78 L608.50,380.59 L608.90,380.32 L609.30,379.98 L609.70,379.59 L610.10,379.17 L610.50,378.73 L610.90,378.27 L611.30,377.82 L611.70,377.39 L612.10,376.99 L612.20,376.90 L612.50,376.61 L612.90,376.16 L613.30,375.67 L613.70,375.15 L614.10,374.62 L614.50,374.09 L614.90,373.58 L615.30,373.09 L615.70,372.66 L616.10,372.29 L616.50,372.00 L616.90,371.80 L617.30,371.70 L617.40,371.70 L617.70,371.73 L618.10,371.84 L618.50,372.03 L618.90,372.28 L619.30,372.57 L619.70,372.90 L620.10,373.24 L620.50,373.59 L620.90,373.92 L621.30,374.23 L621.40,374.30 L621.70,374.52 L622.10,374.86 L622.50,375.23 L622.90,375.62 L623.30,376.02 L623.70,376.42 L624.10,376.81 L624.50,377.18 L624.90,377.51 L625.30,377.80 L625.70,378.03 L626.10,378.20 L626.50,378.29 L626.70,378.30 L626.90,378.29 L627.30,378.25 L627.70,378.17 L628.10,378.07 L628.50,377.94 L628.90,377.80 L629.30,377.65 L629.70,377.50 L630.10,377.36 L630.50,377.23 L630.90,377.13 L631.30,377.05 L631.70,377.01 L631.90,377.00 L632.10,377.00 L632.50,377.04 L632.90,377.09 L633.30,377.17 L633.70,377.26 L634.10,377.34 L634.50,377.43 L634.90,377.51 L635.30,377.56 L635.70,377.60 L635.90,377.60 L636.10,377.59 L636.50,377.47 L636.90,377.27 L637.30,376.98 L637.70,376.63 L638.10,376.22 L638.50,375.78 L638.90,375.32 L639.30,374.85 L639.70,374.39 L640.10,373.95 L640.50,373.56 L640.90,373.21 L641.20,373.00 L641.30,372.94 L641.70,372.67 L642.10,372.39 L642.50,372.11 L642.90,371.85 L643.30,371.60 L643.70,371.38 L644.10,371.21 L644.50,371.08 L644.90,371.01 L645.10,371.00 L645.30,371.00 L645.70,371.02 L646.10,371.06 L646.50,371.11 L646.90,371.18 L647.30,371.25 L647.70,371.34 L648.10,371.44 L648.50,371.54 L648.90,371.65 L649.10,371.70 L649.30,371.76 L649.70,371.93 L650.10,372.14 L650.50,372.40 L650.90,372.69 L651.30,373.01 L651.70,373.35 L652.10,373.70 L652.50,374.05 L652.90,374.41 L653.30,374.75 L653.70,375.08 L654.10,375.39 L654.40,375.60 L654.50,375.67 L654.90,375.95 L655.30,376.25 L655.70,376.56 L656.10,376.88 L656.50,377.21 L656.90,377.53 L657.30,377.85 L657.70,378.15 L658.10,378.44 L658.50,378.71 L658.90,378.95 L659.30,379.16 L659.70,379.33 L660.10,379.47 L660.50,379.56 L660.90,379.60 L661.00,379.60 L661.30,379.59 L661.70,379.57 L662.10,379.52 L662.50,379.45 L662.90,379.37 L663.30,379.27 L663.70,379.16 L664.10,379.04 L664.50,378.91 L664.90,378.77 L665.30,378.63 L665.70,378.49 L666.10,378.34 L666.20,378.30 L666.50,378.17 L666.90,377.95 L667.30,377.69 L667.70,377.39 L668.10,377.06 L668.50,376.72 L668.90,376.38 L669.30,376.05 L669.70,375.73 L670.10,375.45 L670.50,375.20 L670.90,375.00 L670.90,375.00 L671.30,374.84 L671.70,374.69 L672.10,374.55 L672.50,374.42 L672.90,374.30 L673.30,374.18 L673.70,374.07 L674.10,373.97 L674.50,373.86 L674.90,373.76 L675.30,373.65 L675.50,373.60 L675.70,373.55 L676.10,373.44 L676.50,373.34 L676.90,373.24 L677.30,373.14 L677.70,373.05 L677.90,373.00" stroke="#ff1414"/>
<path d="M391.30,372.30 L391.70,372.32 L392.10,372.35 L392.50,372.37 L392.90,372.40 L393.30,372.42 L393.70,372.45 L394.10,372.47 L394.50,372.50 L394.90,372.53 L395.30,372.56 L395.70,372.58 L396.10,372.61 L396.50,372.64 L396.90,372.67 L397.30,372.70 L397.70,372.73 L398.10,372.76 L398.50,372.79 L398.90,372.82 L399.30,372.85 L399.70,372.88 L400.10,372.91 L400.50,372.94 L400.90,372.98 L401.20,373.00 L401.30,373.01 L401.70,373.04 L402.10,373.08 L402.50,373.12 L402.90,373.17 L403.30,373.21 L403.70,373.26 L404.10,373.31 L404.50,373.36 L404.90,373.41 L405.30,373.46 L405.70,373.51 L406.10,373.56 L406.50,373.61 L406.90,373.66 L407.30,373.71 L407.70,373.75 L408.10,373.79 L408.50,373.83 L408.90,373.87 L409.30,373.90 L409.70,373.93 L410.10,373.95 L410.50,373.97 L410.90,373.99 L411.30,374.00 L411.70,374.00 L411.70,374.00 L412.10,373.99 L412.50,373.97 L412.90,373.94 L413.30,373.90 L413.70,373.84 L414.10,373.78 L414.50,373.72 L414.90,373.65 L415.30,373.57 L415.70,373.50 L416.10,373.43 L416.50,373.35 L416.90,373.28 L417.30,373.22 L417.70,373.16 L418.10,373.10 L418.50,373.06 L418.90,373.03 L419.30,373.01 L419.70,373.00 L419.70,373.00 L420.10,373.01 L420.50,373.05 L420.90,373.11 L421.30,373.19 L421.70,373.29 L422.10,373.40 L422.50,373.53 L422.90,373.67 L423.30,373.81 L423.70,373.97 L424.10,374.12 L424.50,374.28 L424.90,374.43 L425.30,374.59 L425.70,374.73 L426.10,374.87 L426.50,375.00 L426.90,375.11 L427.30,375.21 L427.70,375.29 L428.10,375.35 L428.50,375.39 L428.90,375.40 L428.90,375.40 L429.30,375.37 L429.70,375.29 L430.10,375.16 L430.50,375.01 L430.90,374.82 L431.30,374.63 L431.70,374.42 L432.10,374.22 L432.50,374.04 L432.90,373.87 L433.30,373.74 L433.70,373.65 L434.10,373.60 L434.20,373.60 L434.50,373.61 L434.90,373.63 L435.30,373.67 L435.70,373.73 L436.10,373.80 L436.50,373.88 L436.90,373.97 L437.30,374.05 L437.70,374.15 L438.10,374.23 L438.50,374.32 L438.90,374.40 L439.30,374.47 L439.70,374.53 L440.10,374.57 L440.50,374.59 L440.80,374.60 L440.90,374.60 L441.30,374.59 L441.70,374.57 L442.10,374.54 L442.50,374.50 L442.90,374.45 L443.30,374.39 L443.70,374.33 L444.10,374.26 L444.50,374.18 L444.90,374.10 L445.30,374.02 L445.70,373.94 L446.10,373.86 L446.50,373.78 L446.90,373.70 L447.30,373.62 L447.40,373.60 L447.70,373.55 L448.10,373.49 L448.50,373.42 L448.90,373.35 L449.30,373.25 L449.70,373.12 L450.00,373.00 L450.10,372.91 L450.50,371.76 L450.90,369.97 L451.30,368.32 L451.70,367.60 L451.70,367.60 L452.10,369.55 L452.50,374.36 L452.90,380.46 L453.00,382.00 L453.30,387.93 L453.70,397.70 L453.80,400.00 L454.10,407.36 L454.50,418.56 L454.90,429.83 L455.30,439.49 L455.70,445.87 L456.00,447.50 L456.10,447.37 L456.50,444.39 L456.90,437.93 L457.30,428.57 L457.70,416.91 L458.10,403.54 L458.20,400.00 L458.50,380.25 L458.90,343.55 L459.20,327.30 L459.30,325.44 L459.70,318.85 L460.10,313.70 L460.50,310.05 L460.90,307.97 L461.20,307.50 L461.30,307.55 L461.70,308.54 L462.10,310.42 L462.50,312.64 L462.90,314.65 L463.30,315.92 L463.50,316.10 L463.70,315.95 L464.10,314.86 L464.50,312.86 L464.90,310.15 L465.30,306.93 L465.70,303.39 L466.10,299.72 L466.50,296.13 L466.90,292.81 L467.30,289.96 L467.70,287.76 L468.10,286.42 L468.40,286.10 L468.50,286.20 L468.90,288.46 L469.30,293.02 L469.70,299.03 L470.10,305.64 L470.50,311.99 L470.70,314.80 L470.90,317.38 L471.30,322.53 L471.70,328.35 L471.80,330.00 L472.10,335.79 L472.50,345.07 L472.90,355.10 L473.30,364.77 L473.40,367.00 L473.70,373.44 L474.10,381.75 L474.50,389.89 L474.90,397.97 L475.00,400.00 L475.30,406.94 L475.70,417.47 L476.10,427.07 L476.50,433.12 L476.70,434.00 L476.90,433.79 L477.30,432.25 L477.70,429.58 L478.10,426.22 L478.50,422.58 L478.90,419.11 L479.30,416.23 L479.70,414.37 L480.00,413.90 L480.10,413.94 L480.50,414.72 L480.90,416.25 L481.30,418.15 L481.70,420.05 L482.10,421.58 L482.50,422.36 L482.60,422.40 L482.90,421.82 L483.30,419.50 L483.70,415.82 L484.10,411.26 L484.50,406.29 L484.90,401.37 L485.30,396.96 L485.40,396.00 L485.70,393.05 L486.10,388.78 L486.50,384.42 L486.90,380.29 L487.30,376.70 L487.70,373.95 L487.90,373.00 L488.10,372.28 L488.50,371.16 L488.90,370.31 L489.30,369.48 L489.70,368.46 L489.90,367.80 L490.10,367.00 L490.50,364.93 L490.90,362.35 L491.30,359.37 L491.70,356.10 L492.10,352.66 L492.50,349.16 L492.90,345.72 L493.30,342.44 L493.70,339.46 L494.10,336.87 L494.50,334.80 L494.50,334.80 L494.90,333.00 L495.30,331.18 L495.70,329.39 L496.10,327.66 L496.50,326.04 L496.90,324.56 L497.30,323.28 L497.70,322.23 L498.10,321.46 L498.50,321.01 L498.80,320.90 L498.90,320.91 L499.30,321.20 L499.70,321.84 L500.10,322.79 L500.50,324.00 L500.90,325.42 L501.30,327.03 L501.70,328.77 L502.10,330.59 L502.50,332.46 L502.90,334.34 L503.00,334.80 L503.30,336.31 L503.70,338.70 L504.10,341.42 L504.50,344.43 L504.90,347.65 L505.30,350.99 L505.70,354.41 L506.10,357.82 L506.50,361.15 L506.90,364.34 L507.00,365.10 L507.30,367.39 L507.70,370.50 L508.10,373.62 L508.50,376.72 L508.90,379.75 L509.30,382.69 L509.60,384.80 L509.70,385.51 L510.10,388.66 L510.50,392.03 L510.90,395.23 L511.30,397.87 L511.70,399.57 L512.00,400.00 L512.10,399.98 L512.50,399.58 L512.90,398.79 L513.30,397.76 L513.70,396.67 L514.10,395.69 L514.50,394.97 L514.90,394.70 L514.90,394.70 L515.30,394.83 L515.70,395.17 L516.10,395.70 L516.50,396.34 L516.90,397.08 L517.30,397.84 L517.70,398.60 L518.10,399.29 L518.50,399.88 L518.90,400.33 L519.30,400.57 L519.50,400.60 L519.70,400.52 L520.10,399.93 L520.50,398.84 L520.90,397.35 L521.30,395.57 L521.70,393.58 L522.10,391.49 L522.50,389.40 L522.90,387.40 L523.30,385.60 L523.50,384.80 L523.70,384.05 L524.10,382.60 L524.50,381.19 L524.90,379.81 L525.30,378.44 L525.70,377.07 L526.10,375.66 L526.50,374.22 L526.90,372.71 L527.30,371.13 L527.50,370.30 L527.70,369.41 L528.10,367.42 L528.50,365.32 L528.90,363.30 L529.30,361.56 L529.40,361.20 L529.70,360.15 L530.10,358.72 L530.50,357.30 L530.90,355.90 L531.30,354.53 L531.70,353.23 L532.10,352.00 L532.50,350.87 L532.90,349.87 L533.30,348.99 L533.70,348.28 L534.10,347.75 L534.50,347.42 L534.90,347.30 L534.90,347.30 L535.30,347.41 L535.70,347.72 L536.10,348.21 L536.50,348.87 L536.90,349.69 L537.30,350.63 L537.70,351.69 L538.10,352.84 L538.50,354.08 L538.90,355.37 L539.30,356.71 L539.70,358.08 L540.10,359.46 L540.20,359.80 L540.50,360.97 L540.90,362.93 L541.30,365.22 L541.70,367.72 L542.10,370.31 L542.50,372.87 L542.90,375.27 L543.30,377.38 L543.50,378.30 L543.70,379.19 L544.10,381.07 L544.50,382.96 L544.90,384.71 L545.30,386.16 L545.70,387.14 L546.10,387.50 L546.10,387.50 L546.50,387.20 L546.90,386.42 L547.30,385.31 L547.70,384.02 L548.10,382.71 L548.50,381.53 L548.90,380.65 L549.30,380.22 L549.40,380.20 L549.70,380.35 L550.10,380.98 L550.50,382.01 L550.90,383.38 L551.30,384.98 L551.70,386.74 L552.10,388.58 L552.50,390.41 L552.90,392.14 L553.30,393.69 L553.70,394.98 L554.10,395.92 L554.50,396.43 L554.70,396.50 L554.90,396.46 L555.30,396.15 L555.70,395.56 L556.10,394.74 L556.50,393.73 L556.90,392.55 L557.30,391.25 L557.70,389.87 L558.10,388.44 L558.50,387.00 L558.90,385.60 L559.30,384.26 L559.70,383.03 L560.00,382.20 L560.10,381.93 L560.50,380.79 L560.90,379.55 L561.30,378.26 L561.70,376.99 L562.10,375.76 L562.50,374.65 L562.90,373.69 L563.30,372.93 L563.70,372.44 L563.90,372.30 L564.10,372.21 L564.50,372.07 L564.90,371.96 L565.30,371.87 L565.70,371.80 L566.10,371.73 L566.50,371.63 L566.90,371.52 L567.20,371.40 L567.30,371.35 L567.70,371.11 L568.10,370.78 L568.50,370.39 L568.90,369.93 L569.30,369.44 L569.70,368.92 L570.10,368.39 L570.50,367.87 L570.90,367.36 L571.20,367.00 L571.30,366.88 L571.70,366.36 L572.10,365.77 L572.50,365.14 L572.90,364.48 L573.30,363.82 L573.70,363.17 L574.10,362.54 L574.50,361.96 L574.90,361.45 L575.30,361.02 L575.70,360.69 L576.10,360.47 L576.50,360.40 L576.50,360.40 L576.90,360.53 L577.30,360.90 L577.70,361.45 L578.10,362.16 L578.50,362.97 L578.90,363.85 L579.30,364.75 L579.70,365.63 L580.10,366.45 L580.40,367.00 L580.50,367.17 L580.90,367.89 L581.30,368.63 L581.70,369.39 L582.10,370.16 L582.50,370.93 L582.90,371.68 L583.30,372.41 L583.70,373.11 L584.10,373.76 L584.50,374.35 L584.90,374.88 L585.00,375.00 L585.30,375.36 L585.70,375.83 L586.10,376.31 L586.50,376.77 L586.90,377.21 L587.30,377.63 L587.70,378.01 L588.10,378.34 L588.50,378.63 L588.90,378.86 L589.30,379.03 L589.60,379.10 L589.70,379.12 L590.10,379.17 L590.50,379.22 L590.90,379.25 L591.30,379.28 L591.70,379.30 L592.10,379.33 L592.50,379.36 L592.90,379.40 L593.30,379.45 L593.60,379.50 L593.70,379.52 L594.10,379.67 L594.50,379.91 L594.90,380.22 L595.30,380.58 L595.70,380.98 L596.10,381.39 L596.50,381.80 L596.90,382.20 L596.90,382.20 L597.30,382.64 L597.70,383.18 L598.10,383.78 L598.50,384.39 L598.90,384.98 L599.30,385.49 L599.70,385.89 L600.10,386.14 L600.40,386.20 L600.50,386.20 L600.90,386.11 L601.30,385.91 L601.70,385.62 L602.10,385.25 L602.50,384.82 L602.90,384.33 L603.30,383.82 L603.70,383.28 L604.10,382.74 L604.50,382.20 L604.90,381.69 L605.30,381.22 L605.60,380.90 L605.70,380.80 L606.10,380.38 L606.50,379.96 L606.90,379.53 L607.30,379.09 L607.70,378.66 L608.10,378.22 L608.50,377.79 L608.90,377.36 L609.30,376.95 L609.70,376.55 L610.10,376.17 L610.50,375.80 L610.90,375.46 L611.30,375.15 L611.50,375.00 L611.70,374.85 L612.10,374.56 L612.50,374.25 L612.90,373.95 L613.30,373.64 L613.70,373.34 L614.10,373.06 L614.50,372.79 L614.90,372.54 L615.30,372.31 L615.70,372.11 L616.10,371.95 L616.50,371.82 L616.90,371.74 L617.30,371.70 L617.40,371.70 L617.70,371.70 L618.10,371.70 L618.50,371.70 L618.90,371.70 L619.30,371.70 L619.70,371.70 L620.10,371.70 L620.50,371.70 L620.90,371.70 L621.30,371.70 L621.70,371.70 L622.10,371.70 L622.50,371.70 L622.70,371.70 L622.90,371.71 L623.30,371.81 L623.70,372.00 L624.10,372.25 L624.50,372.57 L624.90,372.93 L625.30,373.31 L625.70,373.71 L626.10,374.11 L626.50,374.50 L626.90,374.86 L627.30,375.18 L627.70,375.45 L628.00,375.60 L628.10,375.64 L628.50,375.82 L628.90,375.99 L629.30,376.17 L629.70,376.34 L630.10,376.50 L630.50,376.66 L630.90,376.82 L631.30,376.96 L631.70,377.09 L632.10,377.21 L632.50,377.32 L632.90,377.41 L633.30,377.49 L633.70,377.54 L634.10,377.58 L634.50,377.60 L634.60,377.60 L634.90,377.57 L635.30,377.44 L635.70,377.21 L636.10,376.92 L636.50,376.55 L636.90,376.15 L637.30,375.71 L637.70,375.24 L638.10,374.78 L638.50,374.32 L638.90,373.89 L639.30,373.49 L639.70,373.15 L639.90,373.00 L640.10,372.86 L640.50,372.56 L640.90,372.25 L641.30,371.93 L641.70,371.62 L642.10,371.32 L642.50,371.04 L642.90,370.80 L643.30,370.59 L643.70,370.44 L644.10,370.34 L644.50,370.30 L644.50,370.30 L644.90,370.36 L645.30,370.51 L645.70,370.72 L646.10,370.97 L646.50,371.22 L646.90,371.44 L647.30,371.61 L647.70,371.70 L647.80,371.70 L648.10,371.65 L648.50,371.47 L648.90,371.18 L649.30,370.81 L649.70,370.40 L650.10,369.99 L650.50,369.61 L650.90,369.29 L651.30,369.08 L651.70,369.00 L651.70,369.00 L652.10,369.03 L652.50,369.11 L652.90,369.24 L653.30,369.42 L653.70,369.63 L654.10,369.88 L654.50,370.16 L654.90,370.47 L655.30,370.80 L655.70,371.14 L656.10,371.49 L656.50,371.85 L656.90,372.21 L657.00,372.30 L657.30,372.60 L657.70,373.08 L658.10,373.64 L658.50,374.26 L658.90,374.92 L659.30,375.60 L659.70,376.29 L660.10,376.95 L660.50,377.59 L660.90,378.17 L661.00,378.30 L661.30,378.72 L661.70,379.32 L662.10,379.95 L662.50,380.57 L662.90,381.14 L663.30,381.62 L663.70,381.98 L664.10,382.17 L664.30,382.20 L664.50,382.20 L664.90,382.18 L665.30,382.15 L665.70,382.11 L666.10,382.06 L666.50,381.99 L666.90,381.91 L667.30,381.83 L667.70,381.73 L668.10,381.63 L668.20,381.60 L668.50,381.47 L668.90,381.15 L669.30,380.70 L669.70,380.16 L670.10,379.56 L670.50,378.94 L670.90,378.33 L671.30,377.78 L671.70,377.31 L672.10,376.96 L672.20,376.90 L672.50,376.74 L672.90,376.54 L673.30,376.38 L673.70,376.23 L674.10,376.09 L674.50,375.96 L674.90,375.82 L675.30,375.68 L675.50,375.60 L675.70,375.52 L676.10,375.35 L676.50,375.19 L676.90,375.02 L677.30,374.85 L677.70,374.69 L677.90,374.60" stroke="#1a1aff"/>
</g>
<g font-size="10.8" fill="#000" text-anchor="end">
<text x="387.2" y="264.4">4</text>
<text x="387.2" y="292.5">3</text>
<text x="387.2" y="320.6">2</text>
<text x="387.2" y="348.8">1</text>
<text x="387.2" y="376.9">0</text>
<text x="387.2" y="405.0">-1</text>
<text x="387.2" y="433.1">-2</text>
<text x="387.2" y="461.2">-3</text>
</g>
<g font-size="12" fill="#111" text-anchor="middle">
<text x="391.5" y="485.5">0</text>
<text x="463.1" y="485.5">2.5</text>
<text x="534.6" y="485.5">5</text>
<text x="606.2" y="485.5">7.5</text>
<text x="677.8" y="485.5">10</text>
</g>
<text x="359.1" y="266.1" font-size="11" fill="#000">(d)</text>
<text transform="translate(371.8,410.8) rotate(-90)" font-size="16.5" font-weight="bold" fill="#000" textLength="40.2" lengthAdjust="spacingAndGlyphs">Stress</text>
<text transform="translate(370.0,364.4) rotate(-90)" font-size="10" fill="#000" textLength="26.4" lengthAdjust="spacingAndGlyphs">(MPa)</text>
<text x="493.9" y="498.5" font-size="16.2" font-weight="bold" fill="#000" textLength="31.4" lengthAdjust="spacingAndGlyphs">Time</text>
<text x="534.3" y="496.7" font-size="10" fill="#000" textLength="19.0" lengthAdjust="spacingAndGlyphs">(ms)</text>
<path d="M525.2,279.6h24.1" stroke="#222" stroke-width="1.3"/>
<text x="554.6" y="283.7" font-size="9.7" fill="#000" textLength="79.6" lengthAdjust="spacingAndGlyphs">First Test-Channel 5</text>
<path d="M525.2,292.2h24.1" stroke="#ff1414" stroke-width="1.3"/>
<text x="554.6" y="296.3" font-size="9.7" fill="#000" textLength="90.0" lengthAdjust="spacingAndGlyphs">Second Test-Channel 5</text>
<path d="M525.2,304.8h24.1" stroke="#2a2aff" stroke-width="1.3"/>
<text x="554.6" y="308.9" font-size="9.7" fill="#000" textLength="83.3" lengthAdjust="spacingAndGlyphs">Third Test-Channel 5</text>
</g>
</g>
</svg>
</body></html>
